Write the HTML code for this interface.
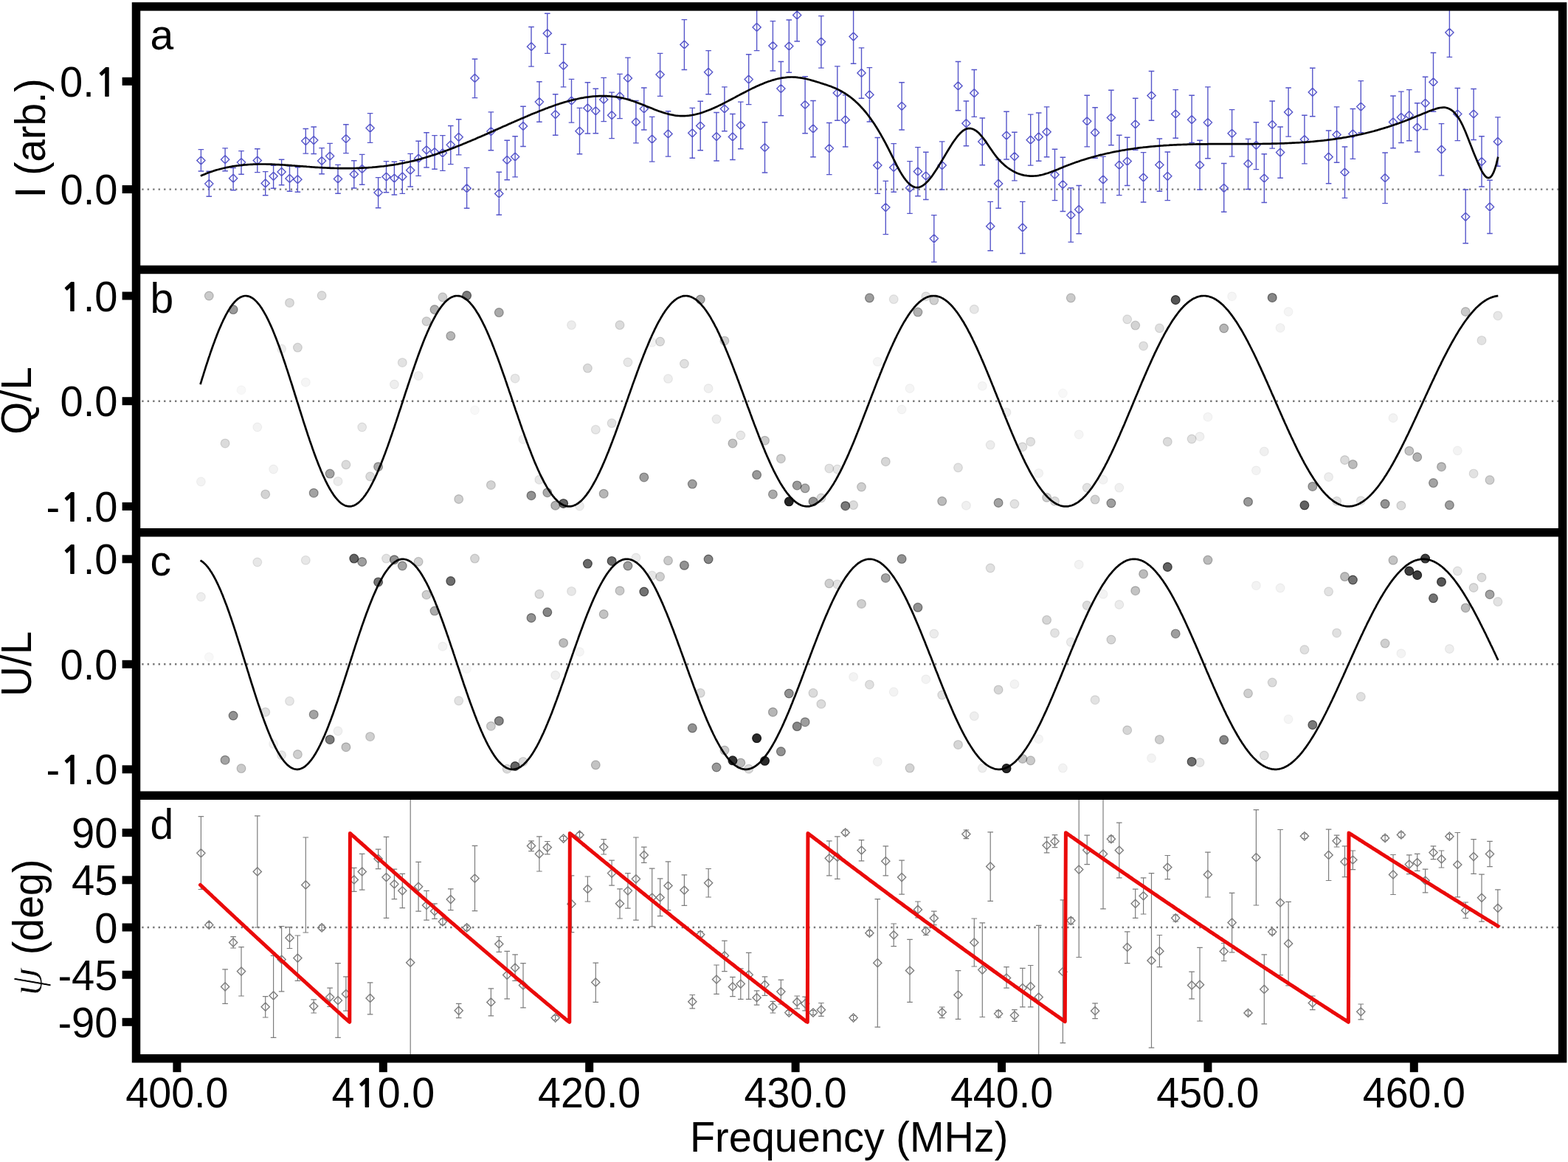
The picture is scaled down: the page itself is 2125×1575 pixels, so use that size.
<!DOCTYPE html>
<html><head><meta charset="utf-8"><title>Figure</title>
<style>html,body{margin:0;padding:0;background:#fff;}svg{display:block;}</style>
</head><body>
<svg xmlns="http://www.w3.org/2000/svg" width="2125" height="1575" viewBox="0 0 2125 1575"><rect x="0" y="0" width="2125" height="1575" fill="#fff"/><defs><clipPath id="cp0"><rect x="184.5" y="8.9" width="1933.1" height="356.6"/></clipPath><clipPath id="cp1"><rect x="184.5" y="365.5" width="1933.1" height="356.29999999999995"/></clipPath><clipPath id="cp2"><rect x="184.5" y="721.8" width="1933.1" height="356.5"/></clipPath><clipPath id="cp3"><rect x="184.5" y="1078.3" width="1933.1" height="356.4000000000001"/></clipPath></defs><g clip-path="url(#cp0)"><line x1="190.25" y1="256.6" x2="2111.85" y2="256.6" stroke="#787878" stroke-width="2.4" stroke-dasharray="2.4 5.0635" stroke-dashoffset="-1.950"/><path d="M272.4 202.6V232.0M268.6 202.6h7.6M268.6 232.0h7.6M272.4 211.9l5.6 5.6l-5.6 5.6l-5.6 -5.6zM283.3 232.2V266.2M279.5 232.2h7.6M279.5 266.2h7.6M283.3 243.5l5.6 5.6l-5.6 5.6l-5.6 -5.6zM305.1 200.9V231.8M301.3 200.9h7.6M301.3 231.8h7.6M305.1 210.6l5.6 5.6l-5.6 5.6l-5.6 -5.6zM316.1 227.6V257.7M312.3 227.6h7.6M312.3 257.7h7.6M316.1 236.1l5.6 5.6l-5.6 5.6l-5.6 -5.6zM327.0 204.6V236.2M323.2 204.6h7.6M323.2 236.2h7.6M327.0 214.5l5.6 5.6l-5.6 5.6l-5.6 -5.6zM348.8 201.7V233.6M345.0 201.7h7.6M345.0 233.6h7.6M348.8 211.9l5.6 5.6l-5.6 5.6l-5.6 -5.6zM359.7 232.6V264.8M355.9 232.6h7.6M355.9 264.8h7.6M359.7 242.8l5.6 5.6l-5.6 5.6l-5.6 -5.6zM370.6 224.3V255.3M366.8 224.3h7.6M366.8 255.3h7.6M370.6 233.2l5.6 5.6l-5.6 5.6l-5.6 -5.6zM381.6 216.2V250.7M377.8 216.2h7.6M377.8 250.7h7.6M381.6 227.3l5.6 5.6l-5.6 5.6l-5.6 -5.6zM392.5 225.0V259.2M388.7 225.0h7.6M388.7 259.2h7.6M392.5 236.3l5.6 5.6l-5.6 5.6l-5.6 -5.6zM403.4 226.7V260.2M399.6 226.7h7.6M399.6 260.2h7.6M403.4 237.6l5.6 5.6l-5.6 5.6l-5.6 -5.6zM414.3 174.5V208.1M410.5 174.5h7.6M410.5 208.1h7.6M414.3 185.5l5.6 5.6l-5.6 5.6l-5.6 -5.6zM425.2 172.0V208.5M421.4 172.0h7.6M421.4 208.5h7.6M425.2 184.5l5.6 5.6l-5.6 5.6l-5.6 -5.6zM436.1 200.6V235.8M432.3 200.6h7.6M432.3 235.8h7.6M436.1 212.4l5.6 5.6l-5.6 5.6l-5.6 -5.6zM447.1 194.4V227.6M443.3 194.4h7.6M443.3 227.6h7.6M447.1 206.0l5.6 5.6l-5.6 5.6l-5.6 -5.6zM458.0 223.4V262.3M454.2 223.4h7.6M454.2 262.3h7.6M458.0 236.9l5.6 5.6l-5.6 5.6l-5.6 -5.6zM468.9 168.7V207.6M465.1 168.7h7.6M465.1 207.6h7.6M468.9 182.5l5.6 5.6l-5.6 5.6l-5.6 -5.6zM479.8 217.7V255.0M476.0 217.7h7.6M476.0 255.0h7.6M479.8 230.6l5.6 5.6l-5.6 5.6l-5.6 -5.6zM490.7 209.4V250.3M486.9 209.4h7.6M486.9 250.3h7.6M490.7 223.3l5.6 5.6l-5.6 5.6l-5.6 -5.6zM501.6 153.6V193.4M497.8 153.6h7.6M497.8 193.4h7.6M501.6 168.0l5.6 5.6l-5.6 5.6l-5.6 -5.6zM512.6 240.6V281.8M508.8 240.6h7.6M508.8 281.8h7.6M512.6 255.4l5.6 5.6l-5.6 5.6l-5.6 -5.6zM523.5 218.6V260.8M519.7 218.6h7.6M519.7 260.8h7.6M523.5 234.0l5.6 5.6l-5.6 5.6l-5.6 -5.6zM534.4 219.3V264.0M530.6 219.3h7.6M530.6 264.0h7.6M534.4 236.0l5.6 5.6l-5.6 5.6l-5.6 -5.6zM545.3 217.6V262.4M541.5 217.6h7.6M541.5 262.4h7.6M545.3 233.8l5.6 5.6l-5.6 5.6l-5.6 -5.6zM556.2 208.4V253.0M552.4 208.4h7.6M552.4 253.0h7.6M556.2 225.1l5.6 5.6l-5.6 5.6l-5.6 -5.6zM567.1 191.3V238.4M563.3 191.3h7.6M563.3 238.4h7.6M567.1 209.1l5.6 5.6l-5.6 5.6l-5.6 -5.6zM578.0 179.7V227.0M574.2 179.7h7.6M574.2 227.0h7.6M578.0 197.7l5.6 5.6l-5.6 5.6l-5.6 -5.6zM589.0 183.6V229.2M585.2 183.6h7.6M585.2 229.2h7.6M589.0 200.4l5.6 5.6l-5.6 5.6l-5.6 -5.6zM599.9 183.6V231.4M596.1 183.6h7.6M596.1 231.4h7.6M599.9 201.7l5.6 5.6l-5.6 5.6l-5.6 -5.6zM610.8 170.5V222.6M607.0 170.5h7.6M607.0 222.6h7.6M610.8 190.7l5.6 5.6l-5.6 5.6l-5.6 -5.6zM621.7 161.7V209.9M617.9 161.7h7.6M617.9 209.9h7.6M621.7 180.2l5.6 5.6l-5.6 5.6l-5.6 -5.6zM632.6 227.4V282.2M628.8 227.4h7.6M628.8 282.2h7.6M632.6 249.6l5.6 5.6l-5.6 5.6l-5.6 -5.6zM643.5 80.0V132.6M639.7 80.0h7.6M639.7 132.6h7.6M643.5 100.3l5.6 5.6l-5.6 5.6l-5.6 -5.6zM665.4 151.9V203.8M661.6 151.9h7.6M661.6 203.8h7.6M665.4 172.5l5.6 5.6l-5.6 5.6l-5.6 -5.6zM676.3 233.3V291.3M672.5 233.3h7.6M672.5 291.3h7.6M676.3 256.8l5.6 5.6l-5.6 5.6l-5.6 -5.6zM687.2 190.2V243.8M683.4 190.2h7.6M683.4 243.8h7.6M687.2 211.3l5.6 5.6l-5.6 5.6l-5.6 -5.6zM698.1 184.7V239.9M694.3 184.7h7.6M694.3 239.9h7.6M698.1 206.9l5.6 5.6l-5.6 5.6l-5.6 -5.6zM709.0 144.2V198.5M705.2 144.2h7.6M705.2 198.5h7.6M709.0 165.3l5.6 5.6l-5.6 5.6l-5.6 -5.6zM720.0 36.5V90.1M716.2 36.5h7.6M716.2 90.1h7.6M720.0 57.6l5.6 5.6l-5.6 5.6l-5.6 -5.6zM730.9 110.7V165.2M727.1 110.7h7.6M727.1 165.2h7.6M730.9 132.5l5.6 5.6l-5.6 5.6l-5.6 -5.6zM741.8 18.3V72.4M738.0 18.3h7.6M738.0 72.4h7.6M741.8 39.6l5.6 5.6l-5.6 5.6l-5.6 -5.6zM752.7 127.8V183.2M748.9 127.8h7.6M748.9 183.2h7.6M752.7 149.5l5.6 5.6l-5.6 5.6l-5.6 -5.6zM763.6 60.3V117.9M759.8 60.3h7.6M759.8 117.9h7.6M763.6 83.4l5.6 5.6l-5.6 5.6l-5.6 -5.6zM774.5 107.4V166.1M770.7 107.4h7.6M770.7 166.1h7.6M774.5 130.9l5.6 5.6l-5.6 5.6l-5.6 -5.6zM785.5 146.4V208.8M781.7 146.4h7.6M781.7 208.8h7.6M785.5 172.1l5.6 5.6l-5.6 5.6l-5.6 -5.6zM796.4 111.8V181.0M792.6 111.8h7.6M792.6 181.0h7.6M796.4 140.8l5.6 5.6l-5.6 5.6l-5.6 -5.6zM807.3 120.3V180.8M803.5 120.3h7.6M803.5 180.8h7.6M807.3 144.7l5.6 5.6l-5.6 5.6l-5.6 -5.6zM818.2 105.4V164.6M814.4 105.4h7.6M814.4 164.6h7.6M818.2 129.4l5.6 5.6l-5.6 5.6l-5.6 -5.6zM829.1 125.1V187.6M825.3 125.1h7.6M825.3 187.6h7.6M829.1 150.6l5.6 5.6l-5.6 5.6l-5.6 -5.6zM840.0 100.4V160.6M836.2 100.4h7.6M836.2 160.6h7.6M840.0 124.8l5.6 5.6l-5.6 5.6l-5.6 -5.6zM850.9 78.1V134.3M847.1 78.1h7.6M847.1 134.3h7.6M850.9 100.3l5.6 5.6l-5.6 5.6l-5.6 -5.6zM861.9 136.5V193.9M858.1 136.5h7.6M858.1 193.9h7.6M861.9 159.8l5.6 5.6l-5.6 5.6l-5.6 -5.6zM872.8 119.0V176.0M869.0 119.0h7.6M869.0 176.0h7.6M872.8 141.9l5.6 5.6l-5.6 5.6l-5.6 -5.6zM883.7 158.4V219.1M879.9 158.4h7.6M879.9 219.1h7.6M883.7 183.0l5.6 5.6l-5.6 5.6l-5.6 -5.6zM894.6 72.4V130.4M890.8 72.4h7.6M890.8 130.4h7.6M894.6 95.5l5.6 5.6l-5.6 5.6l-5.6 -5.6zM905.5 150.8V212.1M901.7 150.8h7.6M901.7 212.1h7.6M905.5 175.8l5.6 5.6l-5.6 5.6l-5.6 -5.6zM927.4 26.6V94.5M923.6 26.6h7.6M923.6 94.5h7.6M927.4 54.9l5.6 5.6l-5.6 5.6l-5.6 -5.6zM938.3 146.4V214.3M934.5 146.4h7.6M934.5 214.3h7.6M938.3 174.7l5.6 5.6l-5.6 5.6l-5.6 -5.6zM949.2 137.2V203.8M945.4 137.2h7.6M945.4 203.8h7.6M949.2 164.9l5.6 5.6l-5.6 5.6l-5.6 -5.6zM960.1 68.6V127.8M956.3 68.6h7.6M956.3 127.8h7.6M960.1 92.2l5.6 5.6l-5.6 5.6l-5.6 -5.6zM971.0 152.5V218.0M967.2 152.5h7.6M967.2 218.0h7.6M971.0 179.5l5.6 5.6l-5.6 5.6l-5.6 -5.6zM981.9 117.9V177.7M978.1 117.9h7.6M978.1 177.7h7.6M981.9 141.9l5.6 5.6l-5.6 5.6l-5.6 -5.6zM992.9 154.5V216.5M989.1 154.5h7.6M989.1 216.5h7.6M992.9 179.8l5.6 5.6l-5.6 5.6l-5.6 -5.6zM1003.8 138.1V201.8M1000.0 138.1h7.6M1000.0 201.8h7.6M1003.8 164.2l5.6 5.6l-5.6 5.6l-5.6 -5.6zM1014.7 73.7V141.6M1010.9 73.7h7.6M1010.9 141.6h7.6M1014.7 102.0l5.6 5.6l-5.6 5.6l-5.6 -5.6zM1025.6 5.0V68.6M1021.8 5.0h7.6M1021.8 68.6h7.6M1025.6 31.3l5.6 5.6l-5.6 5.6l-5.6 -5.6zM1036.5 165.7V234.0M1032.7 165.7h7.6M1032.7 234.0h7.6M1036.5 194.4l5.6 5.6l-5.6 5.6l-5.6 -5.6zM1047.4 28.6V96.0M1043.6 28.6h7.6M1043.6 96.0h7.6M1047.4 56.5l5.6 5.6l-5.6 5.6l-5.6 -5.6zM1058.4 83.5V156.7M1054.6 83.5h7.6M1054.6 156.7h7.6M1058.4 114.5l5.6 5.6l-5.6 5.6l-5.6 -5.6zM1069.3 27.0V98.2M1065.5 27.0h7.6M1065.5 98.2h7.6M1069.3 56.9l5.6 5.6l-5.6 5.6l-5.6 -5.6zM1080.2 -15.0V56.0M1076.4 -15.0h7.6M1076.4 56.0h7.6M1080.2 14.9l5.6 5.6l-5.6 5.6l-5.6 -5.6zM1091.1 103.7V180.8M1087.3 103.7h7.6M1087.3 180.8h7.6M1091.1 136.4l5.6 5.6l-5.6 5.6l-5.6 -5.6zM1102.0 136.5V212.7M1098.2 136.5h7.6M1098.2 212.7h7.6M1102.0 168.8l5.6 5.6l-5.6 5.6l-5.6 -5.6zM1112.9 21.6V92.1M1109.1 21.6h7.6M1109.1 92.1h7.6M1112.9 51.0l5.6 5.6l-5.6 5.6l-5.6 -5.6zM1123.8 166.5V236.6M1120.0 166.5h7.6M1120.0 236.6h7.6M1123.8 195.5l5.6 5.6l-5.6 5.6l-5.6 -5.6zM1134.8 89.9V163.2M1131.0 89.9h7.6M1131.0 163.2h7.6M1134.8 120.4l5.6 5.6l-5.6 5.6l-5.6 -5.6zM1145.7 128.9V199.0M1141.9 128.9h7.6M1141.9 199.0h7.6M1145.7 156.8l5.6 5.6l-5.6 5.6l-5.6 -5.6zM1156.6 13.0V86.2M1152.8 13.0h7.6M1152.8 86.2h7.6M1156.6 44.0l5.6 5.6l-5.6 5.6l-5.6 -5.6zM1167.5 64.9V133.2M1163.7 64.9h7.6M1163.7 133.2h7.6M1167.5 93.3l5.6 5.6l-5.6 5.6l-5.6 -5.6zM1178.4 91.6V165.0M1174.6 91.6h7.6M1174.6 165.0h7.6M1178.4 122.8l5.6 5.6l-5.6 5.6l-5.6 -5.6zM1189.3 186.5V262.4M1185.5 186.5h7.6M1185.5 262.4h7.6M1189.3 218.5l5.6 5.6l-5.6 5.6l-5.6 -5.6zM1200.3 245.4V317.6M1196.5 245.4h7.6M1196.5 317.6h7.6M1200.3 275.5l5.6 5.6l-5.6 5.6l-5.6 -5.6zM1211.2 194.6V260.3M1207.4 194.6h7.6M1207.4 260.3h7.6M1211.2 221.4l5.6 5.6l-5.6 5.6l-5.6 -5.6zM1222.1 111.8V176.0M1218.3 111.8h7.6M1218.3 176.0h7.6M1222.1 138.2l5.6 5.6l-5.6 5.6l-5.6 -5.6zM1233.0 218.6V289.4M1229.2 218.6h7.6M1229.2 289.4h7.6M1233.0 249.2l5.6 5.6l-5.6 5.6l-5.6 -5.6zM1243.9 199.6V265.7M1240.1 199.6h7.6M1240.1 265.7h7.6M1243.9 226.8l5.6 5.6l-5.6 5.6l-5.6 -5.6zM1254.8 206.2V270.5M1251.0 206.2h7.6M1251.0 270.5h7.6M1254.8 232.8l5.6 5.6l-5.6 5.6l-5.6 -5.6zM1265.8 291.6V355.1M1262.0 291.6h7.6M1262.0 355.1h7.6M1265.8 317.7l5.6 5.6l-5.6 5.6l-5.6 -5.6zM1276.7 191.9V257.0M1272.9 191.9h7.6M1272.9 257.0h7.6M1276.7 218.5l5.6 5.6l-5.6 5.6l-5.6 -5.6zM1298.5 83.5V149.7M1294.7 83.5h7.6M1294.7 149.7h7.6M1298.5 110.8l5.6 5.6l-5.6 5.6l-5.6 -5.6zM1309.4 137.0V197.8M1305.6 137.0h7.6M1305.6 197.8h7.6M1309.4 161.6l5.6 5.6l-5.6 5.6l-5.6 -5.6zM1320.3 94.5V158.4M1316.5 94.5h7.6M1316.5 158.4h7.6M1320.3 120.6l5.6 5.6l-5.6 5.6l-5.6 -5.6zM1331.3 160.0V223.7M1327.5 160.0h7.6M1327.5 223.7h7.6M1331.3 186.3l5.6 5.6l-5.6 5.6l-5.6 -5.6zM1342.2 273.4V339.7M1338.4 273.4h7.6M1338.4 339.7h7.6M1342.2 301.1l5.6 5.6l-5.6 5.6l-5.6 -5.6zM1353.1 216.5V282.2M1349.3 216.5h7.6M1349.3 282.2h7.6M1353.1 243.3l5.6 5.6l-5.6 5.6l-5.6 -5.6zM1364.0 151.2V216.0M1360.2 151.2h7.6M1360.2 216.0h7.6M1364.0 178.0l5.6 5.6l-5.6 5.6l-5.6 -5.6zM1374.9 179.2V244.9M1371.1 179.2h7.6M1371.1 244.9h7.6M1374.9 206.5l5.6 5.6l-5.6 5.6l-5.6 -5.6zM1385.8 273.4V343.5M1382.0 273.4h7.6M1382.0 343.5h7.6M1385.8 302.8l5.6 5.6l-5.6 5.6l-5.6 -5.6zM1396.7 155.1V224.1M1392.9 155.1h7.6M1392.9 224.1h7.6M1396.7 184.1l5.6 5.6l-5.6 5.6l-5.6 -5.6zM1407.7 153.0V218.2M1403.9 153.0h7.6M1403.9 218.2h7.6M1407.7 179.8l5.6 5.6l-5.6 5.6l-5.6 -5.6zM1418.6 144.9V212.7M1414.8 144.9h7.6M1414.8 212.7h7.6M1418.6 173.2l5.6 5.6l-5.6 5.6l-5.6 -5.6zM1429.5 202.2V271.6M1425.7 202.2h7.6M1425.7 271.6h7.6M1429.5 231.2l5.6 5.6l-5.6 5.6l-5.6 -5.6zM1440.4 213.2V286.5M1436.6 213.2h7.6M1436.6 286.5h7.6M1440.4 244.4l5.6 5.6l-5.6 5.6l-5.6 -5.6zM1451.3 254.8V328.1M1447.5 254.8h7.6M1447.5 328.1h7.6M1451.3 286.0l5.6 5.6l-5.6 5.6l-5.6 -5.6zM1462.2 251.5V316.8M1458.4 251.5h7.6M1458.4 316.8h7.6M1462.2 278.3l5.6 5.6l-5.6 5.6l-5.6 -5.6zM1473.2 129.3V198.9M1469.4 129.3h7.6M1469.4 198.9h7.6M1473.2 158.7l5.6 5.6l-5.6 5.6l-5.6 -5.6zM1484.1 145.7V214.3M1480.3 145.7h7.6M1480.3 214.3h7.6M1484.1 174.1l5.6 5.6l-5.6 5.6l-5.6 -5.6zM1495.0 212.1V274.9M1491.2 212.1h7.6M1491.2 274.9h7.6M1495.0 237.8l5.6 5.6l-5.6 5.6l-5.6 -5.6zM1505.9 122.3V196.7M1502.1 122.3h7.6M1502.1 196.7h7.6M1505.9 153.9l5.6 5.6l-5.6 5.6l-5.6 -5.6zM1516.8 183.2V264.6M1513.0 183.2h7.6M1513.0 264.6h7.6M1516.8 218.1l5.6 5.6l-5.6 5.6l-5.6 -5.6zM1527.7 186.2V251.5M1523.9 186.2h7.6M1523.9 251.5h7.6M1527.7 213.0l5.6 5.6l-5.6 5.6l-5.6 -5.6zM1538.7 133.2V203.3M1534.9 133.2h7.6M1534.9 203.3h7.6M1538.7 162.7l5.6 5.6l-5.6 5.6l-5.6 -5.6zM1549.6 206.6V274.0M1545.8 206.6h7.6M1545.8 274.0h7.6M1549.6 234.9l5.6 5.6l-5.6 5.6l-5.6 -5.6zM1560.5 96.5V163.2M1556.7 96.5h7.6M1556.7 163.2h7.6M1560.5 123.9l5.6 5.6l-5.6 5.6l-5.6 -5.6zM1571.4 188.0V259.2M1567.6 188.0h7.6M1567.6 259.2h7.6M1571.4 217.9l5.6 5.6l-5.6 5.6l-5.6 -5.6zM1582.3 206.0V271.6M1578.5 206.0h7.6M1578.5 271.6h7.6M1582.3 233.2l5.6 5.6l-5.6 5.6l-5.6 -5.6zM1593.2 121.6V187.3M1589.4 121.6h7.6M1589.4 187.3h7.6M1593.2 148.9l5.6 5.6l-5.6 5.6l-5.6 -5.6zM1615.1 129.3V193.5M1611.3 129.3h7.6M1611.3 193.5h7.6M1615.1 156.6l5.6 5.6l-5.6 5.6l-5.6 -5.6zM1626.0 190.2V257.0M1622.2 190.2h7.6M1622.2 257.0h7.6M1626.0 218.1l5.6 5.6l-5.6 5.6l-5.6 -5.6zM1636.9 117.9V214.7M1633.1 117.9h7.6M1633.1 214.7h7.6M1636.9 160.5l5.6 5.6l-5.6 5.6l-5.6 -5.6zM1658.7 221.5V287.2M1654.9 221.5h7.6M1654.9 287.2h7.6M1658.7 249.2l5.6 5.6l-5.6 5.6l-5.6 -5.6zM1669.6 148.6V212.1M1665.8 148.6h7.6M1665.8 212.1h7.6M1669.6 175.2l5.6 5.6l-5.6 5.6l-5.6 -5.6zM1691.5 188.4V256.5M1687.7 188.4h7.6M1687.7 256.5h7.6M1691.5 216.3l5.6 5.6l-5.6 5.6l-5.6 -5.6zM1702.4 165.7V229.6M1698.6 165.7h7.6M1698.6 229.6h7.6M1702.4 191.2l5.6 5.6l-5.6 5.6l-5.6 -5.6zM1713.3 208.8V274.5M1709.5 208.8h7.6M1709.5 274.5h7.6M1713.3 236.0l5.6 5.6l-5.6 5.6l-5.6 -5.6zM1724.2 137.0V201.1M1720.4 137.0h7.6M1720.4 201.1h7.6M1724.2 163.3l5.6 5.6l-5.6 5.6l-5.6 -5.6zM1735.1 172.0V241.2M1731.3 172.0h7.6M1731.3 241.2h7.6M1735.1 201.0l5.6 5.6l-5.6 5.6l-5.6 -5.6zM1746.1 119.0V185.1M1742.3 119.0h7.6M1742.3 185.1h7.6M1746.1 146.3l5.6 5.6l-5.6 5.6l-5.6 -5.6zM1767.9 156.2V221.9M1764.1 156.2h7.6M1764.1 221.9h7.6M1767.9 183.5l5.6 5.6l-5.6 5.6l-5.6 -5.6zM1778.8 92.3V157.8M1775.0 92.3h7.6M1775.0 157.8h7.6M1778.8 119.3l5.6 5.6l-5.6 5.6l-5.6 -5.6zM1800.6 177.0V248.7M1796.8 177.0h7.6M1796.8 248.7h7.6M1800.6 207.1l5.6 5.6l-5.6 5.6l-5.6 -5.6zM1811.6 144.9V220.2M1807.8 144.9h7.6M1807.8 220.2h7.6M1811.6 176.9l5.6 5.6l-5.6 5.6l-5.6 -5.6zM1822.5 199.0V268.4M1818.7 199.0h7.6M1818.7 268.4h7.6M1822.5 227.9l5.6 5.6l-5.6 5.6l-5.6 -5.6zM1833.4 147.5V215.4M1829.6 147.5h7.6M1829.6 215.4h7.6M1833.4 175.8l5.6 5.6l-5.6 5.6l-5.6 -5.6zM1844.3 109.6V179.7M1840.5 109.6h7.6M1840.5 179.7h7.6M1844.3 139.0l5.6 5.6l-5.6 5.6l-5.6 -5.6zM1877.1 207.0V275.6M1873.3 207.0h7.6M1873.3 275.6h7.6M1877.1 235.6l5.6 5.6l-5.6 5.6l-5.6 -5.6zM1888.0 130.0V200.7M1884.2 130.0h7.6M1884.2 200.7h7.6M1888.0 159.8l5.6 5.6l-5.6 5.6l-5.6 -5.6zM1898.9 124.1V193.5M1895.1 124.1h7.6M1895.1 193.5h7.6M1898.9 153.3l5.6 5.6l-5.6 5.6l-5.6 -5.6zM1909.8 121.6V190.8M1906.0 121.6h7.6M1906.0 190.8h7.6M1909.8 150.6l5.6 5.6l-5.6 5.6l-5.6 -5.6zM1920.7 139.8V206.0M1916.9 139.8h7.6M1916.9 206.0h7.6M1920.7 167.1l5.6 5.6l-5.6 5.6l-5.6 -5.6zM1931.6 104.3V175.5M1927.8 104.3h7.6M1927.8 175.5h7.6M1931.6 134.2l5.6 5.6l-5.6 5.6l-5.6 -5.6zM1942.5 71.5V151.2M1938.7 71.5h7.6M1938.7 151.2h7.6M1942.5 105.7l5.6 5.6l-5.6 5.6l-5.6 -5.6zM1953.5 167.6V237.9M1949.7 167.6h7.6M1949.7 237.9h7.6M1953.5 197.1l5.6 5.6l-5.6 5.6l-5.6 -5.6zM1964.4 5.0V77.4M1960.6 5.0h7.6M1960.6 77.4h7.6M1964.4 38.5l5.6 5.6l-5.6 5.6l-5.6 -5.6zM1975.3 119.5V190.6M1971.5 119.5h7.6M1971.5 190.6h7.6M1975.3 148.9l5.6 5.6l-5.6 5.6l-5.6 -5.6zM1986.2 257.0V329.7M1982.4 257.0h7.6M1982.4 329.7h7.6M1986.2 288.2l5.6 5.6l-5.6 5.6l-5.6 -5.6zM1997.1 120.5V189.5M1993.3 120.5h7.6M1993.3 189.5h7.6M1997.1 148.9l5.6 5.6l-5.6 5.6l-5.6 -5.6zM2008.0 184.7V253.0M2004.2 184.7h7.6M2004.2 253.0h7.6M2008.0 213.5l5.6 5.6l-5.6 5.6l-5.6 -5.6zM2019.0 244.3V316.5M2015.2 244.3h7.6M2015.2 316.5h7.6M2019.0 274.8l5.6 5.6l-5.6 5.6l-5.6 -5.6zM2029.9 158.9V225.2M2026.1 158.9h7.6M2026.1 225.2h7.6M2029.9 186.3l5.6 5.6l-5.6 5.6l-5.6 -5.6z" fill="none" stroke="#5656ca" stroke-width="1.4"/><path d="M271.9 238.4 L273.9 237.5 L275.9 236.7 L277.9 235.9 L279.9 235.1 L281.9 234.3 L283.9 233.6 L285.9 232.9 L287.9 232.2 L289.9 231.5 L291.9 230.9 L293.9 230.3 L295.9 229.8 L297.9 229.2 L299.9 228.7 L301.9 228.2 L303.9 227.7 L305.9 227.3 L307.9 226.9 L309.9 226.5 L311.9 226.1 L313.9 225.7 L315.9 225.4 L317.9 225.1 L319.9 224.8 L321.9 224.5 L323.9 224.3 L325.9 224.0 L327.9 223.8 L329.9 223.6 L331.9 223.4 L333.9 223.3 L335.9 223.1 L337.9 223.0 L339.9 222.9 L341.9 222.8 L343.9 222.7 L345.9 222.6 L347.9 222.6 L349.9 222.5 L351.9 222.5 L353.9 222.5 L355.9 222.5 L357.9 222.5 L359.9 222.5 L361.9 222.6 L363.9 222.6 L365.9 222.7 L367.9 222.7 L369.9 222.8 L371.9 222.9 L373.9 223.0 L375.9 223.1 L377.9 223.2 L379.9 223.3 L381.9 223.4 L383.9 223.5 L385.9 223.6 L387.9 223.8 L389.9 223.9 L391.9 224.1 L393.9 224.2 L395.9 224.4 L397.9 224.5 L399.9 224.7 L401.9 224.8 L403.9 225.0 L405.9 225.1 L407.9 225.3 L409.9 225.4 L411.9 225.6 L413.9 225.7 L415.9 225.9 L417.9 226.0 L419.9 226.2 L421.9 226.3 L423.9 226.5 L425.9 226.6 L427.9 226.8 L429.9 226.9 L431.9 227.0 L433.9 227.1 L435.9 227.2 L437.9 227.3 L439.9 227.4 L441.9 227.5 L443.9 227.6 L445.9 227.7 L447.9 227.8 L449.9 227.9 L451.9 227.9 L453.9 228.0 L455.9 228.0 L457.9 228.1 L459.9 228.1 L461.9 228.1 L463.9 228.2 L465.9 228.2 L467.9 228.2 L469.9 228.2 L471.9 228.2 L473.9 228.2 L475.9 228.1 L477.9 228.1 L479.9 228.1 L481.9 228.0 L483.9 227.9 L485.9 227.9 L487.9 227.8 L489.9 227.7 L491.9 227.6 L493.9 227.5 L495.9 227.4 L497.9 227.3 L499.9 227.1 L501.9 227.0 L503.9 226.9 L505.9 226.7 L507.9 226.5 L509.9 226.3 L511.9 226.1 L513.9 225.9 L515.9 225.7 L517.9 225.5 L519.9 225.3 L521.9 225.0 L523.9 224.8 L525.9 224.5 L527.9 224.2 L529.9 223.9 L531.9 223.6 L533.9 223.3 L535.9 223.0 L537.9 222.6 L539.9 222.3 L541.9 221.9 L543.9 221.5 L545.9 221.2 L547.9 220.7 L549.9 220.3 L551.9 219.9 L553.9 219.5 L555.9 219.0 L557.9 218.5 L559.9 218.1 L561.9 217.6 L563.9 217.1 L565.9 216.5 L567.9 216.0 L569.9 215.5 L571.9 214.9 L573.9 214.3 L575.9 213.7 L577.9 213.1 L579.9 212.5 L581.9 211.9 L583.9 211.3 L585.9 210.6 L587.9 210.0 L589.9 209.3 L591.9 208.7 L593.9 208.0 L595.9 207.3 L597.9 206.6 L599.9 205.9 L601.9 205.2 L603.9 204.4 L605.9 203.7 L607.9 202.9 L609.9 202.2 L611.9 201.4 L613.9 200.7 L615.9 199.9 L617.9 199.1 L619.9 198.3 L621.9 197.5 L623.9 196.7 L625.9 195.9 L627.9 195.1 L629.9 194.3 L631.9 193.4 L633.9 192.6 L635.9 191.8 L637.9 190.9 L639.9 190.1 L641.9 189.2 L643.9 188.4 L645.9 187.5 L647.9 186.6 L649.9 185.8 L651.9 184.9 L653.9 184.0 L655.9 183.2 L657.9 182.3 L659.9 181.4 L661.9 180.5 L663.9 179.6 L665.9 178.7 L667.9 177.9 L669.9 177.0 L671.9 176.1 L673.9 175.2 L675.9 174.3 L677.9 173.4 L679.9 172.5 L681.9 171.6 L683.9 170.8 L685.9 169.9 L687.9 169.0 L689.9 168.1 L691.9 167.2 L693.9 166.3 L695.9 165.5 L697.9 164.6 L699.9 163.7 L701.9 162.8 L703.9 162.0 L705.9 161.1 L707.9 160.2 L709.9 159.4 L711.9 158.5 L713.9 157.7 L715.9 156.8 L717.9 156.0 L719.9 155.1 L721.9 154.3 L723.9 153.5 L725.9 152.7 L727.9 151.9 L729.9 151.0 L731.9 150.2 L733.9 149.5 L735.9 148.7 L737.9 147.9 L739.9 147.1 L741.9 146.4 L743.9 145.6 L745.9 144.9 L747.9 144.2 L749.9 143.5 L751.9 142.8 L753.9 142.1 L755.9 141.4 L757.9 140.8 L759.9 140.1 L761.9 139.5 L763.9 138.9 L765.9 138.3 L767.9 137.7 L769.9 137.2 L771.9 136.6 L773.9 136.1 L775.9 135.6 L777.9 135.1 L779.9 134.6 L781.9 134.2 L783.9 133.7 L785.9 133.3 L787.9 132.9 L789.9 132.6 L791.9 132.2 L793.9 131.9 L795.9 131.6 L797.9 131.4 L799.9 131.1 L801.9 130.9 L803.9 130.7 L805.9 130.5 L807.9 130.4 L809.9 130.3 L811.9 130.2 L813.9 130.1 L815.9 130.1 L817.9 130.1 L819.9 130.2 L821.9 130.2 L823.9 130.3 L825.9 130.4 L827.9 130.6 L829.9 130.8 L831.9 131.0 L833.9 131.2 L835.9 131.5 L837.9 131.8 L839.9 132.2 L841.9 132.6 L843.9 133.0 L845.9 133.5 L847.9 134.0 L849.9 134.5 L851.9 135.1 L853.9 135.7 L855.9 136.4 L857.9 137.0 L859.9 137.7 L861.9 138.4 L863.9 139.2 L865.9 139.9 L867.9 140.7 L869.9 141.5 L871.9 142.3 L873.9 143.1 L875.9 143.9 L877.9 144.7 L879.9 145.5 L881.9 146.3 L883.9 147.1 L885.9 147.9 L887.9 148.7 L889.9 149.4 L891.9 150.2 L893.9 150.9 L895.9 151.6 L897.9 152.2 L899.9 152.9 L901.9 153.5 L903.9 154.0 L905.9 154.6 L907.9 155.1 L909.9 155.5 L911.9 155.9 L913.9 156.3 L915.9 156.6 L917.9 156.8 L919.9 157.0 L921.9 157.1 L923.9 157.2 L925.9 157.2 L927.9 157.1 L929.9 157.0 L931.9 156.8 L933.9 156.6 L935.9 156.3 L937.9 156.0 L939.9 155.6 L941.9 155.2 L943.9 154.7 L945.9 154.2 L947.9 153.7 L949.9 153.1 L951.9 152.5 L953.9 151.8 L955.9 151.1 L957.9 150.3 L959.9 149.6 L961.9 148.8 L963.9 147.9 L965.9 147.1 L967.9 146.2 L969.9 145.3 L971.9 144.4 L973.9 143.4 L975.9 142.4 L977.9 141.5 L979.9 140.5 L981.9 139.4 L983.9 138.4 L985.9 137.4 L987.9 136.3 L989.9 135.3 L991.9 134.2 L993.9 133.1 L995.9 132.1 L997.9 131.0 L999.9 129.9 L1001.9 128.9 L1003.9 127.8 L1005.9 126.8 L1007.9 125.7 L1009.9 124.7 L1011.9 123.6 L1013.9 122.6 L1015.9 121.6 L1017.9 120.6 L1019.9 119.6 L1021.9 118.7 L1023.9 117.7 L1025.9 116.8 L1027.9 115.9 L1029.9 115.0 L1031.9 114.2 L1033.9 113.4 L1035.9 112.6 L1037.9 111.8 L1039.9 111.1 L1041.9 110.3 L1043.9 109.7 L1045.9 109.0 L1047.9 108.4 L1049.9 107.9 L1051.9 107.3 L1053.9 106.8 L1055.9 106.4 L1057.9 106.0 L1059.9 105.6 L1061.9 105.3 L1063.9 105.1 L1065.9 104.8 L1067.9 104.7 L1069.9 104.6 L1071.9 104.5 L1073.9 104.5 L1075.9 104.6 L1077.9 104.7 L1079.9 104.8 L1081.9 105.1 L1083.9 105.3 L1085.9 105.6 L1087.9 106.0 L1089.9 106.4 L1091.9 106.8 L1093.9 107.3 L1095.9 107.8 L1097.9 108.3 L1099.9 108.9 L1101.9 109.4 L1103.9 110.0 L1105.9 110.6 L1107.9 111.2 L1109.9 111.8 L1111.9 112.5 L1113.9 113.1 L1115.9 113.7 L1117.9 114.4 L1119.9 115.0 L1121.9 115.7 L1123.9 116.4 L1125.9 117.1 L1127.9 117.9 L1129.9 118.7 L1131.9 119.5 L1133.9 120.4 L1135.9 121.4 L1137.9 122.4 L1139.9 123.4 L1141.9 124.6 L1143.9 125.8 L1145.9 127.0 L1147.9 128.4 L1149.9 129.8 L1151.9 131.2 L1153.9 132.8 L1155.9 134.4 L1157.9 136.1 L1159.9 137.9 L1161.9 139.8 L1163.9 141.8 L1165.9 143.8 L1167.9 146.0 L1169.9 148.2 L1171.9 150.5 L1173.9 152.9 L1175.9 155.5 L1177.9 158.1 L1179.9 160.8 L1181.9 163.7 L1183.9 166.6 L1185.9 169.6 L1187.9 172.8 L1189.9 176.0 L1191.9 179.4 L1193.9 182.8 L1195.9 186.4 L1197.9 190.0 L1199.9 193.7 L1201.9 197.5 L1203.9 201.4 L1205.9 205.4 L1207.9 209.4 L1209.9 213.4 L1211.9 217.4 L1213.9 221.4 L1215.9 225.3 L1217.9 229.0 L1219.9 232.6 L1221.9 235.9 L1223.9 239.0 L1225.9 241.9 L1227.9 244.5 L1229.9 246.9 L1231.9 248.9 L1233.9 250.6 L1235.9 252.0 L1237.9 253.1 L1239.9 253.8 L1241.9 254.2 L1243.9 254.1 L1245.9 253.7 L1247.9 253.0 L1249.9 252.0 L1251.9 250.6 L1253.9 249.0 L1255.9 247.1 L1257.9 245.0 L1259.9 242.7 L1261.9 240.2 L1263.9 237.5 L1265.9 234.6 L1267.9 231.6 L1269.9 228.5 L1271.9 225.3 L1273.9 222.1 L1275.9 218.7 L1277.9 215.4 L1279.9 212.0 L1281.9 208.6 L1283.9 205.3 L1285.9 202.0 L1287.9 198.8 L1289.9 195.6 L1291.9 192.6 L1293.9 189.7 L1295.9 187.0 L1297.9 184.4 L1299.9 182.1 L1301.9 180.0 L1303.9 178.2 L1305.9 176.7 L1307.9 175.5 L1309.9 174.6 L1311.9 174.1 L1313.9 174.0 L1315.9 174.2 L1317.9 174.7 L1319.9 175.6 L1321.9 176.7 L1323.9 178.1 L1325.9 179.8 L1327.9 181.8 L1329.9 184.1 L1331.9 186.5 L1333.9 189.1 L1335.9 191.9 L1337.9 194.8 L1339.9 197.7 L1341.9 200.7 L1343.9 203.6 L1345.9 206.5 L1347.9 209.2 L1349.9 211.9 L1351.9 214.3 L1353.9 216.6 L1355.9 218.8 L1357.9 220.8 L1359.9 222.6 L1361.9 224.4 L1363.9 226.0 L1365.9 227.5 L1367.9 228.9 L1369.9 230.2 L1371.9 231.4 L1373.9 232.5 L1375.9 233.5 L1377.9 234.4 L1379.9 235.2 L1381.9 235.9 L1383.9 236.6 L1385.9 237.1 L1387.9 237.6 L1389.9 237.9 L1391.9 238.2 L1393.9 238.4 L1395.9 238.6 L1397.9 238.6 L1399.9 238.6 L1401.9 238.5 L1403.9 238.3 L1405.9 238.1 L1407.9 237.8 L1409.9 237.4 L1411.9 237.0 L1413.9 236.5 L1415.9 235.9 L1417.9 235.3 L1419.9 234.7 L1421.9 234.0 L1423.9 233.3 L1425.9 232.5 L1427.9 231.8 L1429.9 231.0 L1431.9 230.2 L1433.9 229.4 L1435.9 228.5 L1437.9 227.7 L1439.9 226.9 L1441.9 226.1 L1443.9 225.3 L1445.9 224.5 L1447.9 223.7 L1449.9 223.0 L1451.9 222.2 L1453.9 221.5 L1455.9 220.8 L1457.9 220.0 L1459.9 219.4 L1461.9 218.7 L1463.9 218.0 L1465.9 217.3 L1467.9 216.7 L1469.9 216.1 L1471.9 215.5 L1473.9 214.9 L1475.9 214.3 L1477.9 213.7 L1479.9 213.1 L1481.9 212.6 L1483.9 212.0 L1485.9 211.5 L1487.9 211.0 L1489.9 210.4 L1491.9 209.9 L1493.9 209.5 L1495.9 209.0 L1497.9 208.5 L1499.9 208.0 L1501.9 207.6 L1503.9 207.2 L1505.9 206.7 L1507.9 206.3 L1509.9 205.9 L1511.9 205.5 L1513.9 205.1 L1515.9 204.8 L1517.9 204.4 L1519.9 204.0 L1521.9 203.7 L1523.9 203.4 L1525.9 203.0 L1527.9 202.7 L1529.9 202.4 L1531.9 202.1 L1533.9 201.8 L1535.9 201.5 L1537.9 201.2 L1539.9 201.0 L1541.9 200.7 L1543.9 200.4 L1545.9 200.2 L1547.9 200.0 L1549.9 199.7 L1551.9 199.5 L1553.9 199.3 L1555.9 199.1 L1557.9 198.9 L1559.9 198.7 L1561.9 198.5 L1563.9 198.3 L1565.9 198.1 L1567.9 198.0 L1569.9 197.8 L1571.9 197.7 L1573.9 197.5 L1575.9 197.4 L1577.9 197.2 L1579.9 197.1 L1581.9 197.0 L1583.9 196.9 L1585.9 196.7 L1587.9 196.6 L1589.9 196.5 L1591.9 196.4 L1593.9 196.3 L1595.9 196.2 L1597.9 196.2 L1599.9 196.1 L1601.9 196.0 L1603.9 195.9 L1605.9 195.9 L1607.9 195.8 L1609.9 195.7 L1611.9 195.7 L1613.9 195.6 L1615.9 195.6 L1617.9 195.5 L1619.9 195.5 L1621.9 195.4 L1623.9 195.4 L1625.9 195.4 L1627.9 195.3 L1629.9 195.3 L1631.9 195.3 L1633.9 195.3 L1635.9 195.3 L1637.9 195.2 L1639.9 195.2 L1641.9 195.2 L1643.9 195.2 L1645.9 195.2 L1647.9 195.2 L1649.9 195.2 L1651.9 195.2 L1653.9 195.1 L1655.9 195.1 L1657.9 195.1 L1659.9 195.1 L1661.9 195.1 L1663.9 195.1 L1665.9 195.1 L1667.9 195.1 L1669.9 195.1 L1671.9 195.1 L1673.9 195.1 L1675.9 195.1 L1677.9 195.1 L1679.9 195.1 L1681.9 195.1 L1683.9 195.1 L1685.9 195.1 L1687.9 195.1 L1689.9 195.1 L1691.9 195.1 L1693.9 195.1 L1695.9 195.1 L1697.9 195.1 L1699.9 195.1 L1701.9 195.0 L1703.9 195.0 L1705.9 195.0 L1707.9 195.0 L1709.9 195.0 L1711.9 194.9 L1713.9 194.9 L1715.9 194.9 L1717.9 194.8 L1719.9 194.8 L1721.9 194.8 L1723.9 194.7 L1725.9 194.7 L1727.9 194.6 L1729.9 194.6 L1731.9 194.5 L1733.9 194.5 L1735.9 194.4 L1737.9 194.3 L1739.9 194.3 L1741.9 194.2 L1743.9 194.1 L1745.9 194.0 L1747.9 193.9 L1749.9 193.8 L1751.9 193.7 L1753.9 193.6 L1755.9 193.5 L1757.9 193.4 L1759.9 193.3 L1761.9 193.2 L1763.9 193.0 L1765.9 192.9 L1767.9 192.8 L1769.9 192.6 L1771.9 192.5 L1773.9 192.3 L1775.9 192.1 L1777.9 192.0 L1779.9 191.8 L1781.9 191.6 L1783.9 191.4 L1785.9 191.2 L1787.9 191.0 L1789.9 190.8 L1791.9 190.6 L1793.9 190.4 L1795.9 190.1 L1797.9 189.9 L1799.9 189.6 L1801.9 189.4 L1803.9 189.1 L1805.9 188.9 L1807.9 188.6 L1809.9 188.3 L1811.9 188.0 L1813.9 187.7 L1815.9 187.4 L1817.9 187.1 L1819.9 186.7 L1821.9 186.4 L1823.9 186.1 L1825.9 185.7 L1827.9 185.3 L1829.9 185.0 L1831.9 184.6 L1833.9 184.2 L1835.9 183.8 L1837.9 183.4 L1839.9 183.0 L1841.9 182.5 L1843.9 182.1 L1845.9 181.6 L1847.9 181.2 L1849.9 180.7 L1851.9 180.2 L1853.9 179.7 L1855.9 179.2 L1857.9 178.7 L1859.9 178.2 L1861.9 177.7 L1863.9 177.1 L1865.9 176.6 L1867.9 176.0 L1869.9 175.4 L1871.9 174.8 L1873.9 174.2 L1875.9 173.6 L1877.9 173.0 L1879.9 172.4 L1881.9 171.7 L1883.9 171.1 L1885.9 170.4 L1887.9 169.8 L1889.9 169.1 L1891.9 168.4 L1893.9 167.7 L1895.9 167.0 L1897.9 166.2 L1899.9 165.5 L1901.9 164.7 L1903.9 164.0 L1905.9 163.2 L1907.9 162.4 L1909.9 161.7 L1911.9 160.9 L1913.9 160.1 L1915.9 159.3 L1917.9 158.4 L1919.9 157.6 L1921.9 156.8 L1923.9 156.0 L1925.9 155.2 L1927.9 154.3 L1929.9 153.5 L1931.9 152.7 L1933.9 151.9 L1935.9 151.1 L1937.9 150.3 L1939.9 149.6 L1941.9 148.8 L1943.9 148.2 L1945.9 147.5 L1947.9 146.9 L1949.9 146.4 L1951.9 146.0 L1953.9 145.8 L1955.9 145.7 L1957.9 145.7 L1959.9 146.0 L1961.9 146.6 L1963.9 147.4 L1965.9 148.5 L1967.9 149.8 L1969.9 151.5 L1971.9 153.6 L1973.9 156.0 L1975.9 158.7 L1977.9 161.8 L1979.9 165.4 L1981.9 169.3 L1983.9 173.7 L1985.9 178.3 L1987.9 183.2 L1989.9 188.3 L1991.9 193.5 L1993.9 198.6 L1995.9 203.7 L1997.9 208.7 L1999.9 213.6 L2001.9 218.3 L2003.9 223.0 L2005.9 227.3 L2007.9 231.3 L2009.9 234.8 L2011.9 237.7 L2013.9 239.8 L2015.9 241.0 L2017.9 241.1 L2019.9 240.2 L2021.9 237.9 L2023.9 234.2 L2025.9 229.1 L2027.9 222.4 L2029.9 214.0 L2030.2 212.6" fill="none" stroke="#000" stroke-width="2.7" stroke-linejoin="round"/></g><g clip-path="url(#cp1)"><line x1="190.25" y1="543.7" x2="2111.85" y2="543.7" stroke="#787878" stroke-width="2.4" stroke-dasharray="2.4 5.0635" stroke-dashoffset="-1.950"/><path d="M271.5 521.0 L272.8 516.9 L274.0 512.8 L275.3 508.8 L276.5 504.8 L277.8 500.8 L279.0 496.9 L280.3 493.0 L281.6 489.1 L282.8 485.3 L284.1 481.6 L285.3 477.9 L286.6 474.2 L287.8 470.7 L289.1 467.1 L290.4 463.7 L291.6 460.3 L292.9 457.0 L294.1 453.7 L295.4 450.6 L296.6 447.5 L297.9 444.5 L299.2 441.6 L300.4 438.7 L301.7 436.0 L302.9 433.3 L304.2 430.8 L305.4 428.3 L306.7 425.9 L308.0 423.7 L309.2 421.5 L310.5 419.4 L311.7 417.5 L313.0 415.6 L314.2 413.8 L315.5 412.2 L316.8 410.7 L318.0 409.2 L319.3 407.9 L320.5 406.7 L321.8 405.6 L323.0 404.6 L324.3 403.8 L325.6 403.0 L326.8 402.4 L328.1 401.9 L329.3 401.5 L330.6 401.2 L331.8 401.0 L333.1 401.0 L334.4 401.1 L335.6 401.3 L336.9 401.6 L338.1 402.0 L339.4 402.5 L340.6 403.2 L341.9 403.9 L343.2 404.8 L344.4 405.8 L345.7 406.9 L346.9 408.1 L348.2 409.4 L349.4 410.9 L350.7 412.4 L352.0 414.0 L353.2 415.8 L354.5 417.6 L355.7 419.6 L357.0 421.7 L358.2 423.8 L359.5 426.1 L360.8 428.4 L362.0 430.8 L363.3 433.4 L364.5 436.0 L365.8 438.7 L367.0 441.4 L368.3 444.3 L369.6 447.2 L370.8 450.3 L372.1 453.4 L373.3 456.5 L374.6 459.8 L375.8 463.1 L377.1 466.4 L378.4 469.8 L379.6 473.3 L380.9 476.9 L382.1 480.4 L383.4 484.1 L384.6 487.8 L385.9 491.5 L387.2 495.3 L388.4 499.1 L389.7 502.9 L390.9 506.8 L392.2 510.7 L393.4 514.6 L394.7 518.5 L396.0 522.5 L397.2 526.5 L398.5 530.5 L399.7 534.5 L401.0 538.5 L402.2 542.5 L403.5 546.5 L404.8 550.5 L406.0 554.5 L407.3 558.5 L408.5 562.4 L409.8 566.4 L411.0 570.3 L412.3 574.3 L413.6 578.2 L414.8 582.0 L416.1 585.9 L417.3 589.7 L418.6 593.4 L419.8 597.1 L421.1 600.8 L422.4 604.4 L423.6 608.0 L424.9 611.6 L426.1 615.0 L427.4 618.5 L428.6 621.8 L429.9 625.1 L431.2 628.4 L432.4 631.5 L433.7 634.6 L434.9 637.7 L436.2 640.6 L437.4 643.5 L438.7 646.3 L440.0 649.0 L441.2 651.6 L442.5 654.2 L443.7 656.7 L445.0 659.0 L446.2 661.3 L447.5 663.5 L448.8 665.6 L450.0 667.6 L451.3 669.6 L452.5 671.4 L453.8 673.1 L455.0 674.7 L456.3 676.2 L457.6 677.6 L458.8 678.9 L460.1 680.2 L461.3 681.3 L462.6 682.3 L463.8 683.1 L465.1 683.9 L466.4 684.6 L467.6 685.2 L468.9 685.6 L470.1 686.0 L471.4 686.2 L472.6 686.4 L473.9 686.4 L475.2 686.3 L476.4 686.1 L477.7 685.8 L478.9 685.4 L480.2 684.9 L481.4 684.3 L482.7 683.6 L484.0 682.7 L485.2 681.8 L486.5 680.8 L487.7 679.6 L489.0 678.4 L490.2 677.0 L491.5 675.6 L492.8 674.0 L494.0 672.4 L495.3 670.7 L496.5 668.8 L497.8 666.9 L499.1 664.9 L500.3 662.8 L501.6 660.6 L502.8 658.3 L504.1 655.9 L505.3 653.5 L506.6 650.9 L507.9 648.3 L509.1 645.6 L510.4 642.9 L511.6 640.0 L512.9 637.1 L514.1 634.1 L515.4 631.1 L516.7 628.0 L517.9 624.8 L519.2 621.6 L520.4 618.3 L521.7 615.0 L522.9 611.6 L524.2 608.1 L525.5 604.6 L526.7 601.1 L528.0 597.5 L529.2 593.9 L530.5 590.3 L531.7 586.6 L533.0 582.9 L534.3 579.2 L535.5 575.4 L536.8 571.6 L538.0 567.8 L539.3 564.0 L540.5 560.2 L541.8 556.3 L543.1 552.5 L544.3 548.6 L545.6 544.7 L546.8 540.9 L548.1 537.0 L549.3 533.2 L550.6 529.3 L551.9 525.5 L553.1 521.7 L554.4 517.9 L555.6 514.1 L556.9 510.4 L558.1 506.6 L559.4 502.9 L560.7 499.3 L561.9 495.6 L563.2 492.0 L564.4 488.5 L565.7 484.9 L566.9 481.5 L568.2 478.0 L569.5 474.6 L570.7 471.3 L572.0 468.0 L573.2 464.8 L574.5 461.6 L575.7 458.5 L577.0 455.5 L578.3 452.5 L579.5 449.6 L580.8 446.8 L582.0 444.0 L583.3 441.3 L584.5 438.7 L585.8 436.1 L587.1 433.7 L588.3 431.3 L589.6 429.0 L590.8 426.7 L592.1 424.6 L593.3 422.5 L594.6 420.6 L595.9 418.7 L597.1 416.9 L598.4 415.2 L599.6 413.6 L600.9 412.1 L602.1 410.6 L603.4 409.3 L604.7 408.1 L605.9 406.9 L607.2 405.9 L608.4 405.0 L609.7 404.1 L610.9 403.4 L612.2 402.7 L613.5 402.2 L614.7 401.8 L616.0 401.4 L617.2 401.2 L618.5 401.0 L619.7 401.0 L621.0 401.1 L622.3 401.2 L623.5 401.5 L624.8 401.8 L626.0 402.3 L627.3 402.9 L628.5 403.5 L629.8 404.3 L631.1 405.1 L632.3 406.1 L633.6 407.1 L634.8 408.3 L636.1 409.5 L637.3 410.8 L638.6 412.3 L639.9 413.8 L641.1 415.4 L642.4 417.1 L643.6 418.8 L644.9 420.7 L646.1 422.7 L647.4 424.7 L648.7 426.8 L649.9 429.0 L651.2 431.3 L652.4 433.6 L653.7 436.1 L654.9 438.6 L656.2 441.1 L657.5 443.8 L658.7 446.5 L660.0 449.3 L661.2 452.1 L662.5 455.0 L663.7 458.0 L665.0 461.0 L666.3 464.1 L667.5 467.2 L668.8 470.4 L670.0 473.6 L671.3 476.9 L672.5 480.2 L673.8 483.6 L675.1 487.0 L676.3 490.4 L677.6 493.9 L678.8 497.4 L680.1 501.0 L681.3 504.5 L682.6 508.1 L683.9 511.7 L685.1 515.4 L686.4 519.0 L687.6 522.7 L688.9 526.4 L690.1 530.1 L691.4 533.8 L692.7 537.5 L693.9 541.2 L695.2 544.9 L696.4 548.7 L697.7 552.4 L698.9 556.1 L700.2 559.8 L701.5 563.4 L702.7 567.1 L704.0 570.7 L705.2 574.4 L706.5 578.0 L707.7 581.6 L709.0 585.1 L710.3 588.6 L711.5 592.1 L712.8 595.6 L714.0 599.0 L715.3 602.4 L716.5 605.8 L717.8 609.1 L719.1 612.3 L720.3 615.5 L721.6 618.7 L722.8 621.8 L724.1 624.9 L725.3 627.9 L726.6 630.8 L727.9 633.7 L729.1 636.5 L730.4 639.3 L731.6 642.0 L732.9 644.6 L734.1 647.2 L735.4 649.7 L736.7 652.1 L737.9 654.5 L739.2 656.7 L740.4 658.9 L741.7 661.1 L742.9 663.1 L744.2 665.1 L745.5 667.0 L746.7 668.8 L748.0 670.5 L749.2 672.1 L750.5 673.7 L751.7 675.2 L753.0 676.5 L754.3 677.8 L755.5 679.0 L756.8 680.2 L758.0 681.2 L759.3 682.1 L760.5 683.0 L761.8 683.7 L763.1 684.4 L764.3 684.9 L765.6 685.4 L766.8 685.8 L768.1 686.1 L769.3 686.3 L770.6 686.4 L771.9 686.4 L773.1 686.3 L774.4 686.1 L775.6 685.9 L776.9 685.5 L778.1 685.1 L779.4 684.5 L780.7 683.9 L781.9 683.2 L783.2 682.3 L784.4 681.4 L785.7 680.4 L786.9 679.4 L788.2 678.2 L789.5 676.9 L790.7 675.6 L792.0 674.2 L793.2 672.7 L794.5 671.1 L795.7 669.4 L797.0 667.6 L798.3 665.8 L799.5 663.9 L800.8 661.9 L802.0 659.9 L803.3 657.7 L804.5 655.5 L805.8 653.2 L807.1 650.9 L808.3 648.5 L809.6 646.0 L810.8 643.4 L812.1 640.8 L813.3 638.2 L814.6 635.4 L815.9 632.6 L817.1 629.8 L818.4 626.9 L819.6 624.0 L820.9 621.0 L822.1 617.9 L823.4 614.8 L824.7 611.7 L825.9 608.5 L827.2 605.3 L828.4 602.0 L829.7 598.7 L830.9 595.4 L832.2 592.1 L833.5 588.7 L834.7 585.2 L836.0 581.8 L837.2 578.3 L838.5 574.9 L839.7 571.4 L841.0 567.8 L842.3 564.3 L843.5 560.8 L844.8 557.2 L846.0 553.7 L847.3 550.1 L848.5 546.5 L849.8 542.9 L851.1 539.4 L852.3 535.8 L853.6 532.3 L854.8 528.7 L856.1 525.2 L857.3 521.6 L858.6 518.1 L859.9 514.6 L861.1 511.2 L862.4 507.7 L863.6 504.3 L864.9 500.9 L866.1 497.5 L867.4 494.1 L868.7 490.8 L869.9 487.5 L871.2 484.3 L872.4 481.1 L873.7 477.9 L874.9 474.8 L876.2 471.7 L877.5 468.7 L878.7 465.7 L880.0 462.7 L881.2 459.8 L882.5 457.0 L883.7 454.2 L885.0 451.5 L886.3 448.8 L887.5 446.2 L888.8 443.7 L890.0 441.2 L891.3 438.7 L892.5 436.4 L893.8 434.1 L895.1 431.9 L896.3 429.7 L897.6 427.6 L898.8 425.6 L900.1 423.7 L901.3 421.8 L902.6 420.0 L903.9 418.3 L905.1 416.6 L906.4 415.1 L907.6 413.6 L908.9 412.2 L910.1 410.9 L911.4 409.6 L912.7 408.5 L913.9 407.4 L915.2 406.4 L916.4 405.5 L917.7 404.6 L918.9 403.9 L920.2 403.2 L921.5 402.7 L922.7 402.2 L924.0 401.8 L925.2 401.4 L926.5 401.2 L927.7 401.1 L929.0 401.0 L930.3 401.0 L931.5 401.1 L932.8 401.3 L934.0 401.6 L935.3 402.0 L936.6 402.4 L937.8 403.0 L939.1 403.6 L940.3 404.3 L941.6 405.1 L942.8 405.9 L944.1 406.9 L945.4 407.9 L946.6 409.0 L947.9 410.2 L949.1 411.5 L950.4 412.8 L951.6 414.3 L952.9 415.8 L954.2 417.3 L955.4 419.0 L956.7 420.7 L957.9 422.5 L959.2 424.4 L960.4 426.3 L961.7 428.3 L963.0 430.4 L964.2 432.6 L965.5 434.8 L966.7 437.0 L968.0 439.4 L969.2 441.8 L970.5 444.2 L971.8 446.7 L973.0 449.3 L974.3 451.9 L975.5 454.6 L976.8 457.3 L978.0 460.1 L979.3 462.9 L980.6 465.8 L981.8 468.7 L983.1 471.7 L984.3 474.7 L985.6 477.7 L986.8 480.8 L988.1 483.9 L989.4 487.0 L990.6 490.2 L991.9 493.4 L993.1 496.6 L994.4 499.9 L995.6 503.2 L996.9 506.5 L998.2 509.8 L999.4 513.2 L1000.7 516.5 L1001.9 519.9 L1003.2 523.3 L1004.4 526.7 L1005.7 530.1 L1007.0 533.6 L1008.2 537.0 L1009.5 540.4 L1010.7 543.8 L1012.0 547.3 L1013.2 550.7 L1014.5 554.1 L1015.8 557.5 L1017.0 560.9 L1018.3 564.3 L1019.5 567.7 L1020.8 571.0 L1022.0 574.4 L1023.3 577.7 L1024.6 581.0 L1025.8 584.3 L1027.1 587.6 L1028.3 590.8 L1029.6 594.0 L1030.8 597.2 L1032.1 600.3 L1033.4 603.4 L1034.6 606.5 L1035.9 609.6 L1037.1 612.6 L1038.4 615.5 L1039.6 618.4 L1040.9 621.3 L1042.2 624.1 L1043.4 626.9 L1044.7 629.7 L1045.9 632.4 L1047.2 635.0 L1048.4 637.6 L1049.7 640.1 L1051.0 642.6 L1052.2 645.0 L1053.5 647.4 L1054.7 649.7 L1056.0 651.9 L1057.2 654.1 L1058.5 656.2 L1059.8 658.2 L1061.0 660.2 L1062.3 662.1 L1063.5 664.0 L1064.8 665.8 L1066.0 667.5 L1067.3 669.1 L1068.6 670.7 L1069.8 672.2 L1071.1 673.7 L1072.3 675.0 L1073.6 676.3 L1074.8 677.5 L1076.1 678.6 L1077.4 679.7 L1078.6 680.7 L1079.9 681.6 L1081.1 682.4 L1082.4 683.2 L1083.6 683.8 L1084.9 684.4 L1086.2 685.0 L1087.4 685.4 L1088.7 685.8 L1089.9 686.0 L1091.2 686.2 L1092.4 686.4 L1093.7 686.4 L1095.0 686.4 L1096.2 686.3 L1097.5 686.1 L1098.7 685.8 L1100.0 685.4 L1101.2 685.0 L1102.5 684.5 L1103.8 683.9 L1105.0 683.3 L1106.3 682.5 L1107.5 681.7 L1108.8 680.8 L1110.0 679.9 L1111.3 678.8 L1112.6 677.7 L1113.8 676.5 L1115.1 675.3 L1116.3 673.9 L1117.6 672.5 L1118.8 671.1 L1120.1 669.5 L1121.4 667.9 L1122.6 666.3 L1123.9 664.5 L1125.1 662.7 L1126.4 660.8 L1127.6 658.9 L1128.9 656.9 L1130.2 654.9 L1131.4 652.7 L1132.7 650.6 L1133.9 648.3 L1135.2 646.0 L1136.4 643.7 L1137.7 641.3 L1139.0 638.9 L1140.2 636.4 L1141.5 633.8 L1142.7 631.2 L1144.0 628.6 L1145.2 625.9 L1146.5 623.2 L1147.8 620.4 L1149.0 617.6 L1150.3 614.7 L1151.5 611.8 L1152.8 608.9 L1154.0 606.0 L1155.3 603.0 L1156.6 599.9 L1157.8 596.9 L1159.1 593.8 L1160.3 590.7 L1161.6 587.6 L1162.8 584.4 L1164.1 581.2 L1165.4 578.1 L1166.6 574.8 L1167.9 571.6 L1169.1 568.4 L1170.4 565.1 L1171.6 561.9 L1172.9 558.6 L1174.2 555.3 L1175.4 552.0 L1176.7 548.8 L1177.9 545.5 L1179.2 542.2 L1180.4 538.9 L1181.7 535.6 L1183.0 532.3 L1184.2 529.1 L1185.5 525.8 L1186.7 522.6 L1188.0 519.3 L1189.2 516.1 L1190.5 512.9 L1191.8 509.7 L1193.0 506.5 L1194.3 503.4 L1195.5 500.3 L1196.8 497.2 L1198.0 494.1 L1199.3 491.0 L1200.6 488.0 L1201.8 485.0 L1203.1 482.0 L1204.3 479.1 L1205.6 476.2 L1206.8 473.4 L1208.1 470.5 L1209.4 467.8 L1210.6 465.0 L1211.9 462.3 L1213.1 459.7 L1214.4 457.1 L1215.6 454.5 L1216.9 452.0 L1218.2 449.5 L1219.4 447.1 L1220.7 444.7 L1221.9 442.4 L1223.2 440.1 L1224.4 437.9 L1225.7 435.8 L1227.0 433.7 L1228.2 431.6 L1229.5 429.7 L1230.7 427.7 L1232.0 425.9 L1233.2 424.1 L1234.5 422.3 L1235.8 420.7 L1237.0 419.1 L1238.3 417.5 L1239.5 416.0 L1240.8 414.6 L1242.0 413.3 L1243.3 412.0 L1244.6 410.8 L1245.8 409.6 L1247.1 408.6 L1248.3 407.6 L1249.6 406.6 L1250.8 405.8 L1252.1 405.0 L1253.4 404.3 L1254.6 403.6 L1255.9 403.0 L1257.1 402.5 L1258.4 402.1 L1259.6 401.7 L1260.9 401.4 L1262.2 401.2 L1263.4 401.1 L1264.7 401.0 L1265.9 401.0 L1267.2 401.1 L1268.4 401.2 L1269.7 401.4 L1271.0 401.7 L1272.2 402.1 L1273.5 402.5 L1274.7 403.0 L1276.0 403.6 L1277.2 404.3 L1278.5 405.0 L1279.8 405.8 L1281.0 406.6 L1282.3 407.6 L1283.5 408.5 L1284.8 409.6 L1286.0 410.7 L1287.3 411.9 L1288.6 413.2 L1289.8 414.5 L1291.1 415.9 L1292.3 417.4 L1293.6 418.9 L1294.8 420.5 L1296.1 422.1 L1297.4 423.8 L1298.6 425.6 L1299.9 427.4 L1301.1 429.3 L1302.4 431.2 L1303.6 433.2 L1304.9 435.2 L1306.2 437.3 L1307.4 439.5 L1308.7 441.7 L1309.9 443.9 L1311.2 446.2 L1312.4 448.6 L1313.7 451.0 L1315.0 453.4 L1316.2 455.9 L1317.5 458.4 L1318.7 461.0 L1320.0 463.6 L1321.2 466.2 L1322.5 468.9 L1323.8 471.6 L1325.0 474.4 L1326.3 477.2 L1327.5 480.0 L1328.8 482.8 L1330.0 485.7 L1331.3 488.6 L1332.6 491.6 L1333.8 494.5 L1335.1 497.5 L1336.3 500.5 L1337.6 503.5 L1338.8 506.6 L1340.1 509.6 L1341.4 512.7 L1342.6 515.8 L1343.9 518.9 L1345.1 522.0 L1346.4 525.1 L1347.6 528.2 L1348.9 531.4 L1350.2 534.5 L1351.4 537.7 L1352.7 540.8 L1353.9 544.0 L1355.2 547.1 L1356.4 550.3 L1357.7 553.4 L1359.0 556.5 L1360.2 559.7 L1361.5 562.8 L1362.7 565.9 L1364.0 569.0 L1365.2 572.1 L1366.5 575.1 L1367.8 578.2 L1369.0 581.2 L1370.3 584.2 L1371.5 587.2 L1372.8 590.2 L1374.1 593.2 L1375.3 596.1 L1376.6 599.0 L1377.8 601.9 L1379.1 604.7 L1380.3 607.5 L1381.6 610.3 L1382.9 613.0 L1384.1 615.8 L1385.4 618.4 L1386.6 621.1 L1387.9 623.7 L1389.1 626.3 L1390.4 628.8 L1391.7 631.3 L1392.9 633.7 L1394.2 636.1 L1395.4 638.5 L1396.7 640.8 L1397.9 643.0 L1399.2 645.2 L1400.5 647.4 L1401.7 649.5 L1403.0 651.6 L1404.2 653.6 L1405.5 655.5 L1406.7 657.4 L1408.0 659.3 L1409.3 661.1 L1410.5 662.8 L1411.8 664.5 L1413.0 666.1 L1414.3 667.7 L1415.5 669.2 L1416.8 670.6 L1418.1 672.0 L1419.3 673.4 L1420.6 674.6 L1421.8 675.8 L1423.1 677.0 L1424.3 678.0 L1425.6 679.0 L1426.9 680.0 L1428.1 680.9 L1429.4 681.7 L1430.6 682.5 L1431.9 683.1 L1433.1 683.8 L1434.4 684.3 L1435.7 684.8 L1436.9 685.2 L1438.2 685.6 L1439.4 685.9 L1440.7 686.1 L1441.9 686.3 L1443.2 686.4 L1444.5 686.4 L1445.7 686.4 L1447.0 686.3 L1448.2 686.1 L1449.5 685.8 L1450.7 685.5 L1452.0 685.2 L1453.3 684.7 L1454.5 684.2 L1455.8 683.7 L1457.0 683.0 L1458.3 682.3 L1459.5 681.6 L1460.8 680.8 L1462.1 679.9 L1463.3 678.9 L1464.6 677.9 L1465.8 676.9 L1467.1 675.7 L1468.3 674.5 L1469.6 673.3 L1470.9 672.0 L1472.1 670.6 L1473.4 669.2 L1474.6 667.7 L1475.9 666.1 L1477.1 664.5 L1478.4 662.9 L1479.7 661.2 L1480.9 659.4 L1482.2 657.6 L1483.4 655.8 L1484.7 653.8 L1485.9 651.9 L1487.2 649.9 L1488.5 647.8 L1489.7 645.7 L1491.0 643.5 L1492.2 641.3 L1493.5 639.1 L1494.7 636.8 L1496.0 634.5 L1497.3 632.1 L1498.5 629.7 L1499.8 627.3 L1501.0 624.8 L1502.3 622.3 L1503.5 619.7 L1504.8 617.1 L1506.1 614.5 L1507.3 611.9 L1508.6 609.2 L1509.8 606.5 L1511.1 603.7 L1512.3 601.0 L1513.6 598.2 L1514.9 595.4 L1516.1 592.6 L1517.4 589.7 L1518.6 586.8 L1519.9 583.9 L1521.1 581.0 L1522.4 578.1 L1523.7 575.2 L1524.9 572.2 L1526.2 569.2 L1527.4 566.3 L1528.7 563.3 L1529.9 560.3 L1531.2 557.3 L1532.5 554.3 L1533.7 551.3 L1535.0 548.3 L1536.2 545.3 L1537.5 542.2 L1538.7 539.2 L1540.0 536.2 L1541.3 533.2 L1542.5 530.2 L1543.8 527.2 L1545.0 524.3 L1546.3 521.3 L1547.5 518.3 L1548.8 515.4 L1550.1 512.4 L1551.3 509.5 L1552.6 506.6 L1553.8 503.7 L1555.1 500.9 L1556.3 498.0 L1557.6 495.2 L1558.9 492.4 L1560.1 489.6 L1561.4 486.8 L1562.6 484.1 L1563.9 481.4 L1565.1 478.7 L1566.4 476.1 L1567.7 473.4 L1568.9 470.9 L1570.2 468.3 L1571.4 465.8 L1572.7 463.3 L1573.9 460.9 L1575.2 458.4 L1576.5 456.1 L1577.7 453.7 L1579.0 451.4 L1580.2 449.2 L1581.5 447.0 L1582.7 444.8 L1584.0 442.7 L1585.3 440.6 L1586.5 438.6 L1587.8 436.6 L1589.0 434.6 L1590.3 432.7 L1591.5 430.9 L1592.8 429.1 L1594.1 427.4 L1595.3 425.7 L1596.6 424.0 L1597.8 422.4 L1599.1 420.9 L1600.3 419.4 L1601.6 418.0 L1602.9 416.6 L1604.1 415.3 L1605.4 414.0 L1606.6 412.8 L1607.9 411.7 L1609.1 410.6 L1610.4 409.5 L1611.7 408.6 L1612.9 407.6 L1614.2 406.8 L1615.4 406.0 L1616.7 405.2 L1617.9 404.5 L1619.2 403.9 L1620.5 403.4 L1621.7 402.8 L1623.0 402.4 L1624.2 402.0 L1625.5 401.7 L1626.7 401.4 L1628.0 401.2 L1629.3 401.1 L1630.5 401.0 L1631.8 401.0 L1633.0 401.0 L1634.3 401.1 L1635.5 401.3 L1636.8 401.5 L1638.1 401.8 L1639.3 402.2 L1640.6 402.6 L1641.8 403.0 L1643.1 403.6 L1644.3 404.1 L1645.6 404.8 L1646.9 405.5 L1648.1 406.2 L1649.4 407.1 L1650.6 407.9 L1651.9 408.9 L1653.1 409.8 L1654.4 410.9 L1655.7 412.0 L1656.9 413.1 L1658.2 414.3 L1659.4 415.6 L1660.7 416.9 L1661.9 418.3 L1663.2 419.7 L1664.5 421.2 L1665.7 422.7 L1667.0 424.3 L1668.2 425.9 L1669.5 427.6 L1670.7 429.3 L1672.0 431.1 L1673.3 432.9 L1674.5 434.7 L1675.8 436.6 L1677.0 438.6 L1678.3 440.6 L1679.5 442.6 L1680.8 444.7 L1682.1 446.8 L1683.3 448.9 L1684.6 451.1 L1685.8 453.4 L1687.1 455.6 L1688.3 457.9 L1689.6 460.3 L1690.9 462.7 L1692.1 465.1 L1693.4 467.5 L1694.6 470.0 L1695.9 472.5 L1697.1 475.0 L1698.4 477.5 L1699.7 480.1 L1700.9 482.7 L1702.2 485.4 L1703.4 488.0 L1704.7 490.7 L1705.9 493.4 L1707.2 496.1 L1708.5 498.8 L1709.7 501.6 L1711.0 504.4 L1712.2 507.1 L1713.5 509.9 L1714.7 512.8 L1716.0 515.6 L1717.3 518.4 L1718.5 521.3 L1719.8 524.1 L1721.0 527.0 L1722.3 529.8 L1723.5 532.7 L1724.8 535.6 L1726.1 538.4 L1727.3 541.3 L1728.6 544.2 L1729.8 547.1 L1731.1 549.9 L1732.3 552.8 L1733.6 555.7 L1734.9 558.5 L1736.1 561.4 L1737.4 564.2 L1738.6 567.1 L1739.9 569.9 L1741.1 572.7 L1742.4 575.5 L1743.7 578.3 L1744.9 581.1 L1746.2 583.8 L1747.4 586.6 L1748.7 589.3 L1749.9 592.0 L1751.2 594.7 L1752.5 597.3 L1753.7 600.0 L1755.0 602.6 L1756.2 605.2 L1757.5 607.8 L1758.7 610.3 L1760.0 612.8 L1761.3 615.3 L1762.5 617.8 L1763.8 620.2 L1765.0 622.6 L1766.3 624.9 L1767.5 627.3 L1768.8 629.6 L1770.1 631.8 L1771.3 634.0 L1772.6 636.2 L1773.8 638.4 L1775.1 640.5 L1776.3 642.5 L1777.6 644.6 L1778.9 646.6 L1780.1 648.5 L1781.4 650.4 L1782.6 652.3 L1783.9 654.1 L1785.1 655.9 L1786.4 657.6 L1787.7 659.3 L1788.9 660.9 L1790.2 662.5 L1791.4 664.1 L1792.7 665.6 L1793.9 667.0 L1795.2 668.4 L1796.5 669.8 L1797.7 671.1 L1799.0 672.3 L1800.2 673.5 L1801.5 674.7 L1802.7 675.8 L1804.0 676.8 L1805.3 677.8 L1806.5 678.8 L1807.8 679.6 L1809.0 680.5 L1810.3 681.2 L1811.6 682.0 L1812.8 682.6 L1814.1 683.3 L1815.3 683.8 L1816.6 684.3 L1817.8 684.8 L1819.1 685.2 L1820.4 685.5 L1821.6 685.8 L1822.9 686.0 L1824.1 686.2 L1825.4 686.3 L1826.6 686.4 L1827.9 686.4 L1829.2 686.4 L1830.4 686.2 L1831.7 686.1 L1832.9 685.9 L1834.2 685.6 L1835.4 685.3 L1836.7 684.9 L1838.0 684.5 L1839.2 684.0 L1840.5 683.5 L1841.7 682.9 L1843.0 682.2 L1844.2 681.5 L1845.5 680.8 L1846.8 680.0 L1848.0 679.1 L1849.3 678.2 L1850.5 677.2 L1851.8 676.2 L1853.0 675.2 L1854.3 674.1 L1855.6 672.9 L1856.8 671.7 L1858.1 670.4 L1859.3 669.1 L1860.6 667.8 L1861.8 666.4 L1863.1 664.9 L1864.4 663.4 L1865.6 661.9 L1866.9 660.3 L1868.1 658.7 L1869.4 657.0 L1870.6 655.3 L1871.9 653.5 L1873.2 651.7 L1874.4 649.9 L1875.7 648.0 L1876.9 646.1 L1878.2 644.2 L1879.4 642.2 L1880.7 640.1 L1882.0 638.1 L1883.2 636.0 L1884.5 633.9 L1885.7 631.7 L1887.0 629.5 L1888.2 627.3 L1889.5 625.0 L1890.8 622.7 L1892.0 620.4 L1893.3 618.0 L1894.5 615.7 L1895.8 613.3 L1897.0 610.8 L1898.3 608.4 L1899.6 605.9 L1900.8 603.4 L1902.1 600.9 L1903.3 598.3 L1904.6 595.8 L1905.8 593.2 L1907.1 590.6 L1908.4 588.0 L1909.6 585.4 L1910.9 582.7 L1912.1 580.1 L1913.4 577.4 L1914.6 574.7 L1915.9 572.0 L1917.2 569.3 L1918.4 566.6 L1919.7 563.9 L1920.9 561.2 L1922.2 558.4 L1923.4 555.7 L1924.7 553.0 L1926.0 550.2 L1927.2 547.5 L1928.5 544.7 L1929.7 542.0 L1931.0 539.2 L1932.2 536.5 L1933.5 533.8 L1934.8 531.0 L1936.0 528.3 L1937.3 525.6 L1938.5 522.9 L1939.8 520.2 L1941.0 517.5 L1942.3 514.8 L1943.6 512.1 L1944.8 509.4 L1946.1 506.8 L1947.3 504.2 L1948.6 501.5 L1949.8 498.9 L1951.1 496.4 L1952.4 493.8 L1953.6 491.2 L1954.9 488.7 L1956.1 486.2 L1957.4 483.7 L1958.6 481.3 L1959.9 478.8 L1961.2 476.4 L1962.4 474.0 L1963.7 471.7 L1964.9 469.3 L1966.2 467.0 L1967.4 464.7 L1968.7 462.5 L1970.0 460.3 L1971.2 458.1 L1972.5 455.9 L1973.7 453.8 L1975.0 451.7 L1976.2 449.6 L1977.5 447.6 L1978.8 445.6 L1980.0 443.7 L1981.3 441.8 L1982.5 439.9 L1983.8 438.0 L1985.0 436.2 L1986.3 434.5 L1987.6 432.8 L1988.8 431.1 L1990.1 429.4 L1991.3 427.8 L1992.6 426.3 L1993.8 424.8 L1995.1 423.3 L1996.4 421.9 L1997.6 420.5 L1998.9 419.1 L2000.1 417.8 L2001.4 416.6 L2002.6 415.4 L2003.9 414.2 L2005.2 413.1 L2006.4 412.1 L2007.7 411.0 L2008.9 410.1 L2010.2 409.1 L2011.4 408.3 L2012.7 407.5 L2014.0 406.7 L2015.2 405.9 L2016.5 405.3 L2017.7 404.6 L2019.0 404.1 L2020.2 403.5 L2021.5 403.1 L2022.8 402.6 L2024.0 402.2 L2025.3 401.9 L2026.5 401.6 L2027.8 401.4 L2029.0 401.2 L2030.3 401.1" fill="none" stroke="#000" stroke-width="2.7"/><circle cx="272.4" cy="652.8" r="5.9" fill="#000" fill-opacity="0.048" stroke="#000" stroke-opacity="0.048" stroke-width="1.2"/><circle cx="283.3" cy="401.0" r="5.9" fill="#000" fill-opacity="0.209" stroke="#000" stroke-opacity="0.209" stroke-width="1.2"/><circle cx="305.1" cy="600.9" r="5.9" fill="#000" fill-opacity="0.143" stroke="#000" stroke-opacity="0.143" stroke-width="1.2"/><circle cx="316.1" cy="419.6" r="5.9" fill="#000" fill-opacity="0.399" stroke="#000" stroke-opacity="0.399" stroke-width="1.2"/><circle cx="327.0" cy="528.7" r="5.9" fill="#000" fill-opacity="0.029" stroke="#000" stroke-opacity="0.029" stroke-width="1.2"/><circle cx="348.8" cy="579.0" r="5.9" fill="#000" fill-opacity="0.048" stroke="#000" stroke-opacity="0.048" stroke-width="1.2"/><circle cx="359.7" cy="669.9" r="5.9" fill="#000" fill-opacity="0.171" stroke="#000" stroke-opacity="0.171" stroke-width="1.2"/><circle cx="370.6" cy="636.0" r="5.9" fill="#000" fill-opacity="0.048" stroke="#000" stroke-opacity="0.048" stroke-width="1.2"/><circle cx="381.6" cy="472.8" r="5.9" fill="#000" fill-opacity="0.066" stroke="#000" stroke-opacity="0.066" stroke-width="1.2"/><circle cx="392.5" cy="410.4" r="5.9" fill="#000" fill-opacity="0.143" stroke="#000" stroke-opacity="0.143" stroke-width="1.2"/><circle cx="403.4" cy="471.1" r="5.9" fill="#000" fill-opacity="0.143" stroke="#000" stroke-opacity="0.143" stroke-width="1.2"/><circle cx="414.3" cy="518.2" r="5.9" fill="#000" fill-opacity="0.038" stroke="#000" stroke-opacity="0.038" stroke-width="1.2"/><circle cx="425.2" cy="668.2" r="5.9" fill="#000" fill-opacity="0.361" stroke="#000" stroke-opacity="0.361" stroke-width="1.2"/><circle cx="436.1" cy="400.6" r="5.9" fill="#000" fill-opacity="0.143" stroke="#000" stroke-opacity="0.143" stroke-width="1.2"/><circle cx="447.1" cy="642.1" r="5.9" fill="#000" fill-opacity="0.361" stroke="#000" stroke-opacity="0.361" stroke-width="1.2"/><circle cx="458.0" cy="652.4" r="5.9" fill="#000" fill-opacity="0.076" stroke="#000" stroke-opacity="0.076" stroke-width="1.2"/><circle cx="468.9" cy="629.8" r="5.9" fill="#000" fill-opacity="0.143" stroke="#000" stroke-opacity="0.143" stroke-width="1.2"/><circle cx="490.7" cy="579.0" r="5.9" fill="#000" fill-opacity="0.095" stroke="#000" stroke-opacity="0.095" stroke-width="1.2"/><circle cx="501.6" cy="645.8" r="5.9" fill="#000" fill-opacity="0.143" stroke="#000" stroke-opacity="0.143" stroke-width="1.2"/><circle cx="512.6" cy="632.7" r="5.9" fill="#000" fill-opacity="0.332" stroke="#000" stroke-opacity="0.332" stroke-width="1.2"/><circle cx="534.4" cy="521.0" r="5.9" fill="#000" fill-opacity="0.066" stroke="#000" stroke-opacity="0.066" stroke-width="1.2"/><circle cx="545.3" cy="491.4" r="5.9" fill="#000" fill-opacity="0.114" stroke="#000" stroke-opacity="0.114" stroke-width="1.2"/><circle cx="567.1" cy="509.4" r="5.9" fill="#000" fill-opacity="0.057" stroke="#000" stroke-opacity="0.057" stroke-width="1.2"/><circle cx="578.0" cy="435.6" r="5.9" fill="#000" fill-opacity="0.171" stroke="#000" stroke-opacity="0.171" stroke-width="1.2"/><circle cx="589.0" cy="419.6" r="5.9" fill="#000" fill-opacity="0.304" stroke="#000" stroke-opacity="0.304" stroke-width="1.2"/><circle cx="599.9" cy="402.8" r="5.9" fill="#000" fill-opacity="0.190" stroke="#000" stroke-opacity="0.190" stroke-width="1.2"/><circle cx="610.8" cy="455.3" r="5.9" fill="#000" fill-opacity="0.285" stroke="#000" stroke-opacity="0.285" stroke-width="1.2"/><circle cx="621.7" cy="676.5" r="5.9" fill="#000" fill-opacity="0.190" stroke="#000" stroke-opacity="0.190" stroke-width="1.2"/><circle cx="632.6" cy="400.6" r="5.9" fill="#000" fill-opacity="0.522" stroke="#000" stroke-opacity="0.522" stroke-width="1.2"/><circle cx="643.5" cy="556.0" r="5.9" fill="#000" fill-opacity="0.029" stroke="#000" stroke-opacity="0.029" stroke-width="1.2"/><circle cx="665.4" cy="657.4" r="5.9" fill="#000" fill-opacity="0.171" stroke="#000" stroke-opacity="0.171" stroke-width="1.2"/><circle cx="676.3" cy="423.6" r="5.9" fill="#000" fill-opacity="0.332" stroke="#000" stroke-opacity="0.332" stroke-width="1.2"/><circle cx="698.1" cy="512.9" r="5.9" fill="#000" fill-opacity="0.095" stroke="#000" stroke-opacity="0.095" stroke-width="1.2"/><circle cx="709.0" cy="595.5" r="5.9" fill="#000" fill-opacity="0.048" stroke="#000" stroke-opacity="0.048" stroke-width="1.2"/><circle cx="720.0" cy="671.7" r="5.9" fill="#000" fill-opacity="0.427" stroke="#000" stroke-opacity="0.427" stroke-width="1.2"/><circle cx="730.9" cy="650.2" r="5.9" fill="#000" fill-opacity="0.095" stroke="#000" stroke-opacity="0.095" stroke-width="1.2"/><circle cx="741.8" cy="667.7" r="5.9" fill="#000" fill-opacity="0.332" stroke="#000" stroke-opacity="0.332" stroke-width="1.2"/><circle cx="752.7" cy="685.2" r="5.9" fill="#000" fill-opacity="0.304" stroke="#000" stroke-opacity="0.304" stroke-width="1.2"/><circle cx="763.6" cy="682.4" r="5.9" fill="#000" fill-opacity="0.617" stroke="#000" stroke-opacity="0.617" stroke-width="1.2"/><circle cx="774.5" cy="440.6" r="5.9" fill="#000" fill-opacity="0.076" stroke="#000" stroke-opacity="0.076" stroke-width="1.2"/><circle cx="785.5" cy="685.9" r="5.9" fill="#000" fill-opacity="0.076" stroke="#000" stroke-opacity="0.076" stroke-width="1.2"/><circle cx="796.4" cy="499.1" r="5.9" fill="#000" fill-opacity="0.143" stroke="#000" stroke-opacity="0.143" stroke-width="1.2"/><circle cx="807.3" cy="582.3" r="5.9" fill="#000" fill-opacity="0.095" stroke="#000" stroke-opacity="0.095" stroke-width="1.2"/><circle cx="818.2" cy="669.2" r="5.9" fill="#000" fill-opacity="0.285" stroke="#000" stroke-opacity="0.285" stroke-width="1.2"/><circle cx="829.1" cy="573.6" r="5.9" fill="#000" fill-opacity="0.114" stroke="#000" stroke-opacity="0.114" stroke-width="1.2"/><circle cx="840.0" cy="440.6" r="5.9" fill="#000" fill-opacity="0.143" stroke="#000" stroke-opacity="0.143" stroke-width="1.2"/><circle cx="850.9" cy="491.0" r="5.9" fill="#000" fill-opacity="0.095" stroke="#000" stroke-opacity="0.095" stroke-width="1.2"/><circle cx="872.8" cy="646.9" r="5.9" fill="#000" fill-opacity="0.380" stroke="#000" stroke-opacity="0.380" stroke-width="1.2"/><circle cx="883.7" cy="464.1" r="5.9" fill="#000" fill-opacity="0.048" stroke="#000" stroke-opacity="0.048" stroke-width="1.2"/><circle cx="894.6" cy="463.0" r="5.9" fill="#000" fill-opacity="0.143" stroke="#000" stroke-opacity="0.143" stroke-width="1.2"/><circle cx="905.5" cy="513.3" r="5.9" fill="#000" fill-opacity="0.066" stroke="#000" stroke-opacity="0.066" stroke-width="1.2"/><circle cx="927.4" cy="493.0" r="5.9" fill="#000" fill-opacity="0.123" stroke="#000" stroke-opacity="0.123" stroke-width="1.2"/><circle cx="938.3" cy="656.1" r="5.9" fill="#000" fill-opacity="0.380" stroke="#000" stroke-opacity="0.380" stroke-width="1.2"/><circle cx="949.2" cy="406.0" r="5.9" fill="#000" fill-opacity="0.332" stroke="#000" stroke-opacity="0.332" stroke-width="1.2"/><circle cx="960.1" cy="526.5" r="5.9" fill="#000" fill-opacity="0.057" stroke="#000" stroke-opacity="0.057" stroke-width="1.2"/><circle cx="971.0" cy="568.1" r="5.9" fill="#000" fill-opacity="0.076" stroke="#000" stroke-opacity="0.076" stroke-width="1.2"/><circle cx="981.9" cy="461.9" r="5.9" fill="#000" fill-opacity="0.190" stroke="#000" stroke-opacity="0.190" stroke-width="1.2"/><circle cx="992.9" cy="600.9" r="5.9" fill="#000" fill-opacity="0.237" stroke="#000" stroke-opacity="0.237" stroke-width="1.2"/><circle cx="1003.8" cy="590.0" r="5.9" fill="#000" fill-opacity="0.095" stroke="#000" stroke-opacity="0.095" stroke-width="1.2"/><circle cx="1025.6" cy="643.6" r="5.9" fill="#000" fill-opacity="0.399" stroke="#000" stroke-opacity="0.399" stroke-width="1.2"/><circle cx="1036.5" cy="597.2" r="5.9" fill="#000" fill-opacity="0.209" stroke="#000" stroke-opacity="0.209" stroke-width="1.2"/><circle cx="1047.4" cy="669.9" r="5.9" fill="#000" fill-opacity="0.332" stroke="#000" stroke-opacity="0.332" stroke-width="1.2"/><circle cx="1058.4" cy="621.7" r="5.9" fill="#000" fill-opacity="0.190" stroke="#000" stroke-opacity="0.190" stroke-width="1.2"/><circle cx="1069.3" cy="679.8" r="5.9" fill="#000" fill-opacity="0.855" stroke="#000" stroke-opacity="0.855" stroke-width="1.2"/><circle cx="1080.2" cy="657.9" r="5.9" fill="#000" fill-opacity="0.399" stroke="#000" stroke-opacity="0.399" stroke-width="1.2"/><circle cx="1091.1" cy="661.8" r="5.9" fill="#000" fill-opacity="0.332" stroke="#000" stroke-opacity="0.332" stroke-width="1.2"/><circle cx="1102.0" cy="679.8" r="5.9" fill="#000" fill-opacity="0.427" stroke="#000" stroke-opacity="0.427" stroke-width="1.2"/><circle cx="1112.9" cy="675.0" r="5.9" fill="#000" fill-opacity="0.143" stroke="#000" stroke-opacity="0.143" stroke-width="1.2"/><circle cx="1123.8" cy="634.9" r="5.9" fill="#000" fill-opacity="0.114" stroke="#000" stroke-opacity="0.114" stroke-width="1.2"/><circle cx="1134.8" cy="636.0" r="5.9" fill="#000" fill-opacity="0.095" stroke="#000" stroke-opacity="0.095" stroke-width="1.2"/><circle cx="1145.7" cy="685.7" r="5.9" fill="#000" fill-opacity="0.522" stroke="#000" stroke-opacity="0.522" stroke-width="1.2"/><circle cx="1156.6" cy="684.6" r="5.9" fill="#000" fill-opacity="0.143" stroke="#000" stroke-opacity="0.143" stroke-width="1.2"/><circle cx="1167.5" cy="660.0" r="5.9" fill="#000" fill-opacity="0.190" stroke="#000" stroke-opacity="0.190" stroke-width="1.2"/><circle cx="1178.4" cy="403.8" r="5.9" fill="#000" fill-opacity="0.380" stroke="#000" stroke-opacity="0.380" stroke-width="1.2"/><circle cx="1189.3" cy="490.3" r="5.9" fill="#000" fill-opacity="0.038" stroke="#000" stroke-opacity="0.038" stroke-width="1.2"/><circle cx="1200.3" cy="625.7" r="5.9" fill="#000" fill-opacity="0.162" stroke="#000" stroke-opacity="0.162" stroke-width="1.2"/><circle cx="1211.2" cy="405.6" r="5.9" fill="#000" fill-opacity="0.095" stroke="#000" stroke-opacity="0.095" stroke-width="1.2"/><circle cx="1222.1" cy="555.0" r="5.9" fill="#000" fill-opacity="0.038" stroke="#000" stroke-opacity="0.038" stroke-width="1.2"/><circle cx="1233.0" cy="526.5" r="5.9" fill="#000" fill-opacity="0.038" stroke="#000" stroke-opacity="0.038" stroke-width="1.2"/><circle cx="1243.9" cy="423.1" r="5.9" fill="#000" fill-opacity="0.304" stroke="#000" stroke-opacity="0.304" stroke-width="1.2"/><circle cx="1254.8" cy="401.7" r="5.9" fill="#000" fill-opacity="0.114" stroke="#000" stroke-opacity="0.114" stroke-width="1.2"/><circle cx="1265.8" cy="407.1" r="5.9" fill="#000" fill-opacity="0.190" stroke="#000" stroke-opacity="0.190" stroke-width="1.2"/><circle cx="1276.7" cy="679.3" r="5.9" fill="#000" fill-opacity="0.266" stroke="#000" stroke-opacity="0.266" stroke-width="1.2"/><circle cx="1298.5" cy="633.8" r="5.9" fill="#000" fill-opacity="0.114" stroke="#000" stroke-opacity="0.114" stroke-width="1.2"/><circle cx="1309.4" cy="685.2" r="5.9" fill="#000" fill-opacity="0.057" stroke="#000" stroke-opacity="0.057" stroke-width="1.2"/><circle cx="1320.3" cy="419.2" r="5.9" fill="#000" fill-opacity="0.095" stroke="#000" stroke-opacity="0.095" stroke-width="1.2"/><circle cx="1331.3" cy="523.2" r="5.9" fill="#000" fill-opacity="0.038" stroke="#000" stroke-opacity="0.038" stroke-width="1.2"/><circle cx="1342.2" cy="603.1" r="5.9" fill="#000" fill-opacity="0.076" stroke="#000" stroke-opacity="0.076" stroke-width="1.2"/><circle cx="1353.1" cy="681.5" r="5.9" fill="#000" fill-opacity="0.361" stroke="#000" stroke-opacity="0.361" stroke-width="1.2"/><circle cx="1364.0" cy="558.9" r="5.9" fill="#000" fill-opacity="0.066" stroke="#000" stroke-opacity="0.066" stroke-width="1.2"/><circle cx="1374.9" cy="683.0" r="5.9" fill="#000" fill-opacity="0.114" stroke="#000" stroke-opacity="0.114" stroke-width="1.2"/><circle cx="1385.8" cy="605.7" r="5.9" fill="#000" fill-opacity="0.123" stroke="#000" stroke-opacity="0.123" stroke-width="1.2"/><circle cx="1396.7" cy="598.7" r="5.9" fill="#000" fill-opacity="0.123" stroke="#000" stroke-opacity="0.123" stroke-width="1.2"/><circle cx="1407.7" cy="641.4" r="5.9" fill="#000" fill-opacity="0.048" stroke="#000" stroke-opacity="0.048" stroke-width="1.2"/><circle cx="1418.6" cy="674.3" r="5.9" fill="#000" fill-opacity="0.190" stroke="#000" stroke-opacity="0.190" stroke-width="1.2"/><circle cx="1429.5" cy="679.3" r="5.9" fill="#000" fill-opacity="0.143" stroke="#000" stroke-opacity="0.143" stroke-width="1.2"/><circle cx="1440.4" cy="533.0" r="5.9" fill="#000" fill-opacity="0.029" stroke="#000" stroke-opacity="0.029" stroke-width="1.2"/><circle cx="1451.3" cy="403.8" r="5.9" fill="#000" fill-opacity="0.209" stroke="#000" stroke-opacity="0.209" stroke-width="1.2"/><circle cx="1462.2" cy="588.9" r="5.9" fill="#000" fill-opacity="0.038" stroke="#000" stroke-opacity="0.038" stroke-width="1.2"/><circle cx="1473.2" cy="661.1" r="5.9" fill="#000" fill-opacity="0.114" stroke="#000" stroke-opacity="0.114" stroke-width="1.2"/><circle cx="1484.1" cy="677.1" r="5.9" fill="#000" fill-opacity="0.171" stroke="#000" stroke-opacity="0.171" stroke-width="1.2"/><circle cx="1495.0" cy="650.2" r="5.9" fill="#000" fill-opacity="0.048" stroke="#000" stroke-opacity="0.048" stroke-width="1.2"/><circle cx="1505.9" cy="682.0" r="5.9" fill="#000" fill-opacity="0.380" stroke="#000" stroke-opacity="0.380" stroke-width="1.2"/><circle cx="1516.8" cy="661.1" r="5.9" fill="#000" fill-opacity="0.057" stroke="#000" stroke-opacity="0.057" stroke-width="1.2"/><circle cx="1527.7" cy="432.8" r="5.9" fill="#000" fill-opacity="0.114" stroke="#000" stroke-opacity="0.114" stroke-width="1.2"/><circle cx="1538.7" cy="441.1" r="5.9" fill="#000" fill-opacity="0.171" stroke="#000" stroke-opacity="0.171" stroke-width="1.2"/><circle cx="1549.6" cy="468.9" r="5.9" fill="#000" fill-opacity="0.123" stroke="#000" stroke-opacity="0.123" stroke-width="1.2"/><circle cx="1571.4" cy="444.8" r="5.9" fill="#000" fill-opacity="0.123" stroke="#000" stroke-opacity="0.123" stroke-width="1.2"/><circle cx="1582.3" cy="598.7" r="5.9" fill="#000" fill-opacity="0.143" stroke="#000" stroke-opacity="0.143" stroke-width="1.2"/><circle cx="1593.2" cy="406.5" r="5.9" fill="#000" fill-opacity="0.665" stroke="#000" stroke-opacity="0.665" stroke-width="1.2"/><circle cx="1615.1" cy="595.0" r="5.9" fill="#000" fill-opacity="0.123" stroke="#000" stroke-opacity="0.123" stroke-width="1.2"/><circle cx="1626.0" cy="591.7" r="5.9" fill="#000" fill-opacity="0.057" stroke="#000" stroke-opacity="0.057" stroke-width="1.2"/><circle cx="1636.9" cy="565.2" r="5.9" fill="#000" fill-opacity="0.038" stroke="#000" stroke-opacity="0.038" stroke-width="1.2"/><circle cx="1658.7" cy="445.0" r="5.9" fill="#000" fill-opacity="0.285" stroke="#000" stroke-opacity="0.285" stroke-width="1.2"/><circle cx="1669.6" cy="401.7" r="5.9" fill="#000" fill-opacity="0.038" stroke="#000" stroke-opacity="0.038" stroke-width="1.2"/><circle cx="1691.5" cy="680.2" r="5.9" fill="#000" fill-opacity="0.399" stroke="#000" stroke-opacity="0.399" stroke-width="1.2"/><circle cx="1702.4" cy="637.7" r="5.9" fill="#000" fill-opacity="0.048" stroke="#000" stroke-opacity="0.048" stroke-width="1.2"/><circle cx="1713.3" cy="611.9" r="5.9" fill="#000" fill-opacity="0.057" stroke="#000" stroke-opacity="0.057" stroke-width="1.2"/><circle cx="1724.2" cy="403.4" r="5.9" fill="#000" fill-opacity="0.475" stroke="#000" stroke-opacity="0.475" stroke-width="1.2"/><circle cx="1735.1" cy="444.4" r="5.9" fill="#000" fill-opacity="0.048" stroke="#000" stroke-opacity="0.048" stroke-width="1.2"/><circle cx="1746.1" cy="422.5" r="5.9" fill="#000" fill-opacity="0.038" stroke="#000" stroke-opacity="0.038" stroke-width="1.2"/><circle cx="1767.9" cy="684.8" r="5.9" fill="#000" fill-opacity="0.617" stroke="#000" stroke-opacity="0.617" stroke-width="1.2"/><circle cx="1778.8" cy="659.4" r="5.9" fill="#000" fill-opacity="0.361" stroke="#000" stroke-opacity="0.361" stroke-width="1.2"/><circle cx="1800.6" cy="646.5" r="5.9" fill="#000" fill-opacity="0.066" stroke="#000" stroke-opacity="0.066" stroke-width="1.2"/><circle cx="1811.6" cy="679.3" r="5.9" fill="#000" fill-opacity="0.114" stroke="#000" stroke-opacity="0.114" stroke-width="1.2"/><circle cx="1822.5" cy="623.5" r="5.9" fill="#000" fill-opacity="0.143" stroke="#000" stroke-opacity="0.143" stroke-width="1.2"/><circle cx="1833.4" cy="629.4" r="5.9" fill="#000" fill-opacity="0.266" stroke="#000" stroke-opacity="0.266" stroke-width="1.2"/><circle cx="1844.3" cy="678.7" r="5.9" fill="#000" fill-opacity="0.095" stroke="#000" stroke-opacity="0.095" stroke-width="1.2"/><circle cx="1877.1" cy="683.0" r="5.9" fill="#000" fill-opacity="0.427" stroke="#000" stroke-opacity="0.427" stroke-width="1.2"/><circle cx="1888.0" cy="566.5" r="5.9" fill="#000" fill-opacity="0.048" stroke="#000" stroke-opacity="0.048" stroke-width="1.2"/><circle cx="1898.9" cy="685.2" r="5.9" fill="#000" fill-opacity="0.143" stroke="#000" stroke-opacity="0.143" stroke-width="1.2"/><circle cx="1909.8" cy="611.2" r="5.9" fill="#000" fill-opacity="0.237" stroke="#000" stroke-opacity="0.237" stroke-width="1.2"/><circle cx="1920.7" cy="619.5" r="5.9" fill="#000" fill-opacity="0.304" stroke="#000" stroke-opacity="0.304" stroke-width="1.2"/><circle cx="1942.5" cy="654.6" r="5.9" fill="#000" fill-opacity="0.361" stroke="#000" stroke-opacity="0.361" stroke-width="1.2"/><circle cx="1953.5" cy="632.7" r="5.9" fill="#000" fill-opacity="0.266" stroke="#000" stroke-opacity="0.266" stroke-width="1.2"/><circle cx="1964.4" cy="684.6" r="5.9" fill="#000" fill-opacity="0.380" stroke="#000" stroke-opacity="0.380" stroke-width="1.2"/><circle cx="1975.3" cy="610.8" r="5.9" fill="#000" fill-opacity="0.048" stroke="#000" stroke-opacity="0.048" stroke-width="1.2"/><circle cx="1986.2" cy="422.5" r="5.9" fill="#000" fill-opacity="0.209" stroke="#000" stroke-opacity="0.209" stroke-width="1.2"/><circle cx="1997.1" cy="641.9" r="5.9" fill="#000" fill-opacity="0.114" stroke="#000" stroke-opacity="0.114" stroke-width="1.2"/><circle cx="2008.0" cy="461.4" r="5.9" fill="#000" fill-opacity="0.114" stroke="#000" stroke-opacity="0.114" stroke-width="1.2"/><circle cx="2019.0" cy="650.6" r="5.9" fill="#000" fill-opacity="0.190" stroke="#000" stroke-opacity="0.190" stroke-width="1.2"/><circle cx="2029.9" cy="427.9" r="5.9" fill="#000" fill-opacity="0.095" stroke="#000" stroke-opacity="0.095" stroke-width="1.2"/></g><g clip-path="url(#cp2)"><line x1="190.25" y1="900.3" x2="2111.85" y2="900.3" stroke="#787878" stroke-width="2.4" stroke-dasharray="2.4 5.0635" stroke-dashoffset="-1.950"/><path d="M271.5 759.6 L272.8 760.3 L274.0 761.2 L275.3 762.1 L276.5 763.2 L277.8 764.4 L279.0 765.7 L280.3 767.1 L281.6 768.6 L282.8 770.3 L284.1 772.0 L285.3 773.9 L286.6 775.8 L287.8 777.9 L289.1 780.0 L290.4 782.3 L291.6 784.7 L292.9 787.1 L294.1 789.7 L295.4 792.3 L296.6 795.0 L297.9 797.9 L299.2 800.8 L300.4 803.8 L301.7 806.8 L302.9 810.0 L304.2 813.2 L305.4 816.5 L306.7 819.8 L308.0 823.2 L309.2 826.7 L310.5 830.3 L311.7 833.9 L313.0 837.5 L314.2 841.2 L315.5 845.0 L316.8 848.8 L318.0 852.6 L319.3 856.5 L320.5 860.4 L321.8 864.3 L323.0 868.3 L324.3 872.3 L325.6 876.3 L326.8 880.4 L328.1 884.4 L329.3 888.5 L330.6 892.6 L331.8 896.6 L333.1 900.7 L334.4 904.8 L335.6 908.9 L336.9 912.9 L338.1 917.0 L339.4 921.0 L340.6 925.0 L341.9 929.0 L343.2 933.0 L344.4 936.9 L345.7 940.8 L346.9 944.7 L348.2 948.6 L349.4 952.4 L350.7 956.1 L352.0 959.8 L353.2 963.5 L354.5 967.1 L355.7 970.7 L357.0 974.1 L358.2 977.6 L359.5 981.0 L360.8 984.3 L362.0 987.5 L363.3 990.7 L364.5 993.7 L365.8 996.8 L367.0 999.7 L368.3 1002.6 L369.6 1005.3 L370.8 1008.0 L372.1 1010.6 L373.3 1013.1 L374.6 1015.5 L375.8 1017.9 L377.1 1020.1 L378.4 1022.2 L379.6 1024.3 L380.9 1026.2 L382.1 1028.0 L383.4 1029.8 L384.6 1031.4 L385.9 1032.9 L387.2 1034.3 L388.4 1035.6 L389.7 1036.9 L390.9 1037.9 L392.2 1038.9 L393.4 1039.8 L394.7 1040.6 L396.0 1041.2 L397.2 1041.8 L398.5 1042.2 L399.7 1042.5 L401.0 1042.7 L402.2 1042.8 L403.5 1042.8 L404.8 1042.6 L406.0 1042.4 L407.3 1042.0 L408.5 1041.6 L409.8 1041.0 L411.0 1040.3 L412.3 1039.5 L413.6 1038.6 L414.8 1037.6 L416.1 1036.4 L417.3 1035.2 L418.6 1033.9 L419.8 1032.4 L421.1 1030.9 L422.4 1029.2 L423.6 1027.5 L424.9 1025.7 L426.1 1023.7 L427.4 1021.7 L428.6 1019.6 L429.9 1017.3 L431.2 1015.0 L432.4 1012.6 L433.7 1010.1 L434.9 1007.6 L436.2 1004.9 L437.4 1002.2 L438.7 999.4 L440.0 996.5 L441.2 993.5 L442.5 990.5 L443.7 987.4 L445.0 984.2 L446.2 981.0 L447.5 977.7 L448.8 974.3 L450.0 970.9 L451.3 967.5 L452.5 964.0 L453.8 960.4 L455.0 956.8 L456.3 953.2 L457.6 949.5 L458.8 945.7 L460.1 942.0 L461.3 938.2 L462.6 934.4 L463.8 930.6 L465.1 926.7 L466.4 922.8 L467.6 918.9 L468.9 915.0 L470.1 911.1 L471.4 907.2 L472.6 903.3 L473.9 899.3 L475.2 895.4 L476.4 891.5 L477.7 887.6 L478.9 883.7 L480.2 879.8 L481.4 875.9 L482.7 872.0 L484.0 868.2 L485.2 864.4 L486.5 860.6 L487.7 856.9 L489.0 853.2 L490.2 849.5 L491.5 845.9 L492.8 842.3 L494.0 838.7 L495.3 835.2 L496.5 831.8 L497.8 828.4 L499.1 825.0 L500.3 821.8 L501.6 818.5 L502.8 815.4 L504.1 812.3 L505.3 809.2 L506.6 806.3 L507.9 803.4 L509.1 800.6 L510.4 797.8 L511.6 795.2 L512.9 792.6 L514.1 790.1 L515.4 787.7 L516.7 785.3 L517.9 783.1 L519.2 780.9 L520.4 778.8 L521.7 776.8 L522.9 775.0 L524.2 773.2 L525.5 771.5 L526.7 769.8 L528.0 768.3 L529.2 766.9 L530.5 765.6 L531.7 764.4 L533.0 763.3 L534.3 762.3 L535.5 761.4 L536.8 760.6 L538.0 759.8 L539.3 759.2 L540.5 758.8 L541.8 758.4 L543.1 758.1 L544.3 757.9 L545.6 757.8 L546.8 757.8 L548.1 758.0 L549.3 758.2 L550.6 758.5 L551.9 759.0 L553.1 759.5 L554.4 760.2 L555.6 760.9 L556.9 761.7 L558.1 762.7 L559.4 763.7 L560.7 764.9 L561.9 766.1 L563.2 767.5 L564.4 768.9 L565.7 770.4 L566.9 772.1 L568.2 773.8 L569.5 775.6 L570.7 777.5 L572.0 779.5 L573.2 781.6 L574.5 783.7 L575.7 786.0 L577.0 788.3 L578.3 790.7 L579.5 793.2 L580.8 795.7 L582.0 798.4 L583.3 801.1 L584.5 803.8 L585.8 806.7 L587.1 809.6 L588.3 812.6 L589.6 815.6 L590.8 818.7 L592.1 821.8 L593.3 825.0 L594.6 828.3 L595.9 831.6 L597.1 835.0 L598.4 838.4 L599.6 841.8 L600.9 845.3 L602.1 848.8 L603.4 852.4 L604.7 856.0 L605.9 859.6 L607.2 863.2 L608.4 866.9 L609.7 870.6 L610.9 874.3 L612.2 878.1 L613.5 881.8 L614.7 885.6 L616.0 889.4 L617.2 893.1 L618.5 896.9 L619.7 900.7 L621.0 904.5 L622.3 908.3 L623.5 912.0 L624.8 915.8 L626.0 919.5 L627.3 923.3 L628.5 927.0 L629.8 930.7 L631.1 934.3 L632.3 938.0 L633.6 941.6 L634.8 945.2 L636.1 948.8 L637.3 952.3 L638.6 955.8 L639.9 959.2 L641.1 962.6 L642.4 966.0 L643.6 969.3 L644.9 972.6 L646.1 975.8 L647.4 978.9 L648.7 982.0 L649.9 985.1 L651.2 988.1 L652.4 991.0 L653.7 993.8 L654.9 996.6 L656.2 999.4 L657.5 1002.0 L658.7 1004.6 L660.0 1007.1 L661.2 1009.6 L662.5 1011.9 L663.7 1014.2 L665.0 1016.4 L666.3 1018.5 L667.5 1020.6 L668.8 1022.5 L670.0 1024.4 L671.3 1026.2 L672.5 1027.9 L673.8 1029.5 L675.1 1031.1 L676.3 1032.5 L677.6 1033.8 L678.8 1035.1 L680.1 1036.3 L681.3 1037.3 L682.6 1038.3 L683.9 1039.2 L685.1 1040.0 L686.4 1040.7 L687.6 1041.3 L688.9 1041.7 L690.1 1042.2 L691.4 1042.5 L692.7 1042.7 L693.9 1042.8 L695.2 1042.8 L696.4 1042.7 L697.7 1042.5 L698.9 1042.3 L700.2 1041.9 L701.5 1041.4 L702.7 1040.9 L704.0 1040.2 L705.2 1039.5 L706.5 1038.6 L707.7 1037.7 L709.0 1036.7 L710.3 1035.5 L711.5 1034.3 L712.8 1033.0 L714.0 1031.7 L715.3 1030.2 L716.5 1028.6 L717.8 1027.0 L719.1 1025.2 L720.3 1023.4 L721.6 1021.5 L722.8 1019.6 L724.1 1017.5 L725.3 1015.4 L726.6 1013.2 L727.9 1010.9 L729.1 1008.5 L730.4 1006.1 L731.6 1003.6 L732.9 1001.0 L734.1 998.4 L735.4 995.7 L736.7 993.0 L737.9 990.1 L739.2 987.3 L740.4 984.3 L741.7 981.3 L742.9 978.3 L744.2 975.2 L745.5 972.1 L746.7 968.9 L748.0 965.7 L749.2 962.4 L750.5 959.1 L751.7 955.7 L753.0 952.3 L754.3 948.9 L755.5 945.5 L756.8 942.0 L758.0 938.5 L759.3 935.0 L760.5 931.4 L761.8 927.9 L763.1 924.3 L764.3 920.7 L765.6 917.1 L766.8 913.4 L768.1 909.8 L769.3 906.2 L770.6 902.5 L771.9 898.9 L773.1 895.3 L774.4 891.6 L775.6 888.0 L776.9 884.4 L778.1 880.8 L779.4 877.2 L780.7 873.6 L781.9 870.1 L783.2 866.6 L784.4 863.0 L785.7 859.6 L786.9 856.1 L788.2 852.7 L789.5 849.3 L790.7 845.9 L792.0 842.6 L793.2 839.3 L794.5 836.1 L795.7 832.8 L797.0 829.7 L798.3 826.6 L799.5 823.5 L800.8 820.5 L802.0 817.5 L803.3 814.6 L804.5 811.8 L805.8 809.0 L807.1 806.2 L808.3 803.6 L809.6 800.9 L810.8 798.4 L812.1 795.9 L813.3 793.5 L814.6 791.1 L815.9 788.9 L817.1 786.7 L818.4 784.5 L819.6 782.5 L820.9 780.5 L822.1 778.6 L823.4 776.8 L824.7 775.0 L825.9 773.3 L827.2 771.8 L828.4 770.2 L829.7 768.8 L830.9 767.5 L832.2 766.2 L833.5 765.1 L834.7 764.0 L836.0 763.0 L837.2 762.1 L838.5 761.2 L839.7 760.5 L841.0 759.9 L842.3 759.3 L843.5 758.8 L844.8 758.4 L846.0 758.1 L847.3 757.9 L848.5 757.8 L849.8 757.8 L851.1 757.9 L852.3 758.0 L853.6 758.3 L854.8 758.6 L856.1 759.0 L857.3 759.5 L858.6 760.1 L859.9 760.8 L861.1 761.6 L862.4 762.4 L863.6 763.3 L864.9 764.4 L866.1 765.5 L867.4 766.7 L868.7 767.9 L869.9 769.3 L871.2 770.7 L872.4 772.2 L873.7 773.8 L874.9 775.5 L876.2 777.3 L877.5 779.1 L878.7 781.0 L880.0 783.0 L881.2 785.0 L882.5 787.1 L883.7 789.3 L885.0 791.5 L886.3 793.9 L887.5 796.2 L888.8 798.7 L890.0 801.2 L891.3 803.7 L892.5 806.4 L893.8 809.1 L895.1 811.8 L896.3 814.6 L897.6 817.4 L898.8 820.3 L900.1 823.2 L901.3 826.2 L902.6 829.2 L903.9 832.3 L905.1 835.4 L906.4 838.6 L907.6 841.8 L908.9 845.0 L910.1 848.2 L911.4 851.5 L912.7 854.8 L913.9 858.2 L915.2 861.5 L916.4 864.9 L917.7 868.3 L918.9 871.7 L920.2 875.2 L921.5 878.6 L922.7 882.1 L924.0 885.6 L925.2 889.0 L926.5 892.5 L927.7 896.0 L929.0 899.5 L930.3 903.0 L931.5 906.5 L932.8 910.0 L934.0 913.5 L935.3 916.9 L936.6 920.4 L937.8 923.8 L939.1 927.3 L940.3 930.7 L941.6 934.1 L942.8 937.4 L944.1 940.8 L945.4 944.1 L946.6 947.4 L947.9 950.7 L949.1 953.9 L950.4 957.1 L951.6 960.3 L952.9 963.4 L954.2 966.5 L955.4 969.6 L956.7 972.6 L957.9 975.6 L959.2 978.5 L960.4 981.3 L961.7 984.2 L963.0 986.9 L964.2 989.7 L965.5 992.3 L966.7 995.0 L968.0 997.5 L969.2 1000.0 L970.5 1002.5 L971.8 1004.8 L973.0 1007.2 L974.3 1009.4 L975.5 1011.6 L976.8 1013.7 L978.0 1015.8 L979.3 1017.8 L980.6 1019.7 L981.8 1021.5 L983.1 1023.3 L984.3 1025.0 L985.6 1026.6 L986.8 1028.2 L988.1 1029.7 L989.4 1031.1 L990.6 1032.4 L991.9 1033.7 L993.1 1034.8 L994.4 1035.9 L995.6 1036.9 L996.9 1037.9 L998.2 1038.7 L999.4 1039.5 L1000.7 1040.2 L1001.9 1040.8 L1003.2 1041.3 L1004.4 1041.8 L1005.7 1042.2 L1007.0 1042.4 L1008.2 1042.6 L1009.5 1042.8 L1010.7 1042.8 L1012.0 1042.8 L1013.2 1042.6 L1014.5 1042.4 L1015.8 1042.1 L1017.0 1041.8 L1018.3 1041.3 L1019.5 1040.8 L1020.8 1040.2 L1022.0 1039.5 L1023.3 1038.7 L1024.6 1037.8 L1025.8 1036.9 L1027.1 1035.9 L1028.3 1034.8 L1029.6 1033.7 L1030.8 1032.4 L1032.1 1031.1 L1033.4 1029.7 L1034.6 1028.2 L1035.9 1026.7 L1037.1 1025.1 L1038.4 1023.4 L1039.6 1021.7 L1040.9 1019.9 L1042.2 1018.0 L1043.4 1016.0 L1044.7 1014.0 L1045.9 1012.0 L1047.2 1009.8 L1048.4 1007.6 L1049.7 1005.4 L1051.0 1003.0 L1052.2 1000.7 L1053.5 998.2 L1054.7 995.7 L1056.0 993.2 L1057.2 990.6 L1058.5 988.0 L1059.8 985.3 L1061.0 982.6 L1062.3 979.8 L1063.5 976.9 L1064.8 974.1 L1066.0 971.2 L1067.3 968.2 L1068.6 965.2 L1069.8 962.2 L1071.1 959.2 L1072.3 956.1 L1073.6 953.0 L1074.8 949.8 L1076.1 946.6 L1077.4 943.4 L1078.6 940.2 L1079.9 937.0 L1081.1 933.7 L1082.4 930.5 L1083.6 927.2 L1084.9 923.9 L1086.2 920.5 L1087.4 917.2 L1088.7 913.9 L1089.9 910.5 L1091.2 907.2 L1092.4 903.8 L1093.7 900.5 L1095.0 897.1 L1096.2 893.8 L1097.5 890.4 L1098.7 887.1 L1100.0 883.8 L1101.2 880.4 L1102.5 877.1 L1103.8 873.8 L1105.0 870.6 L1106.3 867.3 L1107.5 864.1 L1108.8 860.8 L1110.0 857.7 L1111.3 854.5 L1112.6 851.3 L1113.8 848.2 L1115.1 845.1 L1116.3 842.1 L1117.6 839.0 L1118.8 836.1 L1120.1 833.1 L1121.4 830.2 L1122.6 827.3 L1123.9 824.5 L1125.1 821.7 L1126.4 818.9 L1127.6 816.2 L1128.9 813.5 L1130.2 810.9 L1131.4 808.4 L1132.7 805.9 L1133.9 803.4 L1135.2 801.0 L1136.4 798.6 L1137.7 796.4 L1139.0 794.1 L1140.2 791.9 L1141.5 789.8 L1142.7 787.7 L1144.0 785.7 L1145.2 783.8 L1146.5 781.9 L1147.8 780.1 L1149.0 778.4 L1150.3 776.7 L1151.5 775.1 L1152.8 773.5 L1154.0 772.1 L1155.3 770.7 L1156.6 769.3 L1157.8 768.1 L1159.1 766.9 L1160.3 765.8 L1161.6 764.7 L1162.8 763.7 L1164.1 762.8 L1165.4 762.0 L1166.6 761.2 L1167.9 760.6 L1169.1 759.9 L1170.4 759.4 L1171.6 759.0 L1172.9 758.6 L1174.2 758.3 L1175.4 758.0 L1176.7 757.9 L1177.9 757.8 L1179.2 757.8 L1180.4 757.9 L1181.7 758.0 L1183.0 758.3 L1184.2 758.5 L1185.5 758.9 L1186.7 759.4 L1188.0 759.9 L1189.2 760.5 L1190.5 761.2 L1191.8 761.9 L1193.0 762.7 L1194.3 763.6 L1195.5 764.6 L1196.8 765.6 L1198.0 766.7 L1199.3 767.9 L1200.6 769.1 L1201.8 770.4 L1203.1 771.8 L1204.3 773.2 L1205.6 774.7 L1206.8 776.3 L1208.1 778.0 L1209.4 779.7 L1210.6 781.4 L1211.9 783.2 L1213.1 785.1 L1214.4 787.1 L1215.6 789.1 L1216.9 791.1 L1218.2 793.3 L1219.4 795.4 L1220.7 797.7 L1221.9 799.9 L1223.2 802.3 L1224.4 804.7 L1225.7 807.1 L1227.0 809.6 L1228.2 812.1 L1229.5 814.7 L1230.7 817.3 L1232.0 819.9 L1233.2 822.6 L1234.5 825.3 L1235.8 828.1 L1237.0 830.9 L1238.3 833.8 L1239.5 836.6 L1240.8 839.6 L1242.0 842.5 L1243.3 845.5 L1244.6 848.5 L1245.8 851.5 L1247.1 854.5 L1248.3 857.6 L1249.6 860.7 L1250.8 863.8 L1252.1 866.9 L1253.4 870.0 L1254.6 873.2 L1255.9 876.4 L1257.1 879.5 L1258.4 882.7 L1259.6 885.9 L1260.9 889.1 L1262.2 892.3 L1263.4 895.6 L1264.7 898.8 L1265.9 902.0 L1267.2 905.2 L1268.4 908.4 L1269.7 911.6 L1271.0 914.8 L1272.2 918.0 L1273.5 921.2 L1274.7 924.3 L1276.0 927.5 L1277.2 930.6 L1278.5 933.7 L1279.8 936.8 L1281.0 939.9 L1282.3 943.0 L1283.5 946.0 L1284.8 949.0 L1286.0 952.0 L1287.3 955.0 L1288.6 957.9 L1289.8 960.8 L1291.1 963.7 L1292.3 966.6 L1293.6 969.4 L1294.8 972.1 L1296.1 974.9 L1297.4 977.6 L1298.6 980.2 L1299.9 982.8 L1301.1 985.4 L1302.4 988.0 L1303.6 990.4 L1304.9 992.9 L1306.2 995.3 L1307.4 997.6 L1308.7 999.9 L1309.9 1002.2 L1311.2 1004.4 L1312.4 1006.5 L1313.7 1008.6 L1315.0 1010.6 L1316.2 1012.6 L1317.5 1014.5 L1318.7 1016.4 L1320.0 1018.2 L1321.2 1020.0 L1322.5 1021.7 L1323.8 1023.3 L1325.0 1024.9 L1326.3 1026.4 L1327.5 1027.8 L1328.8 1029.2 L1330.0 1030.5 L1331.3 1031.8 L1332.6 1032.9 L1333.8 1034.1 L1335.1 1035.1 L1336.3 1036.1 L1337.6 1037.0 L1338.8 1037.9 L1340.1 1038.7 L1341.4 1039.4 L1342.6 1040.0 L1343.9 1040.6 L1345.1 1041.1 L1346.4 1041.6 L1347.6 1042.0 L1348.9 1042.3 L1350.2 1042.5 L1351.4 1042.7 L1352.7 1042.8 L1353.9 1042.8 L1355.2 1042.8 L1356.4 1042.6 L1357.7 1042.5 L1359.0 1042.2 L1360.2 1041.9 L1361.5 1041.5 L1362.7 1041.1 L1364.0 1040.5 L1365.2 1040.0 L1366.5 1039.3 L1367.8 1038.6 L1369.0 1037.8 L1370.3 1036.9 L1371.5 1036.0 L1372.8 1035.0 L1374.1 1034.0 L1375.3 1032.9 L1376.6 1031.7 L1377.8 1030.4 L1379.1 1029.1 L1380.3 1027.8 L1381.6 1026.3 L1382.9 1024.8 L1384.1 1023.3 L1385.4 1021.7 L1386.6 1020.0 L1387.9 1018.3 L1389.1 1016.5 L1390.4 1014.7 L1391.7 1012.8 L1392.9 1010.9 L1394.2 1008.9 L1395.4 1006.9 L1396.7 1004.8 L1397.9 1002.6 L1399.2 1000.4 L1400.5 998.2 L1401.7 995.9 L1403.0 993.6 L1404.2 991.2 L1405.5 988.8 L1406.7 986.4 L1408.0 983.9 L1409.3 981.3 L1410.5 978.8 L1411.8 976.2 L1413.0 973.5 L1414.3 970.8 L1415.5 968.1 L1416.8 965.4 L1418.1 962.6 L1419.3 959.8 L1420.6 957.0 L1421.8 954.2 L1423.1 951.3 L1424.3 948.4 L1425.6 945.5 L1426.9 942.5 L1428.1 939.6 L1429.4 936.6 L1430.6 933.6 L1431.9 930.6 L1433.1 927.6 L1434.4 924.5 L1435.7 921.5 L1436.9 918.4 L1438.2 915.4 L1439.4 912.3 L1440.7 909.2 L1441.9 906.2 L1443.2 903.1 L1444.5 900.0 L1445.7 896.9 L1447.0 893.9 L1448.2 890.8 L1449.5 887.7 L1450.7 884.7 L1452.0 881.6 L1453.3 878.6 L1454.5 875.6 L1455.8 872.6 L1457.0 869.6 L1458.3 866.6 L1459.5 863.6 L1460.8 860.7 L1462.1 857.7 L1463.3 854.8 L1464.6 851.9 L1465.8 849.1 L1467.1 846.2 L1468.3 843.4 L1469.6 840.6 L1470.9 837.8 L1472.1 835.1 L1473.4 832.4 L1474.6 829.7 L1475.9 827.1 L1477.1 824.5 L1478.4 821.9 L1479.7 819.4 L1480.9 816.9 L1482.2 814.5 L1483.4 812.1 L1484.7 809.7 L1485.9 807.4 L1487.2 805.1 L1488.5 802.8 L1489.7 800.6 L1491.0 798.5 L1492.2 796.4 L1493.5 794.3 L1494.7 792.3 L1496.0 790.4 L1497.3 788.5 L1498.5 786.6 L1499.8 784.8 L1501.0 783.0 L1502.3 781.3 L1503.5 779.7 L1504.8 778.1 L1506.1 776.6 L1507.3 775.1 L1508.6 773.7 L1509.8 772.3 L1511.1 771.0 L1512.3 769.8 L1513.6 768.6 L1514.9 767.5 L1516.1 766.4 L1517.4 765.4 L1518.6 764.5 L1519.9 763.6 L1521.1 762.8 L1522.4 762.0 L1523.7 761.3 L1524.9 760.7 L1526.2 760.1 L1527.4 759.6 L1528.7 759.1 L1529.9 758.8 L1531.2 758.4 L1532.5 758.2 L1533.7 758.0 L1535.0 757.9 L1536.2 757.8 L1537.5 757.8 L1538.7 757.9 L1540.0 758.0 L1541.3 758.2 L1542.5 758.4 L1543.8 758.8 L1545.0 759.1 L1546.3 759.6 L1547.5 760.1 L1548.8 760.6 L1550.1 761.3 L1551.3 761.9 L1552.6 762.7 L1553.8 763.5 L1555.1 764.4 L1556.3 765.3 L1557.6 766.3 L1558.9 767.3 L1560.1 768.4 L1561.4 769.6 L1562.6 770.8 L1563.9 772.1 L1565.1 773.4 L1566.4 774.8 L1567.7 776.3 L1568.9 777.8 L1570.2 779.3 L1571.4 780.9 L1572.7 782.6 L1573.9 784.3 L1575.2 786.0 L1576.5 787.8 L1577.7 789.7 L1579.0 791.6 L1580.2 793.5 L1581.5 795.5 L1582.7 797.6 L1584.0 799.6 L1585.3 801.8 L1586.5 803.9 L1587.8 806.2 L1589.0 808.4 L1590.3 810.7 L1591.5 813.0 L1592.8 815.4 L1594.1 817.8 L1595.3 820.2 L1596.6 822.7 L1597.8 825.2 L1599.1 827.7 L1600.3 830.3 L1601.6 832.9 L1602.9 835.5 L1604.1 838.2 L1605.4 840.8 L1606.6 843.5 L1607.9 846.3 L1609.1 849.0 L1610.4 851.8 L1611.7 854.6 L1612.9 857.4 L1614.2 860.2 L1615.4 863.0 L1616.7 865.9 L1617.9 868.8 L1619.2 871.6 L1620.5 874.5 L1621.7 877.4 L1623.0 880.3 L1624.2 883.3 L1625.5 886.2 L1626.7 889.1 L1628.0 892.1 L1629.3 895.0 L1630.5 897.9 L1631.8 900.9 L1633.0 903.8 L1634.3 906.8 L1635.5 909.7 L1636.8 912.6 L1638.1 915.5 L1639.3 918.5 L1640.6 921.4 L1641.8 924.3 L1643.1 927.1 L1644.3 930.0 L1645.6 932.9 L1646.9 935.7 L1648.1 938.5 L1649.4 941.4 L1650.6 944.2 L1651.9 946.9 L1653.1 949.7 L1654.4 952.4 L1655.7 955.1 L1656.9 957.8 L1658.2 960.5 L1659.4 963.1 L1660.7 965.7 L1661.9 968.3 L1663.2 970.8 L1664.5 973.4 L1665.7 975.8 L1667.0 978.3 L1668.2 980.7 L1669.5 983.1 L1670.7 985.5 L1672.0 987.8 L1673.3 990.1 L1674.5 992.3 L1675.8 994.5 L1677.0 996.7 L1678.3 998.8 L1679.5 1000.9 L1680.8 1002.9 L1682.1 1004.9 L1683.3 1006.9 L1684.6 1008.8 L1685.8 1010.6 L1687.1 1012.4 L1688.3 1014.2 L1689.6 1015.9 L1690.9 1017.6 L1692.1 1019.2 L1693.4 1020.8 L1694.6 1022.3 L1695.9 1023.8 L1697.1 1025.2 L1698.4 1026.6 L1699.7 1027.9 L1700.9 1029.1 L1702.2 1030.3 L1703.4 1031.5 L1704.7 1032.6 L1705.9 1033.6 L1707.2 1034.6 L1708.5 1035.6 L1709.7 1036.5 L1711.0 1037.3 L1712.2 1038.0 L1713.5 1038.8 L1714.7 1039.4 L1716.0 1040.0 L1717.3 1040.5 L1718.5 1041.0 L1719.8 1041.4 L1721.0 1041.8 L1722.3 1042.1 L1723.5 1042.4 L1724.8 1042.6 L1726.1 1042.7 L1727.3 1042.8 L1728.6 1042.8 L1729.8 1042.8 L1731.1 1042.7 L1732.3 1042.5 L1733.6 1042.3 L1734.9 1042.0 L1736.1 1041.7 L1737.4 1041.3 L1738.6 1040.9 L1739.9 1040.4 L1741.1 1039.8 L1742.4 1039.2 L1743.7 1038.5 L1744.9 1037.8 L1746.2 1037.0 L1747.4 1036.2 L1748.7 1035.3 L1749.9 1034.4 L1751.2 1033.4 L1752.5 1032.3 L1753.7 1031.2 L1755.0 1030.1 L1756.2 1028.9 L1757.5 1027.6 L1758.7 1026.3 L1760.0 1025.0 L1761.3 1023.6 L1762.5 1022.1 L1763.8 1020.6 L1765.0 1019.1 L1766.3 1017.5 L1767.5 1015.8 L1768.8 1014.1 L1770.1 1012.4 L1771.3 1010.6 L1772.6 1008.8 L1773.8 1006.9 L1775.1 1005.0 L1776.3 1003.1 L1777.6 1001.1 L1778.9 999.1 L1780.1 997.0 L1781.4 994.9 L1782.6 992.8 L1783.9 990.6 L1785.1 988.4 L1786.4 986.1 L1787.7 983.8 L1788.9 981.5 L1790.2 979.2 L1791.4 976.8 L1792.7 974.4 L1793.9 972.0 L1795.2 969.5 L1796.5 967.0 L1797.7 964.5 L1799.0 962.0 L1800.2 959.4 L1801.5 956.9 L1802.7 954.3 L1804.0 951.6 L1805.3 949.0 L1806.5 946.3 L1807.8 943.6 L1809.0 941.0 L1810.3 938.2 L1811.6 935.5 L1812.8 932.8 L1814.1 930.0 L1815.3 927.3 L1816.6 924.5 L1817.8 921.7 L1819.1 919.0 L1820.4 916.2 L1821.6 913.4 L1822.9 910.6 L1824.1 907.8 L1825.4 905.0 L1826.6 902.2 L1827.9 899.3 L1829.2 896.5 L1830.4 893.7 L1831.7 890.9 L1832.9 888.1 L1834.2 885.4 L1835.4 882.6 L1836.7 879.8 L1838.0 877.0 L1839.2 874.3 L1840.5 871.5 L1841.7 868.8 L1843.0 866.1 L1844.2 863.4 L1845.5 860.7 L1846.8 858.0 L1848.0 855.3 L1849.3 852.7 L1850.5 850.1 L1851.8 847.5 L1853.0 844.9 L1854.3 842.3 L1855.6 839.8 L1856.8 837.3 L1858.1 834.8 L1859.3 832.3 L1860.6 829.9 L1861.8 827.5 L1863.1 825.1 L1864.4 822.8 L1865.6 820.4 L1866.9 818.2 L1868.1 815.9 L1869.4 813.7 L1870.6 811.5 L1871.9 809.3 L1873.2 807.2 L1874.4 805.1 L1875.7 803.1 L1876.9 801.1 L1878.2 799.1 L1879.4 797.2 L1880.7 795.3 L1882.0 793.4 L1883.2 791.6 L1884.5 789.8 L1885.7 788.1 L1887.0 786.4 L1888.2 784.8 L1889.5 783.2 L1890.8 781.6 L1892.0 780.1 L1893.3 778.7 L1894.5 777.2 L1895.8 775.9 L1897.0 774.6 L1898.3 773.3 L1899.6 772.1 L1900.8 770.9 L1902.1 769.7 L1903.3 768.7 L1904.6 767.6 L1905.8 766.6 L1907.1 765.7 L1908.4 764.8 L1909.6 764.0 L1910.9 763.2 L1912.1 762.5 L1913.4 761.8 L1914.6 761.2 L1915.9 760.6 L1917.2 760.1 L1918.4 759.6 L1919.7 759.2 L1920.9 758.9 L1922.2 758.6 L1923.4 758.3 L1924.7 758.1 L1926.0 757.9 L1927.2 757.8 L1928.5 757.8 L1929.7 757.8 L1931.0 757.9 L1932.2 758.0 L1933.5 758.1 L1934.8 758.4 L1936.0 758.6 L1937.3 759.0 L1938.5 759.3 L1939.8 759.8 L1941.0 760.2 L1942.3 760.8 L1943.6 761.3 L1944.8 762.0 L1946.1 762.6 L1947.3 763.4 L1948.6 764.2 L1949.8 765.0 L1951.1 765.9 L1952.4 766.8 L1953.6 767.8 L1954.9 768.8 L1956.1 769.9 L1957.4 771.0 L1958.6 772.2 L1959.9 773.4 L1961.2 774.6 L1962.4 775.9 L1963.7 777.3 L1964.9 778.7 L1966.2 780.1 L1967.4 781.6 L1968.7 783.1 L1970.0 784.7 L1971.2 786.3 L1972.5 788.0 L1973.7 789.6 L1975.0 791.4 L1976.2 793.1 L1977.5 794.9 L1978.8 796.8 L1980.0 798.7 L1981.3 800.6 L1982.5 802.5 L1983.8 804.5 L1985.0 806.5 L1986.3 808.6 L1987.6 810.7 L1988.8 812.8 L1990.1 814.9 L1991.3 817.1 L1992.6 819.3 L1993.8 821.6 L1995.1 823.8 L1996.4 826.1 L1997.6 828.4 L1998.9 830.8 L2000.1 833.1 L2001.4 835.5 L2002.6 837.9 L2003.9 840.4 L2005.2 842.8 L2006.4 845.3 L2007.7 847.8 L2008.9 850.3 L2010.2 852.8 L2011.4 855.4 L2012.7 857.9 L2014.0 860.5 L2015.2 863.1 L2016.5 865.7 L2017.7 868.3 L2019.0 870.9 L2020.2 873.6 L2021.5 876.2 L2022.8 878.8 L2024.0 881.5 L2025.3 884.2 L2026.5 886.8 L2027.8 889.5 L2029.0 892.2 L2030.3 894.8" fill="none" stroke="#000" stroke-width="2.7"/><circle cx="272.4" cy="809.0" r="5.9" fill="#000" fill-opacity="0.066" stroke="#000" stroke-opacity="0.066" stroke-width="1.2"/><circle cx="283.3" cy="890.5" r="5.9" fill="#000" fill-opacity="0.029" stroke="#000" stroke-opacity="0.029" stroke-width="1.2"/><circle cx="305.1" cy="1030.2" r="5.9" fill="#000" fill-opacity="0.361" stroke="#000" stroke-opacity="0.361" stroke-width="1.2"/><circle cx="316.1" cy="970.0" r="5.9" fill="#000" fill-opacity="0.427" stroke="#000" stroke-opacity="0.427" stroke-width="1.2"/><circle cx="327.0" cy="1041.6" r="5.9" fill="#000" fill-opacity="0.209" stroke="#000" stroke-opacity="0.209" stroke-width="1.2"/><circle cx="348.8" cy="762.0" r="5.9" fill="#000" fill-opacity="0.095" stroke="#000" stroke-opacity="0.095" stroke-width="1.2"/><circle cx="359.7" cy="965.2" r="5.9" fill="#000" fill-opacity="0.123" stroke="#000" stroke-opacity="0.123" stroke-width="1.2"/><circle cx="370.6" cy="1008.3" r="5.9" fill="#000" fill-opacity="0.048" stroke="#000" stroke-opacity="0.048" stroke-width="1.2"/><circle cx="381.6" cy="1023.6" r="5.9" fill="#000" fill-opacity="0.095" stroke="#000" stroke-opacity="0.095" stroke-width="1.2"/><circle cx="392.5" cy="950.3" r="5.9" fill="#000" fill-opacity="0.095" stroke="#000" stroke-opacity="0.095" stroke-width="1.2"/><circle cx="403.4" cy="1022.5" r="5.9" fill="#000" fill-opacity="0.190" stroke="#000" stroke-opacity="0.190" stroke-width="1.2"/><circle cx="414.3" cy="759.3" r="5.9" fill="#000" fill-opacity="0.095" stroke="#000" stroke-opacity="0.095" stroke-width="1.2"/><circle cx="425.2" cy="968.4" r="5.9" fill="#000" fill-opacity="0.361" stroke="#000" stroke-opacity="0.361" stroke-width="1.2"/><circle cx="447.1" cy="1002.4" r="5.9" fill="#000" fill-opacity="0.522" stroke="#000" stroke-opacity="0.522" stroke-width="1.2"/><circle cx="458.0" cy="990.8" r="5.9" fill="#000" fill-opacity="0.057" stroke="#000" stroke-opacity="0.057" stroke-width="1.2"/><circle cx="468.9" cy="1012.7" r="5.9" fill="#000" fill-opacity="0.237" stroke="#000" stroke-opacity="0.237" stroke-width="1.2"/><circle cx="479.8" cy="757.1" r="5.9" fill="#000" fill-opacity="0.617" stroke="#000" stroke-opacity="0.617" stroke-width="1.2"/><circle cx="490.7" cy="761.5" r="5.9" fill="#000" fill-opacity="0.380" stroke="#000" stroke-opacity="0.380" stroke-width="1.2"/><circle cx="501.6" cy="998.4" r="5.9" fill="#000" fill-opacity="0.190" stroke="#000" stroke-opacity="0.190" stroke-width="1.2"/><circle cx="512.6" cy="788.9" r="5.9" fill="#000" fill-opacity="0.551" stroke="#000" stroke-opacity="0.551" stroke-width="1.2"/><circle cx="523.5" cy="757.1" r="5.9" fill="#000" fill-opacity="0.114" stroke="#000" stroke-opacity="0.114" stroke-width="1.2"/><circle cx="534.4" cy="758.7" r="5.9" fill="#000" fill-opacity="0.427" stroke="#000" stroke-opacity="0.427" stroke-width="1.2"/><circle cx="545.3" cy="767.0" r="5.9" fill="#000" fill-opacity="0.361" stroke="#000" stroke-opacity="0.361" stroke-width="1.2"/><circle cx="567.1" cy="761.3" r="5.9" fill="#000" fill-opacity="0.190" stroke="#000" stroke-opacity="0.190" stroke-width="1.2"/><circle cx="578.0" cy="806.2" r="5.9" fill="#000" fill-opacity="0.190" stroke="#000" stroke-opacity="0.190" stroke-width="1.2"/><circle cx="589.0" cy="828.1" r="5.9" fill="#000" fill-opacity="0.332" stroke="#000" stroke-opacity="0.332" stroke-width="1.2"/><circle cx="599.9" cy="876.2" r="5.9" fill="#000" fill-opacity="0.048" stroke="#000" stroke-opacity="0.048" stroke-width="1.2"/><circle cx="610.8" cy="787.6" r="5.9" fill="#000" fill-opacity="0.570" stroke="#000" stroke-opacity="0.570" stroke-width="1.2"/><circle cx="621.7" cy="949.8" r="5.9" fill="#000" fill-opacity="0.114" stroke="#000" stroke-opacity="0.114" stroke-width="1.2"/><circle cx="632.6" cy="906.5" r="5.9" fill="#000" fill-opacity="0.029" stroke="#000" stroke-opacity="0.029" stroke-width="1.2"/><circle cx="643.5" cy="757.1" r="5.9" fill="#000" fill-opacity="0.162" stroke="#000" stroke-opacity="0.162" stroke-width="1.2"/><circle cx="665.4" cy="984.2" r="5.9" fill="#000" fill-opacity="0.190" stroke="#000" stroke-opacity="0.190" stroke-width="1.2"/><circle cx="676.3" cy="977.2" r="5.9" fill="#000" fill-opacity="0.475" stroke="#000" stroke-opacity="0.475" stroke-width="1.2"/><circle cx="687.2" cy="1042.2" r="5.9" fill="#000" fill-opacity="0.143" stroke="#000" stroke-opacity="0.143" stroke-width="1.2"/><circle cx="698.1" cy="1038.5" r="5.9" fill="#000" fill-opacity="0.617" stroke="#000" stroke-opacity="0.617" stroke-width="1.2"/><circle cx="709.0" cy="1032.4" r="5.9" fill="#000" fill-opacity="0.143" stroke="#000" stroke-opacity="0.143" stroke-width="1.2"/><circle cx="720.0" cy="837.5" r="5.9" fill="#000" fill-opacity="0.427" stroke="#000" stroke-opacity="0.427" stroke-width="1.2"/><circle cx="730.9" cy="805.3" r="5.9" fill="#000" fill-opacity="0.143" stroke="#000" stroke-opacity="0.143" stroke-width="1.2"/><circle cx="741.8" cy="829.8" r="5.9" fill="#000" fill-opacity="0.475" stroke="#000" stroke-opacity="0.475" stroke-width="1.2"/><circle cx="752.7" cy="915.2" r="5.9" fill="#000" fill-opacity="0.057" stroke="#000" stroke-opacity="0.057" stroke-width="1.2"/><circle cx="763.6" cy="871.4" r="5.9" fill="#000" fill-opacity="0.266" stroke="#000" stroke-opacity="0.266" stroke-width="1.2"/><circle cx="774.5" cy="801.4" r="5.9" fill="#000" fill-opacity="0.095" stroke="#000" stroke-opacity="0.095" stroke-width="1.2"/><circle cx="785.5" cy="883.5" r="5.9" fill="#000" fill-opacity="0.038" stroke="#000" stroke-opacity="0.038" stroke-width="1.2"/><circle cx="796.4" cy="764.1" r="5.9" fill="#000" fill-opacity="0.589" stroke="#000" stroke-opacity="0.589" stroke-width="1.2"/><circle cx="807.3" cy="1036.8" r="5.9" fill="#000" fill-opacity="0.237" stroke="#000" stroke-opacity="0.237" stroke-width="1.2"/><circle cx="818.2" cy="832.5" r="5.9" fill="#000" fill-opacity="0.237" stroke="#000" stroke-opacity="0.237" stroke-width="1.2"/><circle cx="829.1" cy="760.4" r="5.9" fill="#000" fill-opacity="0.589" stroke="#000" stroke-opacity="0.589" stroke-width="1.2"/><circle cx="840.0" cy="800.7" r="5.9" fill="#000" fill-opacity="0.209" stroke="#000" stroke-opacity="0.209" stroke-width="1.2"/><circle cx="850.9" cy="767.0" r="5.9" fill="#000" fill-opacity="0.380" stroke="#000" stroke-opacity="0.380" stroke-width="1.2"/><circle cx="861.9" cy="756.0" r="5.9" fill="#000" fill-opacity="0.076" stroke="#000" stroke-opacity="0.076" stroke-width="1.2"/><circle cx="872.8" cy="802.0" r="5.9" fill="#000" fill-opacity="0.551" stroke="#000" stroke-opacity="0.551" stroke-width="1.2"/><circle cx="883.7" cy="780.1" r="5.9" fill="#000" fill-opacity="0.095" stroke="#000" stroke-opacity="0.095" stroke-width="1.2"/><circle cx="894.6" cy="781.6" r="5.9" fill="#000" fill-opacity="0.190" stroke="#000" stroke-opacity="0.190" stroke-width="1.2"/><circle cx="905.5" cy="759.8" r="5.9" fill="#000" fill-opacity="0.209" stroke="#000" stroke-opacity="0.209" stroke-width="1.2"/><circle cx="927.4" cy="766.3" r="5.9" fill="#000" fill-opacity="0.427" stroke="#000" stroke-opacity="0.427" stroke-width="1.2"/><circle cx="938.3" cy="986.8" r="5.9" fill="#000" fill-opacity="0.427" stroke="#000" stroke-opacity="0.427" stroke-width="1.2"/><circle cx="949.2" cy="939.3" r="5.9" fill="#000" fill-opacity="0.143" stroke="#000" stroke-opacity="0.143" stroke-width="1.2"/><circle cx="960.1" cy="758.0" r="5.9" fill="#000" fill-opacity="0.475" stroke="#000" stroke-opacity="0.475" stroke-width="1.2"/><circle cx="971.0" cy="1040.0" r="5.9" fill="#000" fill-opacity="0.399" stroke="#000" stroke-opacity="0.399" stroke-width="1.2"/><circle cx="981.9" cy="1017.0" r="5.9" fill="#000" fill-opacity="0.209" stroke="#000" stroke-opacity="0.209" stroke-width="1.2"/><circle cx="992.9" cy="1030.8" r="5.9" fill="#000" fill-opacity="0.807" stroke="#000" stroke-opacity="0.807" stroke-width="1.2"/><circle cx="1003.8" cy="1033.9" r="5.9" fill="#000" fill-opacity="0.266" stroke="#000" stroke-opacity="0.266" stroke-width="1.2"/><circle cx="1014.7" cy="1042.2" r="5.9" fill="#000" fill-opacity="0.143" stroke="#000" stroke-opacity="0.143" stroke-width="1.2"/><circle cx="1025.6" cy="1000.6" r="5.9" fill="#000" fill-opacity="0.836" stroke="#000" stroke-opacity="0.836" stroke-width="1.2"/><circle cx="1036.5" cy="1031.3" r="5.9" fill="#000" fill-opacity="0.836" stroke="#000" stroke-opacity="0.836" stroke-width="1.2"/><circle cx="1047.4" cy="965.2" r="5.9" fill="#000" fill-opacity="0.285" stroke="#000" stroke-opacity="0.285" stroke-width="1.2"/><circle cx="1058.4" cy="1018.6" r="5.9" fill="#000" fill-opacity="0.427" stroke="#000" stroke-opacity="0.427" stroke-width="1.2"/><circle cx="1069.3" cy="940.0" r="5.9" fill="#000" fill-opacity="0.427" stroke="#000" stroke-opacity="0.427" stroke-width="1.2"/><circle cx="1080.2" cy="984.6" r="5.9" fill="#000" fill-opacity="0.475" stroke="#000" stroke-opacity="0.475" stroke-width="1.2"/><circle cx="1091.1" cy="978.7" r="5.9" fill="#000" fill-opacity="0.380" stroke="#000" stroke-opacity="0.380" stroke-width="1.2"/><circle cx="1102.0" cy="939.3" r="5.9" fill="#000" fill-opacity="0.143" stroke="#000" stroke-opacity="0.143" stroke-width="1.2"/><circle cx="1112.9" cy="954.2" r="5.9" fill="#000" fill-opacity="0.143" stroke="#000" stroke-opacity="0.143" stroke-width="1.2"/><circle cx="1123.8" cy="790.8" r="5.9" fill="#000" fill-opacity="0.190" stroke="#000" stroke-opacity="0.190" stroke-width="1.2"/><circle cx="1134.8" cy="791.9" r="5.9" fill="#000" fill-opacity="0.114" stroke="#000" stroke-opacity="0.114" stroke-width="1.2"/><circle cx="1156.6" cy="917.4" r="5.9" fill="#000" fill-opacity="0.048" stroke="#000" stroke-opacity="0.048" stroke-width="1.2"/><circle cx="1167.5" cy="818.4" r="5.9" fill="#000" fill-opacity="0.190" stroke="#000" stroke-opacity="0.190" stroke-width="1.2"/><circle cx="1178.4" cy="927.9" r="5.9" fill="#000" fill-opacity="0.123" stroke="#000" stroke-opacity="0.123" stroke-width="1.2"/><circle cx="1189.3" cy="1032.4" r="5.9" fill="#000" fill-opacity="0.048" stroke="#000" stroke-opacity="0.048" stroke-width="1.2"/><circle cx="1200.3" cy="783.4" r="5.9" fill="#000" fill-opacity="0.361" stroke="#000" stroke-opacity="0.361" stroke-width="1.2"/><circle cx="1211.2" cy="937.8" r="5.9" fill="#000" fill-opacity="0.048" stroke="#000" stroke-opacity="0.048" stroke-width="1.2"/><circle cx="1222.1" cy="757.6" r="5.9" fill="#000" fill-opacity="0.427" stroke="#000" stroke-opacity="0.427" stroke-width="1.2"/><circle cx="1233.0" cy="1041.1" r="5.9" fill="#000" fill-opacity="0.171" stroke="#000" stroke-opacity="0.171" stroke-width="1.2"/><circle cx="1243.9" cy="823.3" r="5.9" fill="#000" fill-opacity="0.427" stroke="#000" stroke-opacity="0.427" stroke-width="1.2"/><circle cx="1254.8" cy="920.7" r="5.9" fill="#000" fill-opacity="0.048" stroke="#000" stroke-opacity="0.048" stroke-width="1.2"/><circle cx="1265.8" cy="859.0" r="5.9" fill="#000" fill-opacity="0.076" stroke="#000" stroke-opacity="0.076" stroke-width="1.2"/><circle cx="1276.7" cy="942.0" r="5.9" fill="#000" fill-opacity="0.123" stroke="#000" stroke-opacity="0.123" stroke-width="1.2"/><circle cx="1298.5" cy="1009.4" r="5.9" fill="#000" fill-opacity="0.162" stroke="#000" stroke-opacity="0.162" stroke-width="1.2"/><circle cx="1320.3" cy="970.6" r="5.9" fill="#000" fill-opacity="0.066" stroke="#000" stroke-opacity="0.066" stroke-width="1.2"/><circle cx="1331.3" cy="1041.1" r="5.9" fill="#000" fill-opacity="0.066" stroke="#000" stroke-opacity="0.066" stroke-width="1.2"/><circle cx="1342.2" cy="770.0" r="5.9" fill="#000" fill-opacity="0.123" stroke="#000" stroke-opacity="0.123" stroke-width="1.2"/><circle cx="1353.1" cy="934.9" r="5.9" fill="#000" fill-opacity="0.162" stroke="#000" stroke-opacity="0.162" stroke-width="1.2"/><circle cx="1364.0" cy="1041.6" r="5.9" fill="#000" fill-opacity="0.855" stroke="#000" stroke-opacity="0.855" stroke-width="1.2"/><circle cx="1374.9" cy="927.3" r="5.9" fill="#000" fill-opacity="0.048" stroke="#000" stroke-opacity="0.048" stroke-width="1.2"/><circle cx="1385.8" cy="1028.4" r="5.9" fill="#000" fill-opacity="0.237" stroke="#000" stroke-opacity="0.237" stroke-width="1.2"/><circle cx="1396.7" cy="1030.8" r="5.9" fill="#000" fill-opacity="0.209" stroke="#000" stroke-opacity="0.209" stroke-width="1.2"/><circle cx="1407.7" cy="1001.7" r="5.9" fill="#000" fill-opacity="0.038" stroke="#000" stroke-opacity="0.038" stroke-width="1.2"/><circle cx="1418.6" cy="840.3" r="5.9" fill="#000" fill-opacity="0.162" stroke="#000" stroke-opacity="0.162" stroke-width="1.2"/><circle cx="1429.5" cy="857.9" r="5.9" fill="#000" fill-opacity="0.114" stroke="#000" stroke-opacity="0.114" stroke-width="1.2"/><circle cx="1440.4" cy="1041.1" r="5.9" fill="#000" fill-opacity="0.048" stroke="#000" stroke-opacity="0.048" stroke-width="1.2"/><circle cx="1451.3" cy="870.3" r="5.9" fill="#000" fill-opacity="0.076" stroke="#000" stroke-opacity="0.076" stroke-width="1.2"/><circle cx="1462.2" cy="765.2" r="5.9" fill="#000" fill-opacity="0.048" stroke="#000" stroke-opacity="0.048" stroke-width="1.2"/><circle cx="1473.2" cy="820.6" r="5.9" fill="#000" fill-opacity="0.143" stroke="#000" stroke-opacity="0.143" stroke-width="1.2"/><circle cx="1484.1" cy="948.7" r="5.9" fill="#000" fill-opacity="0.114" stroke="#000" stroke-opacity="0.114" stroke-width="1.2"/><circle cx="1495.0" cy="805.3" r="5.9" fill="#000" fill-opacity="0.048" stroke="#000" stroke-opacity="0.048" stroke-width="1.2"/><circle cx="1505.9" cy="867.0" r="5.9" fill="#000" fill-opacity="0.162" stroke="#000" stroke-opacity="0.162" stroke-width="1.2"/><circle cx="1516.8" cy="819.5" r="5.9" fill="#000" fill-opacity="0.076" stroke="#000" stroke-opacity="0.076" stroke-width="1.2"/><circle cx="1527.7" cy="989.7" r="5.9" fill="#000" fill-opacity="0.162" stroke="#000" stroke-opacity="0.162" stroke-width="1.2"/><circle cx="1538.7" cy="800.7" r="5.9" fill="#000" fill-opacity="0.237" stroke="#000" stroke-opacity="0.237" stroke-width="1.2"/><circle cx="1549.6" cy="777.9" r="5.9" fill="#000" fill-opacity="0.266" stroke="#000" stroke-opacity="0.266" stroke-width="1.2"/><circle cx="1560.5" cy="1027.6" r="5.9" fill="#000" fill-opacity="0.048" stroke="#000" stroke-opacity="0.048" stroke-width="1.2"/><circle cx="1571.4" cy="1002.4" r="5.9" fill="#000" fill-opacity="0.190" stroke="#000" stroke-opacity="0.190" stroke-width="1.2"/><circle cx="1582.3" cy="768.5" r="5.9" fill="#000" fill-opacity="0.617" stroke="#000" stroke-opacity="0.617" stroke-width="1.2"/><circle cx="1593.2" cy="858.9" r="5.9" fill="#000" fill-opacity="0.380" stroke="#000" stroke-opacity="0.380" stroke-width="1.2"/><circle cx="1615.1" cy="1032.4" r="5.9" fill="#000" fill-opacity="0.570" stroke="#000" stroke-opacity="0.570" stroke-width="1.2"/><circle cx="1626.0" cy="1033.5" r="5.9" fill="#000" fill-opacity="0.095" stroke="#000" stroke-opacity="0.095" stroke-width="1.2"/><circle cx="1636.9" cy="759.1" r="5.9" fill="#000" fill-opacity="0.266" stroke="#000" stroke-opacity="0.266" stroke-width="1.2"/><circle cx="1658.7" cy="1002.8" r="5.9" fill="#000" fill-opacity="0.475" stroke="#000" stroke-opacity="0.475" stroke-width="1.2"/><circle cx="1691.5" cy="939.8" r="5.9" fill="#000" fill-opacity="0.190" stroke="#000" stroke-opacity="0.190" stroke-width="1.2"/><circle cx="1702.4" cy="793.7" r="5.9" fill="#000" fill-opacity="0.048" stroke="#000" stroke-opacity="0.048" stroke-width="1.2"/><circle cx="1713.3" cy="1024.0" r="5.9" fill="#000" fill-opacity="0.114" stroke="#000" stroke-opacity="0.114" stroke-width="1.2"/><circle cx="1724.2" cy="925.1" r="5.9" fill="#000" fill-opacity="0.143" stroke="#000" stroke-opacity="0.143" stroke-width="1.2"/><circle cx="1735.1" cy="797.0" r="5.9" fill="#000" fill-opacity="0.048" stroke="#000" stroke-opacity="0.048" stroke-width="1.2"/><circle cx="1746.1" cy="974.8" r="5.9" fill="#000" fill-opacity="0.038" stroke="#000" stroke-opacity="0.038" stroke-width="1.2"/><circle cx="1767.9" cy="880.6" r="5.9" fill="#000" fill-opacity="0.123" stroke="#000" stroke-opacity="0.123" stroke-width="1.2"/><circle cx="1778.8" cy="982.5" r="5.9" fill="#000" fill-opacity="0.522" stroke="#000" stroke-opacity="0.522" stroke-width="1.2"/><circle cx="1800.6" cy="801.8" r="5.9" fill="#000" fill-opacity="0.114" stroke="#000" stroke-opacity="0.114" stroke-width="1.2"/><circle cx="1811.6" cy="857.9" r="5.9" fill="#000" fill-opacity="0.123" stroke="#000" stroke-opacity="0.123" stroke-width="1.2"/><circle cx="1822.5" cy="781.6" r="5.9" fill="#000" fill-opacity="0.266" stroke="#000" stroke-opacity="0.266" stroke-width="1.2"/><circle cx="1833.4" cy="786.0" r="5.9" fill="#000" fill-opacity="0.551" stroke="#000" stroke-opacity="0.551" stroke-width="1.2"/><circle cx="1844.3" cy="944.3" r="5.9" fill="#000" fill-opacity="0.123" stroke="#000" stroke-opacity="0.123" stroke-width="1.2"/><circle cx="1877.1" cy="872.1" r="5.9" fill="#000" fill-opacity="0.190" stroke="#000" stroke-opacity="0.190" stroke-width="1.2"/><circle cx="1888.0" cy="759.3" r="5.9" fill="#000" fill-opacity="0.237" stroke="#000" stroke-opacity="0.237" stroke-width="1.2"/><circle cx="1898.9" cy="885.7" r="5.9" fill="#000" fill-opacity="0.048" stroke="#000" stroke-opacity="0.048" stroke-width="1.2"/><circle cx="1909.8" cy="774.0" r="5.9" fill="#000" fill-opacity="0.760" stroke="#000" stroke-opacity="0.760" stroke-width="1.2"/><circle cx="1920.7" cy="779.5" r="5.9" fill="#000" fill-opacity="0.760" stroke="#000" stroke-opacity="0.760" stroke-width="1.2"/><circle cx="1931.6" cy="757.1" r="5.9" fill="#000" fill-opacity="0.760" stroke="#000" stroke-opacity="0.760" stroke-width="1.2"/><circle cx="1942.5" cy="810.8" r="5.9" fill="#000" fill-opacity="0.551" stroke="#000" stroke-opacity="0.551" stroke-width="1.2"/><circle cx="1953.5" cy="788.7" r="5.9" fill="#000" fill-opacity="0.665" stroke="#000" stroke-opacity="0.665" stroke-width="1.2"/><circle cx="1964.4" cy="879.5" r="5.9" fill="#000" fill-opacity="0.066" stroke="#000" stroke-opacity="0.066" stroke-width="1.2"/><circle cx="1975.3" cy="774.0" r="5.9" fill="#000" fill-opacity="0.095" stroke="#000" stroke-opacity="0.095" stroke-width="1.2"/><circle cx="1986.2" cy="823.9" r="5.9" fill="#000" fill-opacity="0.266" stroke="#000" stroke-opacity="0.266" stroke-width="1.2"/><circle cx="1997.1" cy="796.5" r="5.9" fill="#000" fill-opacity="0.143" stroke="#000" stroke-opacity="0.143" stroke-width="1.2"/><circle cx="2008.0" cy="782.7" r="5.9" fill="#000" fill-opacity="0.143" stroke="#000" stroke-opacity="0.143" stroke-width="1.2"/><circle cx="2019.0" cy="805.7" r="5.9" fill="#000" fill-opacity="0.361" stroke="#000" stroke-opacity="0.361" stroke-width="1.2"/><circle cx="2029.9" cy="815.6" r="5.9" fill="#000" fill-opacity="0.114" stroke="#000" stroke-opacity="0.114" stroke-width="1.2"/></g><g clip-path="url(#cp3)"><line x1="190.25" y1="1257.0" x2="2111.85" y2="1257.0" stroke="#787878" stroke-width="2.4" stroke-dasharray="2.4 5.0635" stroke-dashoffset="-1.950"/><path d="M272.4 1106.6V1205.5M268.6 1106.6h7.6M268.6 1205.5h7.6M283.3 1250.5V1257.0M279.5 1250.5h7.6M279.5 1257.0h7.6M305.1 1313.9V1360.4M301.3 1313.9h7.6M301.3 1360.4h7.6M316.1 1269.7V1285.0M312.3 1269.7h7.6M312.3 1285.0h7.6M327.0 1283.7V1350.0M323.2 1283.7h7.6M323.2 1350.0h7.6M348.8 1105.9V1257.0M345.0 1105.9h7.6M345.0 1257.0h7.6M359.7 1350.7V1379.0M355.9 1350.7h7.6M355.9 1379.0h7.6M370.6 1295.3V1406.3M366.8 1295.3h7.6M366.8 1406.3h7.6M381.6 1255.5V1343.9M377.8 1255.5h7.6M377.8 1343.9h7.6M392.5 1256.6V1285.5M388.7 1256.6h7.6M388.7 1285.5h7.6M403.4 1268.0V1329.3M399.6 1268.0h7.6M399.6 1329.3h7.6M414.3 1135.0V1264.0M410.5 1135.0h7.6M410.5 1264.0h7.6M425.2 1354.9V1373.0M421.4 1354.9h7.6M421.4 1373.0h7.6M436.1 1254.0V1260.5M432.3 1254.0h7.6M432.3 1260.5h7.6M447.1 1339.1V1364.3M443.3 1339.1h7.6M443.3 1364.3h7.6M458.0 1305.6V1406.3M454.2 1305.6h7.6M454.2 1406.3h7.6M468.9 1323.8V1370.2M465.1 1323.8h7.6M465.1 1370.2h7.6M479.8 1176.4V1208.4M476.0 1176.4h7.6M476.0 1208.4h7.6M490.7 1157.4V1206.2M486.9 1157.4h7.6M486.9 1206.2h7.6M501.6 1331.9V1374.8M497.8 1331.9h7.6M497.8 1374.8h7.6M512.6 1151.2V1177.7M508.8 1151.2h7.6M508.8 1177.7h7.6M523.5 1134.4V1244.3M519.7 1134.4h7.6M519.7 1244.3h7.6M534.4 1178.2V1218.7M530.6 1178.2h7.6M530.6 1218.7h7.6M545.3 1184.3V1230.7M541.5 1184.3h7.6M541.5 1230.7h7.6M556.2 1060.0V1460.0M552.4 1060.0h7.6M552.4 1460.0h7.6M567.1 1168.3V1235.1M563.3 1168.3h7.6M563.3 1235.1h7.6M578.0 1207.3V1247.1M574.2 1207.3h7.6M574.2 1247.1h7.6M589.0 1224.8V1245.4M585.2 1224.8h7.6M585.2 1245.4h7.6M599.9 1245.5V1253.5M596.1 1245.5h7.6M596.1 1253.5h7.6M610.8 1204.9V1233.6M607.0 1204.9h7.6M607.0 1233.6h7.6M621.7 1360.4V1379.6M617.9 1360.4h7.6M617.9 1379.6h7.6M632.6 1254.0V1261.0M628.8 1254.0h7.6M628.8 1261.0h7.6M643.5 1146.4V1234.7M639.7 1146.4h7.6M639.7 1234.7h7.6M665.4 1339.8V1376.8M661.6 1339.8h7.6M661.6 1376.8h7.6M676.3 1269.5V1290.3M672.5 1269.5h7.6M672.5 1290.3h7.6M687.2 1289.4V1353.8M683.4 1289.4h7.6M683.4 1353.8h7.6M698.1 1293.8V1329.3M694.3 1293.8h7.6M694.3 1329.3h7.6M709.0 1305.6V1365.8M705.2 1305.6h7.6M705.2 1365.8h7.6M720.0 1139.8V1153.6M716.2 1139.8h7.6M716.2 1153.6h7.6M730.9 1133.9V1181.0M727.1 1133.9h7.6M727.1 1181.0h7.6M741.8 1140.5V1157.8M738.0 1140.5h7.6M738.0 1157.8h7.6M752.7 1376.5V1382.5M748.9 1376.5h7.6M748.9 1382.5h7.6M763.6 1133.5V1139.5M759.8 1133.5h7.6M759.8 1139.5h7.6M774.5 1186.9V1263.6M770.7 1186.9h7.6M770.7 1263.6h7.6M785.5 1128.5V1135.0M781.7 1128.5h7.6M781.7 1135.0h7.6M796.4 1188.0V1222.0M792.6 1188.0h7.6M792.6 1222.0h7.6M807.3 1305.2V1358.4M803.5 1305.2h7.6M803.5 1358.4h7.6M818.2 1137.6V1158.0M814.4 1137.6h7.6M814.4 1158.0h7.6M829.1 1166.1V1200.1M825.3 1166.1h7.6M825.3 1200.1h7.6M840.0 1204.9V1245.0M836.2 1204.9h7.6M836.2 1245.0h7.6M850.9 1183.6V1231.2M847.1 1183.6h7.6M847.1 1231.2h7.6M861.9 1135.0V1247.1M858.1 1135.0h7.6M858.1 1247.1h7.6M872.8 1148.2V1169.4M869.0 1148.2h7.6M869.0 1169.4h7.6M883.7 1177.1V1255.9M879.9 1177.1h7.6M879.9 1255.9h7.6M894.6 1190.9V1241.7M890.8 1190.9h7.6M890.8 1241.7h7.6M905.5 1167.9V1233.6M901.7 1167.9h7.6M901.7 1233.6h7.6M927.4 1185.8V1227.4M923.6 1185.8h7.6M923.6 1227.4h7.6M938.3 1348.5V1366.9M934.5 1348.5h7.6M934.5 1366.9h7.6M949.2 1262.5V1270.1M945.4 1262.5h7.6M945.4 1270.1h7.6M960.1 1177.5V1216.0M956.3 1177.5h7.6M956.3 1216.0h7.6M971.0 1308.0V1347.4M967.2 1308.0h7.6M967.2 1347.4h7.6M981.9 1275.2V1316.6M978.1 1275.2h7.6M978.1 1316.6h7.6M992.9 1324.4V1350.7M989.1 1324.4h7.6M989.1 1350.7h7.6M1003.8 1312.8V1354.4M1000.0 1312.8h7.6M1000.0 1354.4h7.6M1014.7 1291.4V1354.4M1010.9 1291.4h7.6M1010.9 1354.4h7.6M1025.6 1342.8V1362.1M1021.8 1342.8h7.6M1021.8 1362.1h7.6M1036.5 1323.8V1349.4M1032.7 1323.8h7.6M1032.7 1349.4h7.6M1047.4 1357.3V1373.0M1043.6 1357.3h7.6M1043.6 1373.0h7.6M1058.4 1328.2V1361.0M1054.6 1328.2h7.6M1054.6 1361.0h7.6M1069.3 1369.5V1375.5M1065.5 1369.5h7.6M1065.5 1375.5h7.6M1080.2 1350.0V1367.1M1076.4 1350.0h7.6M1076.4 1367.1h7.6M1091.1 1351.2V1369.8M1087.3 1351.2h7.6M1087.3 1369.8h7.6M1102.0 1369.5V1375.5M1098.2 1369.5h7.6M1098.2 1375.5h7.6M1112.9 1359.5V1377.4M1109.1 1359.5h7.6M1109.1 1377.4h7.6M1123.8 1139.8V1186.9M1120.0 1139.8h7.6M1120.0 1186.9h7.6M1134.8 1133.9V1191.3M1131.0 1133.9h7.6M1131.0 1191.3h7.6M1145.7 1125.0V1132.0M1141.9 1125.0h7.6M1141.9 1132.0h7.6M1156.6 1376.5V1382.5M1152.8 1376.5h7.6M1152.8 1382.5h7.6M1167.5 1138.7V1166.8M1163.7 1138.7h7.6M1163.7 1166.8h7.6M1178.4 1261.5V1268.0M1174.6 1261.5h7.6M1174.6 1268.0h7.6M1189.3 1218.7V1392.1M1185.5 1218.7h7.6M1185.5 1392.1h7.6M1200.3 1146.8V1186.9M1196.5 1146.8h7.6M1196.5 1186.9h7.6M1211.2 1252.0V1282.6M1207.4 1252.0h7.6M1207.4 1282.6h7.6M1222.1 1166.1V1212.1M1218.3 1166.1h7.6M1218.3 1212.1h7.6M1233.0 1273.4V1358.4M1229.2 1273.4h7.6M1229.2 1358.4h7.6M1243.9 1222.0V1243.9M1240.1 1222.0h7.6M1240.1 1243.9h7.6M1254.8 1257.0V1267.5M1251.0 1257.0h7.6M1251.0 1267.5h7.6M1265.8 1235.1V1253.7M1262.0 1235.1h7.6M1262.0 1253.7h7.6M1276.7 1365.0V1379.6M1272.9 1365.0h7.6M1272.9 1379.6h7.6M1298.5 1315.7V1381.4M1294.7 1315.7h7.6M1294.7 1381.4h7.6M1309.4 1125.0V1136.6M1305.6 1125.0h7.6M1305.6 1136.6h7.6M1320.3 1245.0V1310.0M1316.5 1245.0h7.6M1316.5 1310.0h7.6M1331.3 1250.9V1378.5M1327.5 1250.9h7.6M1327.5 1378.5h7.6M1342.2 1127.8V1221.3M1338.4 1127.8h7.6M1338.4 1221.3h7.6M1353.1 1369.8V1379.0M1349.3 1369.8h7.6M1349.3 1379.0h7.6M1364.0 1310.6V1339.1M1360.2 1310.6h7.6M1360.2 1339.1h7.6M1374.9 1368.7V1384.4M1371.1 1368.7h7.6M1371.1 1384.4h7.6M1385.8 1312.4V1364.9M1382.0 1312.4h7.6M1382.0 1364.9h7.6M1396.7 1308.5V1364.9M1392.9 1308.5h7.6M1392.9 1364.9h7.6M1407.7 1254.4V1460.0M1403.9 1254.4h7.6M1403.9 1460.0h7.6M1418.6 1134.8V1155.8M1414.8 1134.8h7.6M1414.8 1155.8h7.6M1429.5 1131.7V1148.6M1425.7 1131.7h7.6M1425.7 1148.6h7.6M1440.4 1219.8V1413.6M1436.6 1219.8h7.6M1436.6 1413.6h7.6M1451.3 1244.0V1252.6M1447.5 1244.0h7.6M1447.5 1252.6h7.6M1462.2 1060.0V1297.5M1458.4 1060.0h7.6M1458.4 1297.5h7.6M1473.2 1132.2V1171.6M1469.4 1132.2h7.6M1469.4 1171.6h7.6M1484.1 1359.9V1380.7M1480.3 1359.9h7.6M1480.3 1380.7h7.6M1495.0 1060.0V1231.8M1491.2 1060.0h7.6M1491.2 1231.8h7.6M1505.9 1133.0V1141.5M1502.1 1133.0h7.6M1502.1 1141.5h7.6M1516.8 1115.1V1189.8M1513.0 1115.1h7.6M1513.0 1189.8h7.6M1527.7 1262.9V1305.6M1523.9 1262.9h7.6M1523.9 1305.6h7.6M1538.7 1205.1V1244.3M1534.9 1205.1h7.6M1534.9 1244.3h7.6M1549.6 1189.8V1239.0M1545.8 1189.8h7.6M1545.8 1239.0h7.6M1560.5 1183.6V1420.1M1556.7 1183.6h7.6M1556.7 1420.1h7.6M1571.4 1267.5V1310.6M1567.6 1267.5h7.6M1567.6 1310.6h7.6M1582.3 1159.5V1191.7M1578.5 1159.5h7.6M1578.5 1191.7h7.6M1593.2 1240.0V1249.0M1589.4 1240.0h7.6M1589.4 1249.0h7.6M1615.1 1317.2V1353.8M1611.3 1317.2h7.6M1611.3 1353.8h7.6M1626.0 1284.4V1384.0M1622.2 1284.4h7.6M1622.2 1384.0h7.6M1636.9 1155.2V1216.0M1633.1 1155.2h7.6M1633.1 1216.0h7.6M1658.7 1278.5V1302.5M1654.9 1278.5h7.6M1654.9 1302.5h7.6M1669.6 1210.4V1290.9M1665.8 1210.4h7.6M1665.8 1290.9h7.6M1691.5 1370.0V1376.0M1687.7 1370.0h7.6M1687.7 1376.0h7.6M1702.4 1097.6V1227.0M1698.6 1097.6h7.6M1698.6 1227.0h7.6M1713.3 1293.8V1387.9M1709.5 1293.8h7.6M1709.5 1387.9h7.6M1724.2 1260.0V1266.5M1720.4 1260.0h7.6M1720.4 1266.5h7.6M1735.1 1124.5V1321.6M1731.3 1124.5h7.6M1731.3 1321.6h7.6M1746.1 1222.4V1335.8M1742.3 1222.4h7.6M1742.3 1335.8h7.6M1767.9 1130.0V1136.5M1764.1 1130.0h7.6M1764.1 1136.5h7.6M1778.8 1350.0V1368.7M1775.0 1350.0h7.6M1775.0 1368.7h7.6M1800.6 1124.1V1193.5M1796.8 1124.1h7.6M1796.8 1193.5h7.6M1811.6 1132.2V1148.0M1807.8 1132.2h7.6M1807.8 1148.0h7.6M1822.5 1146.8V1188.7M1818.7 1146.8h7.6M1818.7 1188.7h7.6M1833.4 1153.0V1178.6M1829.6 1153.0h7.6M1829.6 1178.6h7.6M1844.3 1361.0V1381.8M1840.5 1361.0h7.6M1840.5 1381.8h7.6M1877.1 1132.5V1139.0M1873.3 1132.5h7.6M1873.3 1139.0h7.6M1888.0 1158.5V1212.5M1884.2 1158.5h7.6M1884.2 1212.5h7.6M1898.9 1128.0V1135.0M1895.1 1128.0h7.6M1895.1 1135.0h7.6M1909.8 1158.9V1184.7M1906.0 1158.9h7.6M1906.0 1184.7h7.6M1920.7 1157.4V1180.3M1916.9 1157.4h7.6M1916.9 1180.3h7.6M1931.6 1178.2V1209.9M1927.8 1178.2h7.6M1927.8 1209.9h7.6M1942.5 1146.8V1164.6M1938.7 1146.8h7.6M1938.7 1164.6h7.6M1953.5 1153.0V1176.0M1949.7 1153.0h7.6M1949.7 1176.0h7.6M1964.4 1130.5V1137.0M1960.6 1130.5h7.6M1960.6 1137.0h7.6M1975.3 1128.5V1215.8M1971.5 1128.5h7.6M1971.5 1215.8h7.6M1986.2 1223.0V1244.5M1982.4 1223.0h7.6M1982.4 1244.5h7.6M1997.1 1137.6V1184.3M1993.3 1137.6h7.6M1993.3 1184.3h7.6M2008.0 1185.1V1249.2M2004.2 1185.1h7.6M2004.2 1249.2h7.6M2019.0 1140.4V1174.7M2015.2 1140.4h7.6M2015.2 1174.7h7.6M2029.9 1205.8V1254.9M2026.1 1205.8h7.6M2026.1 1254.9h7.6" fill="none" stroke="#7d7d7d" stroke-width="1.2"/><path d="M272.4 1150.7l5.6 5.6l-5.6 5.6l-5.6 -5.6zM283.3 1248.1l5.6 5.6l-5.6 5.6l-5.6 -5.6zM305.1 1331.8l5.6 5.6l-5.6 5.6l-5.6 -5.6zM316.1 1271.8l5.6 5.6l-5.6 5.6l-5.6 -5.6zM327.0 1311.0l5.6 5.6l-5.6 5.6l-5.6 -5.6zM348.8 1175.8l5.6 5.6l-5.6 5.6l-5.6 -5.6zM359.7 1359.1l5.6 5.6l-5.6 5.6l-5.6 -5.6zM370.6 1343.8l5.6 5.6l-5.6 5.6l-5.6 -5.6zM381.6 1294.9l5.6 5.6l-5.6 5.6l-5.6 -5.6zM392.5 1265.6l5.6 5.6l-5.6 5.6l-5.6 -5.6zM403.4 1293.0l5.6 5.6l-5.6 5.6l-5.6 -5.6zM414.3 1193.8l5.6 5.6l-5.6 5.6l-5.6 -5.6zM425.2 1358.2l5.6 5.6l-5.6 5.6l-5.6 -5.6zM436.1 1251.8l5.6 5.6l-5.6 5.6l-5.6 -5.6zM447.1 1346.0l5.6 5.6l-5.6 5.6l-5.6 -5.6zM458.0 1350.4l5.6 5.6l-5.6 5.6l-5.6 -5.6zM468.9 1341.6l5.6 5.6l-5.6 5.6l-5.6 -5.6zM479.8 1186.8l5.6 5.6l-5.6 5.6l-5.6 -5.6zM490.7 1175.8l5.6 5.6l-5.6 5.6l-5.6 -5.6zM501.6 1347.3l5.6 5.6l-5.6 5.6l-5.6 -5.6zM512.6 1158.3l5.6 5.6l-5.6 5.6l-5.6 -5.6zM523.5 1183.5l5.6 5.6l-5.6 5.6l-5.6 -5.6zM534.4 1192.7l5.6 5.6l-5.6 5.6l-5.6 -5.6zM545.3 1201.7l5.6 5.6l-5.6 5.6l-5.6 -5.6zM556.2 1299.1l5.6 5.6l-5.6 5.6l-5.6 -5.6zM567.1 1196.2l5.6 5.6l-5.6 5.6l-5.6 -5.6zM578.0 1221.4l5.6 5.6l-5.6 5.6l-5.6 -5.6zM589.0 1229.5l5.6 5.6l-5.6 5.6l-5.6 -5.6zM599.9 1243.7l5.6 5.6l-5.6 5.6l-5.6 -5.6zM610.8 1213.5l5.6 5.6l-5.6 5.6l-5.6 -5.6zM621.7 1364.2l5.6 5.6l-5.6 5.6l-5.6 -5.6zM632.6 1251.8l5.6 5.6l-5.6 5.6l-5.6 -5.6zM643.5 1185.0l5.6 5.6l-5.6 5.6l-5.6 -5.6zM665.4 1352.8l5.6 5.6l-5.6 5.6l-5.6 -5.6zM676.3 1273.9l5.6 5.6l-5.6 5.6l-5.6 -5.6zM687.2 1316.0l5.6 5.6l-5.6 5.6l-5.6 -5.6zM698.1 1306.1l5.6 5.6l-5.6 5.6l-5.6 -5.6zM709.0 1329.8l5.6 5.6l-5.6 5.6l-5.6 -5.6zM720.0 1140.8l5.6 5.6l-5.6 5.6l-5.6 -5.6zM730.9 1151.8l5.6 5.6l-5.6 5.6l-5.6 -5.6zM741.8 1143.0l5.6 5.6l-5.6 5.6l-5.6 -5.6zM752.7 1374.0l5.6 5.6l-5.6 5.6l-5.6 -5.6zM763.6 1131.0l5.6 5.6l-5.6 5.6l-5.6 -5.6zM774.5 1219.6l5.6 5.6l-5.6 5.6l-5.6 -5.6zM785.5 1126.1l5.6 5.6l-5.6 5.6l-5.6 -5.6zM796.4 1199.3l5.6 5.6l-5.6 5.6l-5.6 -5.6zM807.3 1325.8l5.6 5.6l-5.6 5.6l-5.6 -5.6zM818.2 1142.4l5.6 5.6l-5.6 5.6l-5.6 -5.6zM829.1 1178.0l5.6 5.6l-5.6 5.6l-5.6 -5.6zM840.0 1219.2l5.6 5.6l-5.6 5.6l-5.6 -5.6zM850.9 1201.7l5.6 5.6l-5.6 5.6l-5.6 -5.6zM861.9 1185.7l5.6 5.6l-5.6 5.6l-5.6 -5.6zM872.8 1153.3l5.6 5.6l-5.6 5.6l-5.6 -5.6zM883.7 1210.9l5.6 5.6l-5.6 5.6l-5.6 -5.6zM894.6 1210.9l5.6 5.6l-5.6 5.6l-5.6 -5.6zM905.5 1194.9l5.6 5.6l-5.6 5.6l-5.6 -5.6zM927.4 1201.0l5.6 5.6l-5.6 5.6l-5.6 -5.6zM938.3 1352.1l5.6 5.6l-5.6 5.6l-5.6 -5.6zM949.2 1261.2l5.6 5.6l-5.6 5.6l-5.6 -5.6zM960.1 1191.2l5.6 5.6l-5.6 5.6l-5.6 -5.6zM971.0 1321.9l5.6 5.6l-5.6 5.6l-5.6 -5.6zM981.9 1289.7l5.6 5.6l-5.6 5.6l-5.6 -5.6zM992.9 1331.8l5.6 5.6l-5.6 5.6l-5.6 -5.6zM1003.8 1328.0l5.6 5.6l-5.6 5.6l-5.6 -5.6zM1014.7 1315.6l5.6 5.6l-5.6 5.6l-5.6 -5.6zM1025.6 1346.6l5.6 5.6l-5.6 5.6l-5.6 -5.6zM1036.5 1329.1l5.6 5.6l-5.6 5.6l-5.6 -5.6zM1047.4 1359.1l5.6 5.6l-5.6 5.6l-5.6 -5.6zM1058.4 1338.5l5.6 5.6l-5.6 5.6l-5.6 -5.6zM1069.3 1367.0l5.6 5.6l-5.6 5.6l-5.6 -5.6zM1080.2 1352.6l5.6 5.6l-5.6 5.6l-5.6 -5.6zM1091.1 1354.7l5.6 5.6l-5.6 5.6l-5.6 -5.6zM1102.0 1367.0l5.6 5.6l-5.6 5.6l-5.6 -5.6zM1112.9 1363.1l5.6 5.6l-5.6 5.6l-5.6 -5.6zM1123.8 1157.7l5.6 5.6l-5.6 5.6l-5.6 -5.6zM1134.8 1156.1l5.6 5.6l-5.6 5.6l-5.6 -5.6zM1145.7 1122.9l5.6 5.6l-5.6 5.6l-5.6 -5.6zM1156.6 1374.0l5.6 5.6l-5.6 5.6l-5.6 -5.6zM1167.5 1146.9l5.6 5.6l-5.6 5.6l-5.6 -5.6zM1178.4 1259.1l5.6 5.6l-5.6 5.6l-5.6 -5.6zM1189.3 1299.6l5.6 5.6l-5.6 5.6l-5.6 -5.6zM1200.3 1161.6l5.6 5.6l-5.6 5.6l-5.6 -5.6zM1211.2 1261.7l5.6 5.6l-5.6 5.6l-5.6 -5.6zM1222.1 1183.5l5.6 5.6l-5.6 5.6l-5.6 -5.6zM1233.0 1309.9l5.6 5.6l-5.6 5.6l-5.6 -5.6zM1243.9 1227.3l5.6 5.6l-5.6 5.6l-5.6 -5.6zM1254.8 1256.2l5.6 5.6l-5.6 5.6l-5.6 -5.6zM1265.8 1238.9l5.6 5.6l-5.6 5.6l-5.6 -5.6zM1276.7 1366.4l5.6 5.6l-5.6 5.6l-5.6 -5.6zM1298.5 1342.9l5.6 5.6l-5.6 5.6l-5.6 -5.6zM1309.4 1125.0l5.6 5.6l-5.6 5.6l-5.6 -5.6zM1320.3 1271.8l5.6 5.6l-5.6 5.6l-5.6 -5.6zM1331.3 1309.0l5.6 5.6l-5.6 5.6l-5.6 -5.6zM1342.2 1168.8l5.6 5.6l-5.6 5.6l-5.6 -5.6zM1353.1 1368.5l5.6 5.6l-5.6 5.6l-5.6 -5.6zM1364.0 1319.9l5.6 5.6l-5.6 5.6l-5.6 -5.6zM1374.9 1370.7l5.6 5.6l-5.6 5.6l-5.6 -5.6zM1385.8 1333.5l5.6 5.6l-5.6 5.6l-5.6 -5.6zM1396.7 1331.3l5.6 5.6l-5.6 5.6l-5.6 -5.6zM1407.7 1346.0l5.6 5.6l-5.6 5.6l-5.6 -5.6zM1418.6 1140.2l5.6 5.6l-5.6 5.6l-5.6 -5.6zM1429.5 1134.7l5.6 5.6l-5.6 5.6l-5.6 -5.6zM1440.4 1311.6l5.6 5.6l-5.6 5.6l-5.6 -5.6zM1451.3 1242.2l5.6 5.6l-5.6 5.6l-5.6 -5.6zM1462.2 1173.0l5.6 5.6l-5.6 5.6l-5.6 -5.6zM1473.2 1146.7l5.6 5.6l-5.6 5.6l-5.6 -5.6zM1484.1 1364.6l5.6 5.6l-5.6 5.6l-5.6 -5.6zM1495.0 1151.8l5.6 5.6l-5.6 5.6l-5.6 -5.6zM1505.9 1131.6l5.6 5.6l-5.6 5.6l-5.6 -5.6zM1516.8 1146.9l5.6 5.6l-5.6 5.6l-5.6 -5.6zM1527.7 1278.3l5.6 5.6l-5.6 5.6l-5.6 -5.6zM1538.7 1219.2l5.6 5.6l-5.6 5.6l-5.6 -5.6zM1549.6 1208.7l5.6 5.6l-5.6 5.6l-5.6 -5.6zM1560.5 1296.3l5.6 5.6l-5.6 5.6l-5.6 -5.6zM1571.4 1283.6l5.6 5.6l-5.6 5.6l-5.6 -5.6zM1582.3 1169.9l5.6 5.6l-5.6 5.6l-5.6 -5.6zM1593.2 1238.7l5.6 5.6l-5.6 5.6l-5.6 -5.6zM1615.1 1329.8l5.6 5.6l-5.6 5.6l-5.6 -5.6zM1626.0 1329.1l5.6 5.6l-5.6 5.6l-5.6 -5.6zM1636.9 1179.8l5.6 5.6l-5.6 5.6l-5.6 -5.6zM1658.7 1283.8l5.6 5.6l-5.6 5.6l-5.6 -5.6zM1669.6 1244.8l5.6 5.6l-5.6 5.6l-5.6 -5.6zM1691.5 1367.4l5.6 5.6l-5.6 5.6l-5.6 -5.6zM1702.4 1156.6l5.6 5.6l-5.6 5.6l-5.6 -5.6zM1713.3 1335.3l5.6 5.6l-5.6 5.6l-5.6 -5.6zM1724.2 1257.5l5.6 5.6l-5.6 5.6l-5.6 -5.6zM1735.1 1217.9l5.6 5.6l-5.6 5.6l-5.6 -5.6zM1746.1 1273.3l5.6 5.6l-5.6 5.6l-5.6 -5.6zM1767.9 1127.7l5.6 5.6l-5.6 5.6l-5.6 -5.6zM1778.8 1353.9l5.6 5.6l-5.6 5.6l-5.6 -5.6zM1800.6 1153.3l5.6 5.6l-5.6 5.6l-5.6 -5.6zM1811.6 1134.2l5.6 5.6l-5.6 5.6l-5.6 -5.6zM1822.5 1162.3l5.6 5.6l-5.6 5.6l-5.6 -5.6zM1833.4 1159.9l5.6 5.6l-5.6 5.6l-5.6 -5.6zM1844.3 1365.7l5.6 5.6l-5.6 5.6l-5.6 -5.6zM1877.1 1130.3l5.6 5.6l-5.6 5.6l-5.6 -5.6zM1888.0 1179.8l5.6 5.6l-5.6 5.6l-5.6 -5.6zM1898.9 1125.9l5.6 5.6l-5.6 5.6l-5.6 -5.6zM1909.8 1166.0l5.6 5.6l-5.6 5.6l-5.6 -5.6zM1920.7 1163.4l5.6 5.6l-5.6 5.6l-5.6 -5.6zM1931.6 1187.9l5.6 5.6l-5.6 5.6l-5.6 -5.6zM1942.5 1150.0l5.6 5.6l-5.6 5.6l-5.6 -5.6zM1953.5 1158.8l5.6 5.6l-5.6 5.6l-5.6 -5.6zM1964.4 1128.1l5.6 5.6l-5.6 5.6l-5.6 -5.6zM1975.3 1166.4l5.6 5.6l-5.6 5.6l-5.6 -5.6zM1986.2 1228.4l5.6 5.6l-5.6 5.6l-5.6 -5.6zM1997.1 1155.5l5.6 5.6l-5.6 5.6l-5.6 -5.6zM2008.0 1211.2l5.6 5.6l-5.6 5.6l-5.6 -5.6zM2019.0 1151.9l5.6 5.6l-5.6 5.6l-5.6 -5.6zM2029.9 1225.2l5.6 5.6l-5.6 5.6l-5.6 -5.6z" fill="none" stroke="#7d7d7d" stroke-width="1.4"/><path d="M271.5 1199.4 L273.3 1201.0 L275.0 1202.7 L276.8 1204.3 L278.5 1206.0 L280.3 1207.7 L282.1 1209.3 L283.8 1211.0 L285.6 1212.6 L287.3 1214.3 L289.1 1216.0 L290.9 1217.6 L292.6 1219.3 L294.4 1220.9 L296.1 1222.6 L297.9 1224.2 L299.7 1225.9 L301.4 1227.5 L303.2 1229.2 L304.9 1230.8 L306.7 1232.5 L308.4 1234.1 L310.2 1235.8 L312.0 1237.4 L313.7 1239.1 L315.5 1240.7 L317.2 1242.3 L319.0 1244.0 L320.8 1245.6 L322.5 1247.3 L324.3 1248.9 L326.0 1250.5 L327.8 1252.2 L329.6 1253.8 L331.3 1255.5 L333.1 1257.1 L334.8 1258.7 L336.6 1260.4 L338.4 1262.0 L340.1 1263.6 L341.9 1265.3 L343.6 1266.9 L345.4 1268.5 L347.2 1270.2 L348.9 1271.8 L350.7 1273.4 L352.4 1275.0 L354.2 1276.7 L356.0 1278.3 L357.7 1279.9 L359.5 1281.5 L361.2 1283.2 L363.0 1284.8 L364.7 1286.4 L366.5 1288.0 L368.3 1289.7 L370.0 1291.3 L371.8 1292.9 L373.5 1294.5 L375.3 1296.1 L377.1 1297.8 L378.8 1299.4 L380.6 1301.0 L382.3 1302.6 L384.1 1304.2 L385.9 1305.8 L387.6 1307.4 L389.4 1309.1 L391.1 1310.7 L392.9 1312.3 L394.7 1313.9 L396.4 1315.5 L398.2 1317.1 L399.9 1318.7 L401.7 1320.3 L403.5 1321.9 L405.2 1323.5 L407.0 1325.1 L408.7 1326.7 L410.5 1328.3 L412.3 1329.9 L414.0 1331.5 L415.8 1333.1 L417.5 1334.7 L419.3 1336.3 L421.0 1337.9 L422.8 1339.5 L424.6 1341.1 L426.3 1342.7 L428.1 1344.3 L429.8 1345.9 L431.6 1347.5 L433.4 1349.1 L435.1 1350.7 L436.9 1352.3 L438.6 1353.9 L440.4 1355.5 L442.2 1357.1 L443.9 1358.7 L445.7 1360.2 L447.4 1361.8 L449.2 1363.4 L451.0 1365.0 L452.7 1366.6 L454.5 1368.2 L456.2 1369.8 L458.0 1371.3 L459.8 1372.9 L461.5 1374.5 L463.3 1376.1 L465.0 1377.7 L466.8 1379.3 L468.6 1380.8 L470.3 1382.4 L472.1 1384.0 L473.8 1385.3 L474.4 1129.4 L476.2 1131.0 L477.9 1132.5 L479.7 1134.1 L481.5 1135.7 L483.2 1137.3 L485.0 1138.8 L486.7 1140.4 L488.5 1142.0 L490.3 1143.5 L492.0 1145.1 L493.8 1146.7 L495.5 1148.2 L497.3 1149.8 L499.0 1151.4 L500.8 1152.9 L502.6 1154.5 L504.3 1156.1 L506.1 1157.6 L507.8 1159.2 L509.6 1160.8 L511.4 1162.3 L513.1 1163.9 L514.9 1165.4 L516.6 1167.0 L518.4 1168.6 L520.2 1170.1 L521.9 1171.7 L523.7 1173.2 L525.4 1174.8 L527.2 1176.3 L529.0 1177.9 L530.7 1179.4 L532.5 1181.0 L534.2 1182.6 L536.0 1184.1 L537.8 1185.7 L539.5 1187.2 L541.3 1188.8 L543.0 1190.3 L544.8 1191.8 L546.6 1193.4 L548.3 1194.9 L550.1 1196.5 L551.8 1198.0 L553.6 1199.6 L555.3 1201.1 L557.1 1202.7 L558.9 1204.2 L560.6 1205.7 L562.4 1207.3 L564.1 1208.8 L565.9 1210.4 L567.7 1211.9 L569.4 1213.4 L571.2 1215.0 L572.9 1216.5 L574.7 1218.0 L576.5 1219.6 L578.2 1221.1 L580.0 1222.6 L581.7 1224.2 L583.5 1225.7 L585.3 1227.2 L587.0 1228.8 L588.8 1230.3 L590.5 1231.8 L592.3 1233.4 L594.1 1234.9 L595.8 1236.4 L597.6 1237.9 L599.3 1239.5 L601.1 1241.0 L602.9 1242.5 L604.6 1244.0 L606.4 1245.6 L608.1 1247.1 L609.9 1248.6 L611.6 1250.1 L613.4 1251.6 L615.2 1253.2 L616.9 1254.7 L618.7 1256.2 L620.4 1257.7 L622.2 1259.2 L624.0 1260.8 L625.7 1262.3 L627.5 1263.8 L629.2 1265.3 L631.0 1266.8 L632.8 1268.3 L634.5 1269.8 L636.3 1271.3 L638.0 1272.9 L639.8 1274.4 L641.6 1275.9 L643.3 1277.4 L645.1 1278.9 L646.8 1280.4 L648.6 1281.9 L650.4 1283.4 L652.1 1284.9 L653.9 1286.4 L655.6 1287.9 L657.4 1289.4 L659.2 1290.9 L660.9 1292.4 L662.7 1293.9 L664.4 1295.4 L666.2 1296.9 L667.9 1298.4 L669.7 1299.9 L671.5 1301.4 L673.2 1302.9 L675.0 1304.4 L676.7 1305.9 L678.5 1307.4 L680.3 1308.9 L682.0 1310.4 L683.8 1311.9 L685.5 1313.4 L687.3 1314.9 L689.1 1316.4 L690.8 1317.8 L692.6 1319.3 L694.3 1320.8 L696.1 1322.3 L697.9 1323.8 L699.6 1325.3 L701.4 1326.8 L703.1 1328.3 L704.9 1329.7 L706.7 1331.2 L708.4 1332.7 L710.2 1334.2 L711.9 1335.7 L713.7 1337.2 L715.5 1338.6 L717.2 1340.1 L719.0 1341.6 L720.7 1343.1 L722.5 1344.6 L724.2 1346.0 L726.0 1347.5 L727.8 1349.0 L729.5 1350.5 L731.3 1351.9 L733.0 1353.4 L734.8 1354.9 L736.6 1356.4 L738.3 1357.8 L740.1 1359.3 L741.8 1360.8 L743.6 1362.2 L745.4 1363.7 L747.1 1365.2 L748.9 1366.6 L750.6 1368.1 L752.4 1369.6 L754.2 1371.0 L755.9 1372.5 L757.7 1374.0 L759.4 1375.4 L761.2 1376.9 L763.0 1378.4 L764.7 1379.8 L766.5 1381.3 L768.2 1382.7 L770.0 1384.2 L771.8 1385.3 L772.3 1129.4 L774.1 1130.9 L775.9 1132.4 L777.6 1133.8 L779.4 1135.3 L781.1 1136.7 L782.9 1138.2 L784.7 1139.6 L786.4 1141.1 L788.2 1142.5 L789.9 1144.0 L791.7 1145.5 L793.5 1146.9 L795.2 1148.4 L797.0 1149.8 L798.7 1151.3 L800.5 1152.7 L802.2 1154.2 L804.0 1155.6 L805.8 1157.0 L807.5 1158.5 L809.3 1159.9 L811.0 1161.4 L812.8 1162.8 L814.6 1164.3 L816.3 1165.7 L818.1 1167.2 L819.8 1168.6 L821.6 1170.0 L823.4 1171.5 L825.1 1172.9 L826.9 1174.4 L828.6 1175.8 L830.4 1177.2 L832.2 1178.7 L833.9 1180.1 L835.7 1181.5 L837.4 1183.0 L839.2 1184.4 L841.0 1185.8 L842.7 1187.3 L844.5 1188.7 L846.2 1190.1 L848.0 1191.6 L849.8 1193.0 L851.5 1194.4 L853.3 1195.9 L855.0 1197.3 L856.8 1198.7 L858.5 1200.1 L860.3 1201.6 L862.1 1203.0 L863.8 1204.4 L865.6 1205.8 L867.3 1207.3 L869.1 1208.7 L870.9 1210.1 L872.6 1211.5 L874.4 1213.0 L876.1 1214.4 L877.9 1215.8 L879.7 1217.2 L881.4 1218.6 L883.2 1220.1 L884.9 1221.5 L886.7 1222.9 L888.5 1224.3 L890.2 1225.7 L892.0 1227.1 L893.7 1228.6 L895.5 1230.0 L897.3 1231.4 L899.0 1232.8 L900.8 1234.2 L902.5 1235.6 L904.3 1237.0 L906.1 1238.4 L907.8 1239.8 L909.6 1241.3 L911.3 1242.7 L913.1 1244.1 L914.8 1245.5 L916.6 1246.9 L918.4 1248.3 L920.1 1249.7 L921.9 1251.1 L923.6 1252.5 L925.4 1253.9 L927.2 1255.3 L928.9 1256.7 L930.7 1258.1 L932.4 1259.5 L934.2 1260.9 L936.0 1262.3 L937.7 1263.7 L939.5 1265.1 L941.2 1266.5 L943.0 1267.9 L944.8 1269.3 L946.5 1270.7 L948.3 1272.1 L950.0 1273.5 L951.8 1274.9 L953.6 1276.3 L955.3 1277.7 L957.1 1279.1 L958.8 1280.4 L960.6 1281.8 L962.4 1283.2 L964.1 1284.6 L965.9 1286.0 L967.6 1287.4 L969.4 1288.8 L971.1 1290.2 L972.9 1291.6 L974.7 1292.9 L976.4 1294.3 L978.2 1295.7 L979.9 1297.1 L981.7 1298.5 L983.5 1299.9 L985.2 1301.2 L987.0 1302.6 L988.7 1304.0 L990.5 1305.4 L992.3 1306.8 L994.0 1308.1 L995.8 1309.5 L997.5 1310.9 L999.3 1312.3 L1001.1 1313.7 L1002.8 1315.0 L1004.6 1316.4 L1006.3 1317.8 L1008.1 1319.2 L1009.9 1320.5 L1011.6 1321.9 L1013.4 1323.3 L1015.1 1324.7 L1016.9 1326.0 L1018.7 1327.4 L1020.4 1328.8 L1022.2 1330.1 L1023.9 1331.5 L1025.7 1332.9 L1027.4 1334.2 L1029.2 1335.6 L1031.0 1337.0 L1032.7 1338.3 L1034.5 1339.7 L1036.2 1341.1 L1038.0 1342.4 L1039.8 1343.8 L1041.5 1345.2 L1043.3 1346.5 L1045.0 1347.9 L1046.8 1349.2 L1048.6 1350.6 L1050.3 1352.0 L1052.1 1353.3 L1053.8 1354.7 L1055.6 1356.0 L1057.4 1357.4 L1059.1 1358.8 L1060.9 1360.1 L1062.6 1361.5 L1064.4 1362.8 L1066.2 1364.2 L1067.9 1365.5 L1069.7 1366.9 L1071.4 1368.2 L1073.2 1369.6 L1075.0 1370.9 L1076.7 1372.3 L1078.5 1373.6 L1080.2 1375.0 L1082.0 1376.3 L1083.8 1377.7 L1085.5 1379.0 L1087.3 1380.4 L1089.0 1381.7 L1090.8 1383.1 L1092.5 1384.4 L1094.3 1385.3 L1094.9 1129.5 L1096.7 1130.9 L1098.4 1132.2 L1100.2 1133.5 L1101.9 1134.9 L1103.7 1136.2 L1105.4 1137.6 L1107.2 1138.9 L1109.0 1140.3 L1110.7 1141.6 L1112.5 1142.9 L1114.2 1144.3 L1116.0 1145.6 L1117.8 1146.9 L1119.5 1148.3 L1121.3 1149.6 L1123.0 1150.9 L1124.8 1152.3 L1126.6 1153.6 L1128.3 1155.0 L1130.1 1156.3 L1131.8 1157.6 L1133.6 1158.9 L1135.4 1160.3 L1137.1 1161.6 L1138.9 1162.9 L1140.6 1164.3 L1142.4 1165.6 L1144.2 1166.9 L1145.9 1168.3 L1147.7 1169.6 L1149.4 1170.9 L1151.2 1172.2 L1153.0 1173.6 L1154.7 1174.9 L1156.5 1176.2 L1158.2 1177.5 L1160.0 1178.9 L1161.7 1180.2 L1163.5 1181.5 L1165.3 1182.8 L1167.0 1184.1 L1168.8 1185.5 L1170.5 1186.8 L1172.3 1188.1 L1174.1 1189.4 L1175.8 1190.7 L1177.6 1192.1 L1179.3 1193.4 L1181.1 1194.7 L1182.9 1196.0 L1184.6 1197.3 L1186.4 1198.6 L1188.1 1200.0 L1189.9 1201.3 L1191.7 1202.6 L1193.4 1203.9 L1195.2 1205.2 L1196.9 1206.5 L1198.7 1207.8 L1200.5 1209.1 L1202.2 1210.4 L1204.0 1211.8 L1205.7 1213.1 L1207.5 1214.4 L1209.3 1215.7 L1211.0 1217.0 L1212.8 1218.3 L1214.5 1219.6 L1216.3 1220.9 L1218.0 1222.2 L1219.8 1223.5 L1221.6 1224.8 L1223.3 1226.1 L1225.1 1227.4 L1226.8 1228.7 L1228.6 1230.0 L1230.4 1231.3 L1232.1 1232.6 L1233.9 1233.9 L1235.6 1235.2 L1237.4 1236.5 L1239.2 1237.8 L1240.9 1239.1 L1242.7 1240.4 L1244.4 1241.7 L1246.2 1243.0 L1248.0 1244.3 L1249.7 1245.6 L1251.5 1246.9 L1253.2 1248.2 L1255.0 1249.5 L1256.8 1250.8 L1258.5 1252.0 L1260.3 1253.3 L1262.0 1254.6 L1263.8 1255.9 L1265.6 1257.2 L1267.3 1258.5 L1269.1 1259.8 L1270.8 1261.1 L1272.6 1262.4 L1274.4 1263.6 L1276.1 1264.9 L1277.9 1266.2 L1279.6 1267.5 L1281.4 1268.8 L1283.1 1270.1 L1284.9 1271.3 L1286.7 1272.6 L1288.4 1273.9 L1290.2 1275.2 L1291.9 1276.5 L1293.7 1277.8 L1295.5 1279.0 L1297.2 1280.3 L1299.0 1281.6 L1300.7 1282.9 L1302.5 1284.1 L1304.3 1285.4 L1306.0 1286.7 L1307.8 1288.0 L1309.5 1289.3 L1311.3 1290.5 L1313.1 1291.8 L1314.8 1293.1 L1316.6 1294.3 L1318.3 1295.6 L1320.1 1296.9 L1321.9 1298.2 L1323.6 1299.4 L1325.4 1300.7 L1327.1 1302.0 L1328.9 1303.2 L1330.7 1304.5 L1332.4 1305.8 L1334.2 1307.0 L1335.9 1308.3 L1337.7 1309.6 L1339.4 1310.8 L1341.2 1312.1 L1343.0 1313.4 L1344.7 1314.6 L1346.5 1315.9 L1348.2 1317.2 L1350.0 1318.4 L1351.8 1319.7 L1353.5 1321.0 L1355.3 1322.2 L1357.0 1323.5 L1358.8 1324.7 L1360.6 1326.0 L1362.3 1327.3 L1364.1 1328.5 L1365.8 1329.8 L1367.6 1331.0 L1369.4 1332.3 L1371.1 1333.5 L1372.9 1334.8 L1374.6 1336.1 L1376.4 1337.3 L1378.2 1338.6 L1379.9 1339.8 L1381.7 1341.1 L1383.4 1342.3 L1385.2 1343.6 L1387.0 1344.8 L1388.7 1346.1 L1390.5 1347.3 L1392.2 1348.6 L1394.0 1349.8 L1395.7 1351.1 L1397.5 1352.3 L1399.3 1353.6 L1401.0 1354.8 L1402.8 1356.1 L1404.5 1357.3 L1406.3 1358.6 L1408.1 1359.8 L1409.8 1361.0 L1411.6 1362.3 L1413.3 1363.5 L1415.1 1364.8 L1416.9 1366.0 L1418.6 1367.3 L1420.4 1368.5 L1422.1 1369.7 L1423.9 1371.0 L1425.7 1372.2 L1427.4 1373.5 L1429.2 1374.7 L1430.9 1375.9 L1432.7 1377.2 L1434.5 1378.4 L1436.2 1379.6 L1438.0 1380.9 L1439.7 1382.1 L1441.5 1383.4 L1443.3 1384.6 L1444.4 1128.7 L1445.6 1129.5 L1447.4 1130.8 L1449.1 1132.0 L1450.9 1133.2 L1452.6 1134.5 L1454.4 1135.7 L1456.2 1136.9 L1457.9 1138.2 L1459.7 1139.4 L1461.4 1140.6 L1463.2 1141.8 L1465.0 1143.1 L1466.7 1144.3 L1468.5 1145.5 L1470.2 1146.7 L1472.0 1148.0 L1473.7 1149.2 L1475.5 1150.4 L1477.3 1151.6 L1479.0 1152.9 L1480.8 1154.1 L1482.5 1155.3 L1484.3 1156.5 L1486.1 1157.8 L1487.8 1159.0 L1489.6 1160.2 L1491.3 1161.4 L1493.1 1162.6 L1494.9 1163.9 L1496.6 1165.1 L1498.4 1166.3 L1500.1 1167.5 L1501.9 1168.7 L1503.7 1170.0 L1505.4 1171.2 L1507.2 1172.4 L1508.9 1173.6 L1510.7 1174.8 L1512.5 1176.0 L1514.2 1177.2 L1516.0 1178.5 L1517.7 1179.7 L1519.5 1180.9 L1521.3 1182.1 L1523.0 1183.3 L1524.8 1184.5 L1526.5 1185.7 L1528.3 1186.9 L1530.0 1188.1 L1531.8 1189.3 L1533.6 1190.6 L1535.3 1191.8 L1537.1 1193.0 L1538.8 1194.2 L1540.6 1195.4 L1542.4 1196.6 L1544.1 1197.8 L1545.9 1199.0 L1547.6 1200.2 L1549.4 1201.4 L1551.2 1202.6 L1552.9 1203.8 L1554.7 1205.0 L1556.4 1206.2 L1558.2 1207.4 L1560.0 1208.6 L1561.7 1209.8 L1563.5 1211.0 L1565.2 1212.2 L1567.0 1213.4 L1568.8 1214.6 L1570.5 1215.8 L1572.3 1217.0 L1574.0 1218.2 L1575.8 1219.4 L1577.6 1220.6 L1579.3 1221.8 L1581.1 1223.0 L1582.8 1224.2 L1584.6 1225.4 L1586.3 1226.5 L1588.1 1227.7 L1589.9 1228.9 L1591.6 1230.1 L1593.4 1231.3 L1595.1 1232.5 L1596.9 1233.7 L1598.7 1234.9 L1600.4 1236.1 L1602.2 1237.3 L1603.9 1238.4 L1605.7 1239.6 L1607.5 1240.8 L1609.2 1242.0 L1611.0 1243.2 L1612.7 1244.4 L1614.5 1245.6 L1616.3 1246.7 L1618.0 1247.9 L1619.8 1249.1 L1621.5 1250.3 L1623.3 1251.5 L1625.1 1252.7 L1626.8 1253.8 L1628.6 1255.0 L1630.3 1256.2 L1632.1 1257.4 L1633.9 1258.6 L1635.6 1259.7 L1637.4 1260.9 L1639.1 1262.1 L1640.9 1263.3 L1642.6 1264.4 L1644.4 1265.6 L1646.2 1266.8 L1647.9 1268.0 L1649.7 1269.1 L1651.4 1270.3 L1653.2 1271.5 L1655.0 1272.7 L1656.7 1273.8 L1658.5 1275.0 L1660.2 1276.2 L1662.0 1277.4 L1663.8 1278.5 L1665.5 1279.7 L1667.3 1280.9 L1669.0 1282.0 L1670.8 1283.2 L1672.6 1284.4 L1674.3 1285.5 L1676.1 1286.7 L1677.8 1287.9 L1679.6 1289.0 L1681.4 1290.2 L1683.1 1291.4 L1684.9 1292.5 L1686.6 1293.7 L1688.4 1294.9 L1690.2 1296.0 L1691.9 1297.2 L1693.7 1298.4 L1695.4 1299.5 L1697.2 1300.7 L1698.9 1301.8 L1700.7 1303.0 L1702.5 1304.2 L1704.2 1305.3 L1706.0 1306.5 L1707.7 1307.6 L1709.5 1308.8 L1711.3 1310.0 L1713.0 1311.1 L1714.8 1312.3 L1716.5 1313.4 L1718.3 1314.6 L1720.1 1315.7 L1721.8 1316.9 L1723.6 1318.0 L1725.3 1319.2 L1727.1 1320.4 L1728.9 1321.5 L1730.6 1322.7 L1732.4 1323.8 L1734.1 1325.0 L1735.9 1326.1 L1737.7 1327.3 L1739.4 1328.4 L1741.2 1329.6 L1742.9 1330.7 L1744.7 1331.9 L1746.5 1333.0 L1748.2 1334.2 L1750.0 1335.3 L1751.7 1336.4 L1753.5 1337.6 L1755.2 1338.7 L1757.0 1339.9 L1758.8 1341.0 L1760.5 1342.2 L1762.3 1343.3 L1764.0 1344.5 L1765.8 1345.6 L1767.6 1346.7 L1769.3 1347.9 L1771.1 1349.0 L1772.8 1350.2 L1774.6 1351.3 L1776.4 1352.4 L1778.1 1353.6 L1779.9 1354.7 L1781.6 1355.9 L1783.4 1357.0 L1785.2 1358.1 L1786.9 1359.3 L1788.7 1360.4 L1790.4 1361.5 L1792.2 1362.7 L1794.0 1363.8 L1795.7 1365.0 L1797.5 1366.1 L1799.2 1367.2 L1801.0 1368.4 L1802.8 1369.5 L1804.5 1370.6 L1806.3 1371.8 L1808.0 1372.9 L1809.8 1374.0 L1811.5 1375.1 L1813.3 1376.3 L1815.1 1377.4 L1816.8 1378.5 L1818.6 1379.7 L1820.3 1380.8 L1822.1 1381.9 L1823.9 1383.0 L1825.6 1384.2 L1827.4 1385.3 L1828.0 1129.0 L1829.7 1130.1 L1831.5 1131.2 L1833.2 1132.3 L1835.0 1133.5 L1836.8 1134.6 L1838.5 1135.7 L1840.3 1136.8 L1842.0 1138.0 L1843.8 1139.1 L1845.6 1140.2 L1847.3 1141.3 L1849.1 1142.5 L1850.8 1143.6 L1852.6 1144.7 L1854.4 1145.8 L1856.1 1146.9 L1857.9 1148.0 L1859.6 1149.2 L1861.4 1150.3 L1863.2 1151.4 L1864.9 1152.5 L1866.7 1153.6 L1868.4 1154.7 L1870.2 1155.9 L1872.0 1157.0 L1873.7 1158.1 L1875.5 1159.2 L1877.2 1160.3 L1879.0 1161.4 L1880.8 1162.5 L1882.5 1163.7 L1884.3 1164.8 L1886.0 1165.9 L1887.8 1167.0 L1889.5 1168.1 L1891.3 1169.2 L1893.1 1170.3 L1894.8 1171.4 L1896.6 1172.5 L1898.3 1173.6 L1900.1 1174.7 L1901.9 1175.9 L1903.6 1177.0 L1905.4 1178.1 L1907.1 1179.2 L1908.9 1180.3 L1910.7 1181.4 L1912.4 1182.5 L1914.2 1183.6 L1915.9 1184.7 L1917.7 1185.8 L1919.5 1186.9 L1921.2 1188.0 L1923.0 1189.1 L1924.7 1190.2 L1926.5 1191.3 L1928.3 1192.4 L1930.0 1193.5 L1931.8 1194.6 L1933.5 1195.7 L1935.3 1196.8 L1937.1 1197.9 L1938.8 1199.0 L1940.6 1200.1 L1942.3 1201.2 L1944.1 1202.3 L1945.8 1203.4 L1947.6 1204.5 L1949.4 1205.6 L1951.1 1206.7 L1952.9 1207.8 L1954.6 1208.8 L1956.4 1209.9 L1958.2 1211.0 L1959.9 1212.1 L1961.7 1213.2 L1963.4 1214.3 L1965.2 1215.4 L1967.0 1216.5 L1968.7 1217.6 L1970.5 1218.7 L1972.2 1219.8 L1974.0 1220.8 L1975.8 1221.9 L1977.5 1223.0 L1979.3 1224.1 L1981.0 1225.2 L1982.8 1226.3 L1984.6 1227.4 L1986.3 1228.4 L1988.1 1229.5 L1989.8 1230.6 L1991.6 1231.7 L1993.4 1232.8 L1995.1 1233.9 L1996.9 1234.9 L1998.6 1236.0 L2000.4 1237.1 L2002.1 1238.2 L2003.9 1239.3 L2005.7 1240.4 L2007.4 1241.4 L2009.2 1242.5 L2010.9 1243.6 L2012.7 1244.7 L2014.5 1245.8 L2016.2 1246.8 L2018.0 1247.9 L2019.7 1249.0 L2021.5 1250.1 L2023.3 1251.1 L2025.0 1252.2 L2026.8 1253.3 L2028.5 1254.4 L2030.3 1255.4 L2030.3 1255.4" fill="none" stroke="#ea0a0a" stroke-width="5.0" stroke-linejoin="round" stroke-linecap="round"/></g><rect x="184.5" y="8.9" width="1933.1" height="1425.8" fill="none" stroke="#000" stroke-width="11.5"/><line x1="184.5" y1="365.5" x2="2117.6" y2="365.5" stroke="#000" stroke-width="11.5"/><line x1="184.5" y1="721.8" x2="2117.6" y2="721.8" stroke="#000" stroke-width="11.5"/><line x1="184.5" y1="1078.3" x2="2117.6" y2="1078.3" stroke="#000" stroke-width="11.5"/><rect x="165.6" y="104.8" width="15" height="11" fill="#000"/><rect x="165.6" y="251.1" width="15" height="11" fill="#000"/><rect x="165.6" y="395.5" width="15" height="11" fill="#000"/><rect x="165.6" y="538.2" width="15" height="11" fill="#000"/><rect x="165.6" y="680.9" width="15" height="11" fill="#000"/><rect x="165.6" y="752.3" width="15" height="11" fill="#000"/><rect x="165.6" y="894.8" width="15" height="11" fill="#000"/><rect x="165.6" y="1037.3" width="15" height="11" fill="#000"/><rect x="165.6" y="1123.2" width="15" height="11" fill="#000"/><rect x="165.6" y="1187.3" width="15" height="11" fill="#000"/><rect x="165.6" y="1251.5" width="15" height="11" fill="#000"/><rect x="165.6" y="1315.7" width="15" height="11" fill="#000"/><rect x="165.6" y="1379.8" width="15" height="11" fill="#000"/><rect x="234.4" y="1438" width="11" height="15.2" fill="#000"/><rect x="513.8" y="1438" width="11" height="15.2" fill="#000"/><rect x="793.2" y="1438" width="11" height="15.2" fill="#000"/><rect x="1072.6" y="1438" width="11" height="15.2" fill="#000"/><rect x="1352.0" y="1438" width="11" height="15.2" fill="#000"/><rect x="1631.4" y="1438" width="11" height="15.2" fill="#000"/><rect x="1910.8" y="1438" width="11" height="15.2" fill="#000"/><g font-family="Liberation Sans, Arial, Helvetica, sans-serif" font-size="57" fill="#000"><text transform="translate(159.5,130.9) scale(0.984,1)" text-anchor="end">0.<tspan font-family="NanumGothic" font-weight="bold" font-size="53">1</tspan></text><text transform="translate(159.5,277.2) scale(0.984,1)" text-anchor="end">0.0</text><text transform="translate(159.5,421.6) scale(0.984,1)" text-anchor="end"><tspan font-family="NanumGothic" font-weight="bold" font-size="53">1</tspan>.0</text><text transform="translate(159.5,564.3) scale(0.984,1)" text-anchor="end">0.0</text><text transform="translate(159.5,707.0) scale(0.984,1)" text-anchor="end">-<tspan font-family="NanumGothic" font-weight="bold" font-size="53">1</tspan>.0</text><text transform="translate(159.5,778.4) scale(0.984,1)" text-anchor="end"><tspan font-family="NanumGothic" font-weight="bold" font-size="53">1</tspan>.0</text><text transform="translate(159.5,920.9) scale(0.984,1)" text-anchor="end">0.0</text><text transform="translate(159.5,1063.4) scale(0.984,1)" text-anchor="end">-<tspan font-family="NanumGothic" font-weight="bold" font-size="53">1</tspan>.0</text><text transform="translate(159.5,1149.2) scale(0.984,1)" text-anchor="end">90</text><text transform="translate(159.5,1213.4) scale(0.984,1)" text-anchor="end">45</text><text transform="translate(159.5,1277.6) scale(0.984,1)" text-anchor="end">0</text><text transform="translate(159.5,1341.8) scale(0.984,1)" text-anchor="end">-45</text><text transform="translate(159.5,1405.9) scale(0.984,1)" text-anchor="end">-90</text><text transform="translate(239.9,1501) scale(0.976,1)" text-anchor="middle">400.0</text><text transform="translate(519.3,1501) scale(0.976,1)" text-anchor="middle">4<tspan font-family="NanumGothic" font-weight="bold" font-size="53">1</tspan>0.0</text><text transform="translate(798.7,1501) scale(0.976,1)" text-anchor="middle">420.0</text><text transform="translate(1078.1,1501) scale(0.976,1)" text-anchor="middle">430.0</text><text transform="translate(1357.5,1501) scale(0.976,1)" text-anchor="middle">440.0</text><text transform="translate(1636.9,1501) scale(0.976,1)" text-anchor="middle">450.0</text><text transform="translate(1916.3,1501) scale(0.976,1)" text-anchor="middle">460.0</text><text x="203.5" y="67.3">a</text><text x="203.5" y="423.9">b</text><text x="203.5" y="780.2">c</text><text x="203.5" y="1136.7">d</text><text transform="translate(1150.6,1561) scale(0.98,1)" text-anchor="middle">Frequency (MHz)</text><text transform="translate(60.5,187.4) rotate(-90) scale(0.964,1)" text-anchor="middle">I (arb.)</text><text transform="translate(42,543) rotate(-90)" text-anchor="middle">Q/L</text><text transform="translate(42,900) rotate(-90)" text-anchor="middle">U/L</text><text transform="translate(57.9,1294.2) rotate(-90) scale(0.974,1)">(deg)</text><text transform="translate(55.8,1349.6) rotate(-90)" font-family="Liberation Serif, DejaVu Serif, serif" font-style="italic" font-size="60.6" stroke="#fff" stroke-width="0.9">&#968;</text></g></svg>
</body></html>
